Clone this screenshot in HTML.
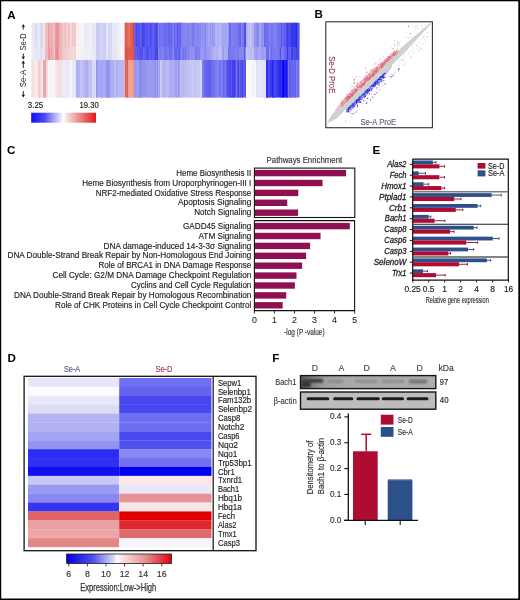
<!DOCTYPE html>
<html><head><meta charset="utf-8"><style>
html,body{margin:0;padding:0;background:#fff;}
svg{display:block;font-family:"Liberation Sans", sans-serif;will-change:transform;}
</style></head><body>
<svg width="520" height="600" viewBox="0 0 520 600">
<rect x="0.00" y="0.00" width="520.00" height="600.00" fill="#fff" />
<text x="7.30" y="18.50" font-size="11.6" fill="#000" text-anchor="start" font-weight="bold" font-style="normal" >A</text>
<text x="314.60" y="18.40" font-size="11.6" fill="#000" text-anchor="start" font-weight="bold" font-style="normal" >B</text>
<text x="7.00" y="153.80" font-size="11.6" fill="#000" text-anchor="start" font-weight="bold" font-style="normal" >C</text>
<text x="7.60" y="362.00" font-size="11.6" fill="#000" text-anchor="start" font-weight="bold" font-style="normal" >D</text>
<text x="372.60" y="153.80" font-size="11.6" fill="#000" text-anchor="start" font-weight="bold" font-style="normal" >E</text>
<text x="272.30" y="361.80" font-size="11.6" fill="#000" text-anchor="start" font-weight="bold" font-style="normal" >F</text>
<rect x="31.60" y="22.80" width="2.70" height="24.20" fill="#ECECF8" />
<rect x="31.60" y="22.80" width="2.00" height="24.20" fill="#EAEAF7"/>
<rect x="33.60" y="22.80" width="0.40" height="24.20" fill="#EFEFF9"/>
<rect x="34.00" y="22.80" width="3.30" height="24.20" fill="#DCDCF4" />
<rect x="34.00" y="22.80" width="2.00" height="24.20" fill="#E0E0F5"/>
<rect x="37.00" y="22.80" width="3.30" height="24.20" fill="#E4E4F6" />
<rect x="37.00" y="22.80" width="2.00" height="24.20" fill="#E7E7F7"/>
<rect x="39.00" y="22.80" width="1.00" height="24.20" fill="#E7E7F7"/>
<rect x="40.00" y="22.80" width="3.30" height="24.20" fill="#D8D8F4" />
<rect x="42.00" y="22.80" width="1.00" height="24.20" fill="#D7D7F4"/>
<rect x="43.00" y="22.80" width="2.30" height="24.20" fill="#F4E8EC" />
<rect x="43.00" y="22.80" width="2.00" height="24.20" fill="#F3E5EA"/>
<rect x="45.00" y="22.80" width="3.30" height="24.20" fill="#F0BCC0" />
<rect x="48.00" y="22.80" width="4.30" height="24.20" fill="#EBA4A8" />
<rect x="48.00" y="22.80" width="1.00" height="24.20" fill="#E99CA0"/>
<rect x="49.00" y="22.80" width="2.00" height="24.20" fill="#EDACAF"/>
<rect x="51.00" y="22.80" width="1.00" height="24.20" fill="#EEB3B6"/>
<rect x="52.00" y="22.80" width="3.30" height="24.20" fill="#EFB4B8" />
<rect x="52.00" y="22.80" width="1.00" height="24.20" fill="#EEAFB4"/>
<rect x="53.00" y="22.80" width="1.50" height="24.20" fill="#F1BEC1"/>
<rect x="55.00" y="22.80" width="4.30" height="24.20" fill="#E8949C" />
<rect x="55.00" y="22.80" width="1.50" height="24.20" fill="#EA9EA5"/>
<rect x="56.50" y="22.80" width="1.00" height="24.20" fill="#E78D96"/>
<rect x="59.00" y="22.80" width="3.30" height="24.20" fill="#F0B8BC" />
<rect x="59.00" y="22.80" width="1.50" height="24.20" fill="#EFB4B8"/>
<rect x="60.50" y="22.80" width="1.00" height="24.20" fill="#EEAEB3"/>
<rect x="61.50" y="22.80" width="0.50" height="24.20" fill="#EFB3B8"/>
<rect x="62.00" y="22.80" width="4.30" height="24.20" fill="#F0C8CC" />
<rect x="62.00" y="22.80" width="1.00" height="24.20" fill="#EFC5C9"/>
<rect x="63.00" y="22.80" width="1.00" height="24.20" fill="#F1CCD0"/>
<rect x="64.00" y="22.80" width="1.00" height="24.20" fill="#EFC5CA"/>
<rect x="65.00" y="22.80" width="1.00" height="24.20" fill="#EDBDC2"/>
<rect x="66.00" y="22.80" width="4.30" height="24.20" fill="#F0C8CC" />
<rect x="66.00" y="22.80" width="2.00" height="24.20" fill="#F2CED1"/>
<rect x="68.00" y="22.80" width="2.00" height="24.20" fill="#EFC3C7"/>
<rect x="70.00" y="22.80" width="2.30" height="24.20" fill="#F4D8DA" />
<rect x="70.00" y="22.80" width="1.00" height="24.20" fill="#F5DADC"/>
<rect x="72.00" y="22.80" width="4.30" height="24.20" fill="#F0CCD0" />
<rect x="72.00" y="22.80" width="1.50" height="24.20" fill="#EFC8CD"/>
<rect x="73.50" y="22.80" width="2.00" height="24.20" fill="#EFCACE"/>
<rect x="75.50" y="22.80" width="0.50" height="24.20" fill="#EFC7CC"/>
<rect x="76.00" y="22.80" width="4.30" height="24.20" fill="#F8F0F2" />
<rect x="76.00" y="22.80" width="1.00" height="24.20" fill="#F7EEF1"/>
<rect x="77.00" y="22.80" width="1.00" height="24.20" fill="#F9F2F3"/>
<rect x="79.00" y="22.80" width="1.00" height="24.20" fill="#FAF4F5"/>
<rect x="80.00" y="22.80" width="4.30" height="24.20" fill="#F4F4FA" />
<rect x="83.00" y="22.80" width="1.00" height="24.20" fill="#F4F4FA"/>
<rect x="84.00" y="22.80" width="4.30" height="24.20" fill="#ECECF8" />
<rect x="84.00" y="22.80" width="1.00" height="24.20" fill="#E9E9F7"/>
<rect x="87.50" y="22.80" width="0.50" height="24.20" fill="#EAEAF7"/>
<rect x="88.00" y="22.80" width="4.30" height="24.20" fill="#F0F0FA" />
<rect x="88.00" y="22.80" width="1.00" height="24.20" fill="#EFEFFA"/>
<rect x="91.50" y="22.80" width="0.50" height="24.20" fill="#F1F1FA"/>
<rect x="92.00" y="22.80" width="4.30" height="24.20" fill="#E8E8F8" />
<rect x="92.00" y="22.80" width="2.00" height="24.20" fill="#E7E7F8"/>
<rect x="95.00" y="22.80" width="1.00" height="24.20" fill="#EAEAF8"/>
<rect x="96.00" y="22.80" width="3.30" height="24.20" fill="#C8C8F4" />
<rect x="96.00" y="22.80" width="2.00" height="24.20" fill="#CBCBF5"/>
<rect x="98.00" y="22.80" width="1.00" height="24.20" fill="#C2C2F3"/>
<rect x="99.00" y="22.80" width="4.30" height="24.20" fill="#D4D4F6" />
<rect x="102.00" y="22.80" width="1.00" height="24.20" fill="#D2D2F6"/>
<rect x="103.00" y="22.80" width="3.30" height="24.20" fill="#CCCCF4" />
<rect x="104.00" y="22.80" width="1.00" height="24.20" fill="#CFCFF5"/>
<rect x="105.00" y="22.80" width="1.00" height="24.20" fill="#C7C7F3"/>
<rect x="106.00" y="22.80" width="2.30" height="24.20" fill="#E4E4F8" />
<rect x="106.00" y="22.80" width="2.00" height="24.20" fill="#E6E6F9"/>
<rect x="108.00" y="22.80" width="4.30" height="24.20" fill="#D8D8F6" />
<rect x="111.50" y="22.80" width="0.50" height="24.20" fill="#DBDBF7"/>
<rect x="112.00" y="22.80" width="5.30" height="24.20" fill="#E8E8F8" />
<rect x="114.00" y="22.80" width="1.00" height="24.20" fill="#E7E7F8"/>
<rect x="116.00" y="22.80" width="1.00" height="24.20" fill="#E5E5F7"/>
<rect x="117.00" y="22.80" width="3.30" height="24.20" fill="#F0F0FA" />
<rect x="117.00" y="22.80" width="1.50" height="24.20" fill="#EFEFFA"/>
<rect x="118.50" y="22.80" width="1.00" height="24.20" fill="#EDEDF9"/>
<rect x="120.00" y="22.80" width="4.30" height="24.20" fill="#F4F4FA" />
<rect x="120.00" y="22.80" width="1.00" height="24.20" fill="#F3F3FA"/>
<rect x="121.00" y="22.80" width="1.00" height="24.20" fill="#F4F4FA"/>
<rect x="122.00" y="22.80" width="1.00" height="24.20" fill="#F3F3FA"/>
<rect x="123.00" y="22.80" width="1.00" height="24.20" fill="#F5F5FB"/>
<rect x="124.00" y="22.80" width="1.10" height="24.20" fill="#F8F0F0" />
<rect x="124.00" y="22.80" width="0.80" height="24.20" fill="#F7EEEE"/>
<rect x="124.80" y="22.80" width="2.50" height="24.20" fill="#D44A3C" />
<rect x="124.80" y="22.80" width="1.00" height="24.20" fill="#DB695E"/>
<rect x="125.80" y="22.80" width="1.20" height="24.20" fill="#D95E51"/>
<rect x="127.00" y="22.80" width="3.30" height="24.20" fill="#E05A4C" />
<rect x="127.00" y="22.80" width="1.50" height="24.20" fill="#E26659"/>
<rect x="128.50" y="22.80" width="1.00" height="24.20" fill="#E77E73"/>
<rect x="129.50" y="22.80" width="0.50" height="24.20" fill="#E47266"/>
<rect x="130.00" y="22.80" width="3.30" height="24.20" fill="#E2604F" />
<rect x="131.50" y="22.80" width="1.00" height="24.20" fill="#E15A49"/>
<rect x="133.00" y="22.80" width="1.60" height="24.20" fill="#D85A4C" />
<rect x="133.00" y="22.80" width="1.00" height="24.20" fill="#D34637"/>
<rect x="134.00" y="22.80" width="0.30" height="24.20" fill="#DB685B"/>
<rect x="134.30" y="22.80" width="4.00" height="24.20" fill="#5656EE" />
<rect x="134.30" y="22.80" width="1.50" height="24.20" fill="#6464EF"/>
<rect x="135.80" y="22.80" width="1.00" height="24.20" fill="#4343EC"/>
<rect x="138.00" y="22.80" width="8.30" height="24.20" fill="#5252EE" />
<rect x="140.00" y="22.80" width="1.00" height="24.20" fill="#5D5DEF"/>
<rect x="141.00" y="22.80" width="1.00" height="24.20" fill="#5D5DEF"/>
<rect x="142.00" y="22.80" width="1.00" height="24.20" fill="#3F3FEC"/>
<rect x="143.00" y="22.80" width="1.50" height="24.20" fill="#4747ED"/>
<rect x="146.00" y="22.80" width="6.30" height="24.20" fill="#4646EE" />
<rect x="146.00" y="22.80" width="2.00" height="24.20" fill="#5656F0"/>
<rect x="148.00" y="22.80" width="2.00" height="24.20" fill="#5A5AF0"/>
<rect x="151.00" y="22.80" width="1.00" height="24.20" fill="#5555EF"/>
<rect x="152.00" y="22.80" width="6.30" height="24.20" fill="#5050EE" />
<rect x="152.00" y="22.80" width="1.00" height="24.20" fill="#5B5BEF"/>
<rect x="153.00" y="22.80" width="1.00" height="24.20" fill="#6666F0"/>
<rect x="156.00" y="22.80" width="1.50" height="24.20" fill="#4444ED"/>
<rect x="157.50" y="22.80" width="0.50" height="24.20" fill="#5959EF"/>
<rect x="158.00" y="22.80" width="4.30" height="24.20" fill="#6E6EF0" />
<rect x="158.00" y="22.80" width="1.00" height="24.20" fill="#8484F2"/>
<rect x="160.50" y="22.80" width="1.50" height="24.20" fill="#7878F1"/>
<rect x="162.00" y="22.80" width="8.30" height="24.20" fill="#7070F0" />
<rect x="164.00" y="22.80" width="1.50" height="24.20" fill="#6C6CF0"/>
<rect x="165.50" y="22.80" width="1.00" height="24.20" fill="#6363EF"/>
<rect x="166.50" y="22.80" width="1.00" height="24.20" fill="#7D7DF1"/>
<rect x="167.50" y="22.80" width="1.50" height="24.20" fill="#6565EF"/>
<rect x="169.00" y="22.80" width="1.00" height="24.20" fill="#6666EF"/>
<rect x="170.00" y="22.80" width="4.30" height="24.20" fill="#7474F0" />
<rect x="170.00" y="22.80" width="1.00" height="24.20" fill="#6969EF"/>
<rect x="171.00" y="22.80" width="1.00" height="24.20" fill="#6A6AEF"/>
<rect x="173.00" y="22.80" width="1.00" height="24.20" fill="#7E7EF1"/>
<rect x="174.00" y="22.80" width="7.30" height="24.20" fill="#6464F0" />
<rect x="175.00" y="22.80" width="2.00" height="24.20" fill="#7171F1"/>
<rect x="177.00" y="22.80" width="1.50" height="24.20" fill="#5959EF"/>
<rect x="178.50" y="22.80" width="2.00" height="24.20" fill="#6F6FF1"/>
<rect x="180.50" y="22.80" width="0.50" height="24.20" fill="#4C4CEE"/>
<rect x="181.00" y="22.80" width="5.30" height="24.20" fill="#7C7CF0" />
<rect x="181.00" y="22.80" width="1.00" height="24.20" fill="#8080F0"/>
<rect x="182.00" y="22.80" width="1.50" height="24.20" fill="#8585F1"/>
<rect x="183.50" y="22.80" width="1.50" height="24.20" fill="#8585F1"/>
<rect x="185.00" y="22.80" width="1.00" height="24.20" fill="#8888F1"/>
<rect x="186.00" y="22.80" width="8.30" height="24.20" fill="#8484F0" />
<rect x="190.50" y="22.80" width="1.00" height="24.20" fill="#9797F2"/>
<rect x="191.50" y="22.80" width="2.00" height="24.20" fill="#7979EF"/>
<rect x="193.50" y="22.80" width="0.50" height="24.20" fill="#7B7BEF"/>
<rect x="194.00" y="22.80" width="5.30" height="24.20" fill="#8282F0" />
<rect x="195.00" y="22.80" width="2.00" height="24.20" fill="#8989F1"/>
<rect x="199.00" y="22.80" width="7.30" height="24.20" fill="#9090F2" />
<rect x="199.00" y="22.80" width="1.00" height="24.20" fill="#8D8DF2"/>
<rect x="200.00" y="22.80" width="1.50" height="24.20" fill="#8989F1"/>
<rect x="201.50" y="22.80" width="1.00" height="24.20" fill="#9E9EF4"/>
<rect x="202.50" y="22.80" width="1.00" height="24.20" fill="#8585F1"/>
<rect x="203.50" y="22.80" width="1.00" height="24.20" fill="#A2A2F4"/>
<rect x="204.50" y="22.80" width="1.50" height="24.20" fill="#8585F1"/>
<rect x="206.00" y="22.80" width="6.30" height="24.20" fill="#9898F2" />
<rect x="206.00" y="22.80" width="1.00" height="24.20" fill="#9E9EF3"/>
<rect x="208.00" y="22.80" width="2.00" height="24.20" fill="#A5A5F4"/>
<rect x="210.00" y="22.80" width="1.50" height="24.20" fill="#9C9CF3"/>
<rect x="211.50" y="22.80" width="0.50" height="24.20" fill="#A4A4F4"/>
<rect x="212.00" y="22.80" width="4.30" height="24.20" fill="#A8A8F4" />
<rect x="212.00" y="22.80" width="1.00" height="24.20" fill="#9494F2"/>
<rect x="213.00" y="22.80" width="1.00" height="24.20" fill="#A4A4F4"/>
<rect x="214.00" y="22.80" width="1.00" height="24.20" fill="#9898F2"/>
<rect x="215.00" y="22.80" width="1.00" height="24.20" fill="#B5B5F6"/>
<rect x="216.00" y="22.80" width="6.30" height="24.20" fill="#B4B4F6" />
<rect x="216.00" y="22.80" width="1.50" height="24.20" fill="#B7B7F6"/>
<rect x="217.50" y="22.80" width="1.50" height="24.20" fill="#A9A9F5"/>
<rect x="219.00" y="22.80" width="1.50" height="24.20" fill="#BBBBF7"/>
<rect x="220.50" y="22.80" width="1.00" height="24.20" fill="#AEAEF5"/>
<rect x="222.00" y="22.80" width="6.30" height="24.20" fill="#A4A4F4" />
<rect x="226.50" y="22.80" width="1.50" height="24.20" fill="#A9A9F5"/>
<rect x="228.00" y="22.80" width="6.30" height="24.20" fill="#7070F0" />
<rect x="228.00" y="22.80" width="1.00" height="24.20" fill="#9494F4"/>
<rect x="229.00" y="22.80" width="2.00" height="24.20" fill="#6666EF"/>
<rect x="231.00" y="22.80" width="2.00" height="24.20" fill="#8181F2"/>
<rect x="233.00" y="22.80" width="1.00" height="24.20" fill="#7979F1"/>
<rect x="234.00" y="22.80" width="10.30" height="24.20" fill="#7474F0" />
<rect x="234.00" y="22.80" width="2.00" height="24.20" fill="#7E7EF1"/>
<rect x="237.00" y="22.80" width="1.50" height="24.20" fill="#7979F1"/>
<rect x="238.50" y="22.80" width="1.00" height="24.20" fill="#6969EF"/>
<rect x="239.50" y="22.80" width="1.50" height="24.20" fill="#6161EE"/>
<rect x="241.00" y="22.80" width="1.50" height="24.20" fill="#8F8FF3"/>
<rect x="242.50" y="22.80" width="1.50" height="24.20" fill="#6F6FEF"/>
<rect x="244.00" y="22.80" width="2.30" height="24.20" fill="#6868EE" />
<rect x="244.00" y="22.80" width="1.00" height="24.20" fill="#5858EC"/>
<rect x="245.00" y="22.80" width="1.00" height="24.20" fill="#4545EA"/>
<rect x="246.00" y="22.80" width="8.30" height="24.20" fill="#B8B8F4" />
<rect x="246.00" y="22.80" width="2.00" height="24.20" fill="#B5B5F4"/>
<rect x="248.00" y="22.80" width="1.00" height="24.20" fill="#C2C2F6"/>
<rect x="250.00" y="22.80" width="2.00" height="24.20" fill="#C6C6F6"/>
<rect x="252.00" y="22.80" width="2.00" height="24.20" fill="#B0B0F3"/>
<rect x="254.00" y="22.80" width="10.30" height="24.20" fill="#9898F2" />
<rect x="255.50" y="22.80" width="1.50" height="24.20" fill="#8D8DF1"/>
<rect x="257.00" y="22.80" width="2.00" height="24.20" fill="#8686F0"/>
<rect x="259.00" y="22.80" width="2.00" height="24.20" fill="#A5A5F4"/>
<rect x="261.00" y="22.80" width="1.50" height="24.20" fill="#9090F1"/>
<rect x="262.50" y="22.80" width="1.00" height="24.20" fill="#9292F1"/>
<rect x="263.50" y="22.80" width="0.50" height="24.20" fill="#8D8DF1"/>
<rect x="264.00" y="22.80" width="6.30" height="24.20" fill="#7474F0" />
<rect x="264.00" y="22.80" width="1.00" height="24.20" fill="#6464EE"/>
<rect x="266.00" y="22.80" width="1.50" height="24.20" fill="#6C6CEF"/>
<rect x="269.00" y="22.80" width="1.00" height="24.20" fill="#7D7DF1"/>
<rect x="270.00" y="22.80" width="10.30" height="24.20" fill="#7070F0" />
<rect x="270.00" y="22.80" width="1.00" height="24.20" fill="#8181F2"/>
<rect x="272.50" y="22.80" width="1.00" height="24.20" fill="#7878F1"/>
<rect x="273.50" y="22.80" width="1.00" height="24.20" fill="#8989F3"/>
<rect x="274.50" y="22.80" width="2.00" height="24.20" fill="#8080F2"/>
<rect x="276.50" y="22.80" width="1.00" height="24.20" fill="#8282F2"/>
<rect x="277.50" y="22.80" width="1.00" height="24.20" fill="#6666EF"/>
<rect x="278.50" y="22.80" width="1.00" height="24.20" fill="#7C7CF1"/>
<rect x="279.50" y="22.80" width="0.50" height="24.20" fill="#6565EF"/>
<rect x="280.00" y="22.80" width="6.30" height="24.20" fill="#6464EE" />
<rect x="280.00" y="22.80" width="1.00" height="24.20" fill="#7373F0"/>
<rect x="281.00" y="22.80" width="1.00" height="24.20" fill="#5353EC"/>
<rect x="282.00" y="22.80" width="1.50" height="24.20" fill="#6E6EEF"/>
<rect x="283.50" y="22.80" width="1.00" height="24.20" fill="#6969EF"/>
<rect x="284.50" y="22.80" width="1.00" height="24.20" fill="#5959ED"/>
<rect x="286.00" y="22.80" width="13.50" height="24.20" fill="#4242EE" />
<rect x="286.00" y="22.80" width="1.00" height="24.20" fill="#4D4DEF"/>
<rect x="287.00" y="22.80" width="1.00" height="24.20" fill="#3B3BED"/>
<rect x="288.00" y="22.80" width="1.00" height="24.20" fill="#4848EF"/>
<rect x="289.00" y="22.80" width="1.50" height="24.20" fill="#5050EF"/>
<rect x="290.50" y="22.80" width="2.00" height="24.20" fill="#3636ED"/>
<rect x="292.50" y="22.80" width="1.00" height="24.20" fill="#3B3BED"/>
<rect x="293.50" y="22.80" width="1.00" height="24.20" fill="#2B2BEC"/>
<rect x="294.50" y="22.80" width="1.00" height="24.20" fill="#3A3AED"/>
<rect x="295.50" y="22.80" width="1.50" height="24.20" fill="#2929EC"/>
<rect x="297.00" y="22.80" width="1.00" height="24.20" fill="#4949EF"/>
<rect x="298.00" y="22.80" width="1.20" height="24.20" fill="#5959F0"/>
<rect x="31.60" y="47.00" width="2.70" height="13.00" fill="#EDEDF9" />
<rect x="31.60" y="47.00" width="1.00" height="13.00" fill="#ECECF9"/>
<rect x="32.60" y="47.00" width="1.00" height="13.00" fill="#EFEFFA"/>
<rect x="34.00" y="47.00" width="3.30" height="13.00" fill="#E3E3F6" />
<rect x="34.00" y="47.00" width="2.00" height="13.00" fill="#E6E6F7"/>
<rect x="37.00" y="47.00" width="3.30" height="13.00" fill="#E8E8F8" />
<rect x="37.00" y="47.00" width="1.00" height="13.00" fill="#E7E7F8"/>
<rect x="38.00" y="47.00" width="1.00" height="13.00" fill="#E3E3F7"/>
<rect x="40.00" y="47.00" width="3.30" height="13.00" fill="#E1E1F6" />
<rect x="40.00" y="47.00" width="1.00" height="13.00" fill="#DEDEF5"/>
<rect x="41.00" y="47.00" width="1.00" height="13.00" fill="#DEDEF5"/>
<rect x="42.00" y="47.00" width="1.00" height="13.00" fill="#E2E2F6"/>
<rect x="43.00" y="47.00" width="2.30" height="13.00" fill="#F4E8EC" />
<rect x="43.00" y="47.00" width="1.50" height="13.00" fill="#F3E6EA"/>
<rect x="45.00" y="47.00" width="3.30" height="13.00" fill="#F0BCC0" />
<rect x="45.00" y="47.00" width="1.00" height="13.00" fill="#EFB6BB"/>
<rect x="46.00" y="47.00" width="1.00" height="13.00" fill="#EFB9BD"/>
<rect x="47.00" y="47.00" width="1.00" height="13.00" fill="#EFB6BA"/>
<rect x="48.00" y="47.00" width="4.30" height="13.00" fill="#EBA4A8" />
<rect x="48.00" y="47.00" width="2.00" height="13.00" fill="#E99A9F"/>
<rect x="50.00" y="47.00" width="1.00" height="13.00" fill="#ECA9AD"/>
<rect x="52.00" y="47.00" width="3.30" height="13.00" fill="#EFB4B8" />
<rect x="52.00" y="47.00" width="2.00" height="13.00" fill="#EEB1B6"/>
<rect x="54.00" y="47.00" width="1.00" height="13.00" fill="#F3C7CA"/>
<rect x="55.00" y="47.00" width="4.30" height="13.00" fill="#E8949C" />
<rect x="56.50" y="47.00" width="1.50" height="13.00" fill="#E58790"/>
<rect x="58.00" y="47.00" width="1.00" height="13.00" fill="#EA9CA4"/>
<rect x="59.00" y="47.00" width="3.30" height="13.00" fill="#F0B8BC" />
<rect x="59.00" y="47.00" width="2.00" height="13.00" fill="#EFB4B8"/>
<rect x="61.00" y="47.00" width="1.00" height="13.00" fill="#EFB4B8"/>
<rect x="62.00" y="47.00" width="4.30" height="13.00" fill="#F0C8CC" />
<rect x="64.00" y="47.00" width="1.00" height="13.00" fill="#F1CDD1"/>
<rect x="66.00" y="47.00" width="4.30" height="13.00" fill="#F2D2D5" />
<rect x="66.00" y="47.00" width="1.00" height="13.00" fill="#F3D5D8"/>
<rect x="67.00" y="47.00" width="1.00" height="13.00" fill="#EFC9CC"/>
<rect x="68.00" y="47.00" width="1.00" height="13.00" fill="#F4DADC"/>
<rect x="69.00" y="47.00" width="1.00" height="13.00" fill="#F2D3D6"/>
<rect x="70.00" y="47.00" width="2.30" height="13.00" fill="#F4DBDD" />
<rect x="70.00" y="47.00" width="1.50" height="13.00" fill="#F2D3D5"/>
<rect x="72.00" y="47.00" width="4.30" height="13.00" fill="#F3D9DC" />
<rect x="72.00" y="47.00" width="1.00" height="13.00" fill="#F2D6D9"/>
<rect x="73.00" y="47.00" width="1.00" height="13.00" fill="#F6E2E5"/>
<rect x="74.00" y="47.00" width="1.00" height="13.00" fill="#F0D0D3"/>
<rect x="76.00" y="47.00" width="4.30" height="13.00" fill="#F8F2F2" />
<rect x="76.00" y="47.00" width="1.00" height="13.00" fill="#FAF5F5"/>
<rect x="77.00" y="47.00" width="1.00" height="13.00" fill="#F9F3F3"/>
<rect x="78.00" y="47.00" width="1.50" height="13.00" fill="#F9F3F3"/>
<rect x="80.00" y="47.00" width="4.30" height="13.00" fill="#F2F2F9" />
<rect x="81.00" y="47.00" width="2.00" height="13.00" fill="#F1F1F9"/>
<rect x="84.00" y="47.00" width="4.30" height="13.00" fill="#EDEDF8" />
<rect x="84.00" y="47.00" width="1.50" height="13.00" fill="#EFEFF9"/>
<rect x="85.50" y="47.00" width="1.00" height="13.00" fill="#EEEEF8"/>
<rect x="88.00" y="47.00" width="4.30" height="13.00" fill="#EFEFF9" />
<rect x="88.00" y="47.00" width="1.00" height="13.00" fill="#F0F0F9"/>
<rect x="89.00" y="47.00" width="2.00" height="13.00" fill="#EEEEF9"/>
<rect x="92.00" y="47.00" width="4.30" height="13.00" fill="#EAEAF8" />
<rect x="92.00" y="47.00" width="1.00" height="13.00" fill="#E9E9F8"/>
<rect x="93.00" y="47.00" width="1.00" height="13.00" fill="#ECECF9"/>
<rect x="94.00" y="47.00" width="2.00" height="13.00" fill="#E8E8F7"/>
<rect x="96.00" y="47.00" width="3.30" height="13.00" fill="#C8C8F4" />
<rect x="96.00" y="47.00" width="2.00" height="13.00" fill="#CACAF4"/>
<rect x="98.00" y="47.00" width="1.00" height="13.00" fill="#CBCBF5"/>
<rect x="99.00" y="47.00" width="4.30" height="13.00" fill="#CFCFF5" />
<rect x="99.00" y="47.00" width="1.50" height="13.00" fill="#CCCCF4"/>
<rect x="100.50" y="47.00" width="1.50" height="13.00" fill="#D3D3F6"/>
<rect x="102.00" y="47.00" width="1.00" height="13.00" fill="#D5D5F6"/>
<rect x="103.00" y="47.00" width="3.30" height="13.00" fill="#CACAF4" />
<rect x="104.00" y="47.00" width="1.00" height="13.00" fill="#D0D0F5"/>
<rect x="106.00" y="47.00" width="2.30" height="13.00" fill="#E4E4F8" />
<rect x="106.00" y="47.00" width="1.50" height="13.00" fill="#E6E6F9"/>
<rect x="107.50" y="47.00" width="0.50" height="13.00" fill="#DDDDF6"/>
<rect x="108.00" y="47.00" width="4.30" height="13.00" fill="#D8D8F6" />
<rect x="108.00" y="47.00" width="1.50" height="13.00" fill="#D5D5F5"/>
<rect x="110.50" y="47.00" width="1.50" height="13.00" fill="#DADAF7"/>
<rect x="112.00" y="47.00" width="5.30" height="13.00" fill="#E8E8F8" />
<rect x="112.00" y="47.00" width="1.50" height="13.00" fill="#E6E6F8"/>
<rect x="114.50" y="47.00" width="2.00" height="13.00" fill="#E5E5F7"/>
<rect x="116.50" y="47.00" width="0.50" height="13.00" fill="#E4E4F7"/>
<rect x="117.00" y="47.00" width="3.30" height="13.00" fill="#F0F0FA" />
<rect x="117.00" y="47.00" width="1.00" height="13.00" fill="#EFEFFA"/>
<rect x="119.00" y="47.00" width="1.00" height="13.00" fill="#EFEFFA"/>
<rect x="120.00" y="47.00" width="4.30" height="13.00" fill="#F4F4FA" />
<rect x="120.00" y="47.00" width="1.00" height="13.00" fill="#F5F5FA"/>
<rect x="121.00" y="47.00" width="1.00" height="13.00" fill="#F4F4FA"/>
<rect x="122.00" y="47.00" width="2.00" height="13.00" fill="#F4F4FA"/>
<rect x="124.00" y="47.00" width="1.10" height="13.00" fill="#F8F0F0" />
<rect x="124.00" y="47.00" width="0.80" height="13.00" fill="#F9F2F2"/>
<rect x="124.80" y="47.00" width="2.50" height="13.00" fill="#D6493A" />
<rect x="124.80" y="47.00" width="2.00" height="13.00" fill="#D95749"/>
<rect x="127.00" y="47.00" width="3.30" height="13.00" fill="#DD5344" />
<rect x="128.50" y="47.00" width="1.00" height="13.00" fill="#E16658"/>
<rect x="130.00" y="47.00" width="3.30" height="13.00" fill="#DE5646" />
<rect x="130.00" y="47.00" width="1.00" height="13.00" fill="#E06152"/>
<rect x="132.50" y="47.00" width="0.50" height="13.00" fill="#E26B5D"/>
<rect x="133.00" y="47.00" width="1.30" height="13.00" fill="#D85344" />
<rect x="134.00" y="47.00" width="0.60" height="13.00" fill="#D85344" />
<rect x="134.00" y="47.00" width="0.30" height="13.00" fill="#D33C2B"/>
<rect x="134.30" y="47.00" width="4.00" height="13.00" fill="#5A5AEE" />
<rect x="135.80" y="47.00" width="1.00" height="13.00" fill="#6464EF"/>
<rect x="138.00" y="47.00" width="8.30" height="13.00" fill="#5858EE" />
<rect x="140.00" y="47.00" width="1.00" height="13.00" fill="#4848EC"/>
<rect x="142.00" y="47.00" width="1.00" height="13.00" fill="#4C4CED"/>
<rect x="143.00" y="47.00" width="1.00" height="13.00" fill="#6C6CF0"/>
<rect x="144.00" y="47.00" width="1.50" height="13.00" fill="#5F5FEF"/>
<rect x="145.50" y="47.00" width="0.50" height="13.00" fill="#6262EF"/>
<rect x="146.00" y="47.00" width="6.30" height="13.00" fill="#5050EE" />
<rect x="149.50" y="47.00" width="1.00" height="13.00" fill="#6E6EF1"/>
<rect x="150.50" y="47.00" width="1.00" height="13.00" fill="#6C6CF1"/>
<rect x="151.50" y="47.00" width="0.50" height="13.00" fill="#4646ED"/>
<rect x="152.00" y="47.00" width="6.30" height="13.00" fill="#5656EE" />
<rect x="152.00" y="47.00" width="2.00" height="13.00" fill="#6060EF"/>
<rect x="154.00" y="47.00" width="1.00" height="13.00" fill="#5151ED"/>
<rect x="155.00" y="47.00" width="1.50" height="13.00" fill="#4646EC"/>
<rect x="156.50" y="47.00" width="1.50" height="13.00" fill="#3E3EEC"/>
<rect x="158.00" y="47.00" width="4.30" height="13.00" fill="#7272F0" />
<rect x="158.00" y="47.00" width="1.50" height="13.00" fill="#8686F2"/>
<rect x="159.50" y="47.00" width="1.00" height="13.00" fill="#7878F1"/>
<rect x="160.50" y="47.00" width="1.50" height="13.00" fill="#7C7CF1"/>
<rect x="162.00" y="47.00" width="8.30" height="13.00" fill="#7373F0" />
<rect x="162.00" y="47.00" width="2.00" height="13.00" fill="#8181F1"/>
<rect x="164.00" y="47.00" width="1.50" height="13.00" fill="#6E6EF0"/>
<rect x="167.50" y="47.00" width="2.00" height="13.00" fill="#7A7AF1"/>
<rect x="169.50" y="47.00" width="0.50" height="13.00" fill="#5E5EEE"/>
<rect x="170.00" y="47.00" width="4.30" height="13.00" fill="#7676F0" />
<rect x="170.00" y="47.00" width="1.50" height="13.00" fill="#7272F0"/>
<rect x="171.50" y="47.00" width="1.00" height="13.00" fill="#6464EE"/>
<rect x="172.50" y="47.00" width="1.50" height="13.00" fill="#8B8BF2"/>
<rect x="174.00" y="47.00" width="7.30" height="13.00" fill="#6868F0" />
<rect x="175.50" y="47.00" width="1.50" height="13.00" fill="#6161EF"/>
<rect x="177.00" y="47.00" width="1.50" height="13.00" fill="#6E6EF1"/>
<rect x="178.50" y="47.00" width="1.50" height="13.00" fill="#5E5EEF"/>
<rect x="180.00" y="47.00" width="1.00" height="13.00" fill="#6F6FF1"/>
<rect x="181.00" y="47.00" width="5.30" height="13.00" fill="#7676F0" />
<rect x="181.00" y="47.00" width="1.50" height="13.00" fill="#8B8BF2"/>
<rect x="182.50" y="47.00" width="1.50" height="13.00" fill="#6E6EEF"/>
<rect x="184.00" y="47.00" width="2.00" height="13.00" fill="#7B7BF1"/>
<rect x="186.00" y="47.00" width="8.30" height="13.00" fill="#8686F0" />
<rect x="186.00" y="47.00" width="1.00" height="13.00" fill="#7C7CEF"/>
<rect x="187.00" y="47.00" width="1.00" height="13.00" fill="#8D8DF1"/>
<rect x="188.00" y="47.00" width="1.50" height="13.00" fill="#7E7EEF"/>
<rect x="189.50" y="47.00" width="2.00" height="13.00" fill="#9797F2"/>
<rect x="191.50" y="47.00" width="1.50" height="13.00" fill="#9090F1"/>
<rect x="193.00" y="47.00" width="1.00" height="13.00" fill="#9A9AF2"/>
<rect x="194.00" y="47.00" width="5.30" height="13.00" fill="#8484F0" />
<rect x="194.00" y="47.00" width="1.00" height="13.00" fill="#8989F1"/>
<rect x="195.00" y="47.00" width="1.00" height="13.00" fill="#7A7AEF"/>
<rect x="196.00" y="47.00" width="1.50" height="13.00" fill="#7D7DEF"/>
<rect x="198.50" y="47.00" width="0.50" height="13.00" fill="#8080F0"/>
<rect x="199.00" y="47.00" width="1.30" height="13.00" fill="#8D8DF1" />
<rect x="199.00" y="47.00" width="1.00" height="13.00" fill="#7E7EEF"/>
<rect x="200.00" y="47.00" width="6.30" height="13.00" fill="#9696F2" />
<rect x="202.00" y="47.00" width="1.00" height="13.00" fill="#9D9DF3"/>
<rect x="203.00" y="47.00" width="1.00" height="13.00" fill="#9A9AF2"/>
<rect x="204.00" y="47.00" width="1.50" height="13.00" fill="#8989F0"/>
<rect x="205.50" y="47.00" width="0.50" height="13.00" fill="#8E8EF1"/>
<rect x="206.00" y="47.00" width="4.30" height="13.00" fill="#9B9BF2" />
<rect x="206.00" y="47.00" width="1.00" height="13.00" fill="#8E8EF0"/>
<rect x="210.00" y="47.00" width="2.30" height="13.00" fill="#A5A5F3" />
<rect x="210.00" y="47.00" width="1.50" height="13.00" fill="#9F9FF2"/>
<rect x="211.50" y="47.00" width="0.50" height="13.00" fill="#ABABF4"/>
<rect x="212.00" y="47.00" width="4.30" height="13.00" fill="#AEAEF4" />
<rect x="212.00" y="47.00" width="1.50" height="13.00" fill="#AAAAF3"/>
<rect x="213.50" y="47.00" width="1.00" height="13.00" fill="#B7B7F5"/>
<rect x="215.50" y="47.00" width="0.50" height="13.00" fill="#BABAF6"/>
<rect x="216.00" y="47.00" width="6.30" height="13.00" fill="#B6B6F5" />
<rect x="216.00" y="47.00" width="1.50" height="13.00" fill="#AFAFF4"/>
<rect x="217.50" y="47.00" width="1.00" height="13.00" fill="#B2B2F4"/>
<rect x="218.50" y="47.00" width="2.00" height="13.00" fill="#C2C2F7"/>
<rect x="220.50" y="47.00" width="1.00" height="13.00" fill="#C0C0F6"/>
<rect x="222.00" y="47.00" width="6.30" height="13.00" fill="#ACACF4" />
<rect x="222.00" y="47.00" width="2.00" height="13.00" fill="#9D9DF2"/>
<rect x="224.00" y="47.00" width="1.00" height="13.00" fill="#B4B4F5"/>
<rect x="225.00" y="47.00" width="1.00" height="13.00" fill="#A5A5F3"/>
<rect x="228.00" y="47.00" width="6.30" height="13.00" fill="#7B7BF0" />
<rect x="228.00" y="47.00" width="1.50" height="13.00" fill="#6F6FEF"/>
<rect x="229.50" y="47.00" width="1.50" height="13.00" fill="#7777F0"/>
<rect x="233.50" y="47.00" width="0.50" height="13.00" fill="#7474EF"/>
<rect x="234.00" y="47.00" width="10.30" height="13.00" fill="#7E7EF0" />
<rect x="238.00" y="47.00" width="1.50" height="13.00" fill="#7777EF"/>
<rect x="239.50" y="47.00" width="1.00" height="13.00" fill="#8B8BF2"/>
<rect x="240.50" y="47.00" width="2.00" height="13.00" fill="#8686F1"/>
<rect x="242.50" y="47.00" width="1.00" height="13.00" fill="#9595F3"/>
<rect x="243.50" y="47.00" width="0.50" height="13.00" fill="#7575EF"/>
<rect x="244.00" y="47.00" width="2.30" height="13.00" fill="#7676EF" />
<rect x="244.00" y="47.00" width="1.00" height="13.00" fill="#5D5DEC"/>
<rect x="245.00" y="47.00" width="1.00" height="13.00" fill="#8585F1"/>
<rect x="246.00" y="47.00" width="8.30" height="13.00" fill="#BEBEF4" />
<rect x="246.00" y="47.00" width="1.50" height="13.00" fill="#C4C4F5"/>
<rect x="249.00" y="47.00" width="1.00" height="13.00" fill="#C2C2F5"/>
<rect x="251.00" y="47.00" width="1.00" height="13.00" fill="#B4B4F2"/>
<rect x="252.00" y="47.00" width="2.00" height="13.00" fill="#C1C1F5"/>
<rect x="254.00" y="47.00" width="10.30" height="13.00" fill="#A0A0F2" />
<rect x="255.50" y="47.00" width="1.00" height="13.00" fill="#A3A3F2"/>
<rect x="256.50" y="47.00" width="1.00" height="13.00" fill="#9393F0"/>
<rect x="257.50" y="47.00" width="2.00" height="13.00" fill="#ADADF4"/>
<rect x="260.50" y="47.00" width="1.00" height="13.00" fill="#ABABF4"/>
<rect x="261.50" y="47.00" width="2.00" height="13.00" fill="#9C9CF1"/>
<rect x="263.50" y="47.00" width="0.50" height="13.00" fill="#9A9AF1"/>
<rect x="264.00" y="47.00" width="2.30" height="13.00" fill="#8A8AF1" />
<rect x="264.00" y="47.00" width="1.00" height="13.00" fill="#A0A0F4"/>
<rect x="265.00" y="47.00" width="1.00" height="13.00" fill="#A3A3F4"/>
<rect x="266.00" y="47.00" width="4.30" height="13.00" fill="#7979F0" />
<rect x="266.00" y="47.00" width="1.00" height="13.00" fill="#6D6DEF"/>
<rect x="267.00" y="47.00" width="1.00" height="13.00" fill="#6868EE"/>
<rect x="268.00" y="47.00" width="1.00" height="13.00" fill="#6F6FEF"/>
<rect x="269.00" y="47.00" width="1.00" height="13.00" fill="#8E8EF2"/>
<rect x="270.00" y="47.00" width="10.30" height="13.00" fill="#7676F0" />
<rect x="270.00" y="47.00" width="1.00" height="13.00" fill="#8080F1"/>
<rect x="271.00" y="47.00" width="1.00" height="13.00" fill="#6868EF"/>
<rect x="274.00" y="47.00" width="1.50" height="13.00" fill="#7B7BF1"/>
<rect x="276.50" y="47.00" width="1.00" height="13.00" fill="#8282F1"/>
<rect x="279.50" y="47.00" width="0.50" height="13.00" fill="#6767EE"/>
<rect x="280.00" y="47.00" width="6.30" height="13.00" fill="#6F6FEF" />
<rect x="280.00" y="47.00" width="1.00" height="13.00" fill="#4F4FEB"/>
<rect x="281.00" y="47.00" width="1.50" height="13.00" fill="#7A7AF0"/>
<rect x="282.50" y="47.00" width="1.50" height="13.00" fill="#7D7DF1"/>
<rect x="284.00" y="47.00" width="2.00" height="13.00" fill="#6666EE"/>
<rect x="286.00" y="47.00" width="13.50" height="13.00" fill="#4E4EEE" />
<rect x="286.00" y="47.00" width="1.00" height="13.00" fill="#5D5DEF"/>
<rect x="287.00" y="47.00" width="1.00" height="13.00" fill="#3B3BEC"/>
<rect x="288.00" y="47.00" width="2.00" height="13.00" fill="#5A5AEF"/>
<rect x="290.00" y="47.00" width="1.00" height="13.00" fill="#6666F0"/>
<rect x="291.00" y="47.00" width="2.00" height="13.00" fill="#3F3FED"/>
<rect x="296.00" y="47.00" width="1.00" height="13.00" fill="#4646ED"/>
<rect x="297.00" y="47.00" width="1.00" height="13.00" fill="#4747ED"/>
<rect x="31.60" y="60.00" width="2.70" height="37.50" fill="#F4E0E4" />
<rect x="31.60" y="60.00" width="1.50" height="37.50" fill="#F2DCE0"/>
<rect x="33.10" y="60.00" width="0.90" height="37.50" fill="#F4E1E5"/>
<rect x="34.00" y="60.00" width="4.30" height="37.50" fill="#F8E8EA" />
<rect x="34.00" y="60.00" width="1.50" height="37.50" fill="#F8E7E9"/>
<rect x="35.50" y="60.00" width="1.00" height="37.50" fill="#F7E6E8"/>
<rect x="38.00" y="60.00" width="3.30" height="37.50" fill="#F0D0D4" />
<rect x="38.00" y="60.00" width="2.00" height="37.50" fill="#EFCDD1"/>
<rect x="40.00" y="60.00" width="1.00" height="37.50" fill="#F1D4D8"/>
<rect x="41.00" y="60.00" width="2.30" height="37.50" fill="#F8E4E6" />
<rect x="42.00" y="60.00" width="1.00" height="37.50" fill="#F8E5E7"/>
<rect x="43.00" y="60.00" width="3.30" height="37.50" fill="#E8A4AC" />
<rect x="43.00" y="60.00" width="1.00" height="37.50" fill="#E9A7AF"/>
<rect x="46.00" y="60.00" width="2.30" height="37.50" fill="#F4D8DC" />
<rect x="48.00" y="60.00" width="7.30" height="37.50" fill="#FAF4F6" />
<rect x="52.00" y="60.00" width="1.00" height="37.50" fill="#FAF5F7"/>
<rect x="53.00" y="60.00" width="2.00" height="37.50" fill="#FBF5F7"/>
<rect x="55.00" y="60.00" width="3.30" height="37.50" fill="#F6E4E8" />
<rect x="55.00" y="60.00" width="2.00" height="37.50" fill="#F6E5E9"/>
<rect x="57.00" y="60.00" width="1.00" height="37.50" fill="#F5E2E6"/>
<rect x="58.00" y="60.00" width="4.30" height="37.50" fill="#F4DCE0" />
<rect x="58.00" y="60.00" width="2.00" height="37.50" fill="#F5DEE2"/>
<rect x="60.00" y="60.00" width="1.00" height="37.50" fill="#F5DEE2"/>
<rect x="62.00" y="60.00" width="4.30" height="37.50" fill="#ECECF8" />
<rect x="62.00" y="60.00" width="1.50" height="37.50" fill="#EBEBF8"/>
<rect x="63.50" y="60.00" width="2.00" height="37.50" fill="#EBEBF8"/>
<rect x="65.50" y="60.00" width="0.50" height="37.50" fill="#EBEBF8"/>
<rect x="66.00" y="60.00" width="4.30" height="37.50" fill="#E8E8F8" />
<rect x="66.00" y="60.00" width="1.50" height="37.50" fill="#E7E7F8"/>
<rect x="67.50" y="60.00" width="1.00" height="37.50" fill="#EBEBF9"/>
<rect x="70.00" y="60.00" width="2.30" height="37.50" fill="#F4F4FA" />
<rect x="70.00" y="60.00" width="1.00" height="37.50" fill="#F6F6FB"/>
<rect x="71.00" y="60.00" width="1.00" height="37.50" fill="#F5F5FA"/>
<rect x="72.00" y="60.00" width="4.30" height="37.50" fill="#E8E8F8" />
<rect x="72.00" y="60.00" width="1.00" height="37.50" fill="#EAEAF8"/>
<rect x="75.00" y="60.00" width="1.00" height="37.50" fill="#E6E6F8"/>
<rect x="76.00" y="60.00" width="4.30" height="37.50" fill="#B4B4F2" />
<rect x="76.00" y="60.00" width="2.00" height="37.50" fill="#AEAEF1"/>
<rect x="78.00" y="60.00" width="1.50" height="37.50" fill="#BBBBF3"/>
<rect x="79.50" y="60.00" width="0.50" height="37.50" fill="#A6A6F0"/>
<rect x="80.00" y="60.00" width="4.30" height="37.50" fill="#C0C0F4" />
<rect x="80.00" y="60.00" width="1.50" height="37.50" fill="#C3C3F4"/>
<rect x="82.50" y="60.00" width="1.00" height="37.50" fill="#BABAF3"/>
<rect x="83.50" y="60.00" width="0.50" height="37.50" fill="#C4C4F5"/>
<rect x="84.00" y="60.00" width="4.30" height="37.50" fill="#B8B8F2" />
<rect x="84.00" y="60.00" width="1.50" height="37.50" fill="#B3B3F1"/>
<rect x="85.50" y="60.00" width="1.50" height="37.50" fill="#AFAFF0"/>
<rect x="87.00" y="60.00" width="1.00" height="37.50" fill="#AFAFF0"/>
<rect x="88.00" y="60.00" width="4.30" height="37.50" fill="#C4C4F4" />
<rect x="88.00" y="60.00" width="1.50" height="37.50" fill="#BDBDF3"/>
<rect x="91.00" y="60.00" width="1.00" height="37.50" fill="#BDBDF3"/>
<rect x="92.00" y="60.00" width="4.30" height="37.50" fill="#D4D4F6" />
<rect x="92.00" y="60.00" width="1.00" height="37.50" fill="#DADAF7"/>
<rect x="93.00" y="60.00" width="2.00" height="37.50" fill="#D8D8F7"/>
<rect x="95.00" y="60.00" width="1.00" height="37.50" fill="#DADAF7"/>
<rect x="96.00" y="60.00" width="4.30" height="37.50" fill="#9C9CF0" />
<rect x="96.00" y="60.00" width="1.00" height="37.50" fill="#9393EF"/>
<rect x="98.50" y="60.00" width="1.50" height="37.50" fill="#ADADF3"/>
<rect x="100.00" y="60.00" width="6.30" height="37.50" fill="#A8A8F2" />
<rect x="100.00" y="60.00" width="1.00" height="37.50" fill="#A4A4F1"/>
<rect x="101.00" y="60.00" width="1.00" height="37.50" fill="#A1A1F1"/>
<rect x="102.00" y="60.00" width="1.00" height="37.50" fill="#ACACF3"/>
<rect x="106.00" y="60.00" width="4.30" height="37.50" fill="#9C9CF0" />
<rect x="106.00" y="60.00" width="1.00" height="37.50" fill="#9898EF"/>
<rect x="107.00" y="60.00" width="1.50" height="37.50" fill="#8D8DEE"/>
<rect x="108.50" y="60.00" width="1.00" height="37.50" fill="#9797EF"/>
<rect x="109.50" y="60.00" width="0.50" height="37.50" fill="#9090EE"/>
<rect x="110.00" y="60.00" width="4.30" height="37.50" fill="#A8A8F2" />
<rect x="110.00" y="60.00" width="2.00" height="37.50" fill="#ABABF2"/>
<rect x="112.00" y="60.00" width="1.50" height="37.50" fill="#B1B1F3"/>
<rect x="113.50" y="60.00" width="0.50" height="37.50" fill="#A2A2F1"/>
<rect x="114.00" y="60.00" width="4.30" height="37.50" fill="#B0B0F2" />
<rect x="114.00" y="60.00" width="1.50" height="37.50" fill="#C4C4F5"/>
<rect x="117.50" y="60.00" width="0.50" height="37.50" fill="#ADADF2"/>
<rect x="118.00" y="60.00" width="6.30" height="37.50" fill="#B8B8F4" />
<rect x="124.00" y="60.00" width="1.10" height="37.50" fill="#C0C0F4" />
<rect x="124.00" y="60.00" width="0.80" height="37.50" fill="#CCCCF6"/>
<rect x="124.80" y="60.00" width="3.50" height="37.50" fill="#E26656" />
<rect x="126.30" y="60.00" width="1.00" height="37.50" fill="#E47263"/>
<rect x="127.30" y="60.00" width="0.70" height="37.50" fill="#E05B4A"/>
<rect x="128.00" y="60.00" width="4.30" height="37.50" fill="#F0A496" />
<rect x="128.00" y="60.00" width="2.00" height="37.50" fill="#EF9E8F"/>
<rect x="130.00" y="60.00" width="1.00" height="37.50" fill="#F1A89A"/>
<rect x="132.00" y="60.00" width="2.60" height="37.50" fill="#EC8C7E" />
<rect x="132.00" y="60.00" width="1.50" height="37.50" fill="#EE9A8D"/>
<rect x="133.50" y="60.00" width="0.80" height="37.50" fill="#EFA095"/>
<rect x="134.30" y="60.00" width="4.00" height="37.50" fill="#9898F0" />
<rect x="134.30" y="60.00" width="1.50" height="37.50" fill="#9292EF"/>
<rect x="135.80" y="60.00" width="1.00" height="37.50" fill="#9F9FF1"/>
<rect x="136.80" y="60.00" width="1.00" height="37.50" fill="#9E9EF1"/>
<rect x="138.00" y="60.00" width="8.30" height="37.50" fill="#9494F0" />
<rect x="138.00" y="60.00" width="1.00" height="37.50" fill="#9C9CF1"/>
<rect x="139.00" y="60.00" width="1.00" height="37.50" fill="#8686EE"/>
<rect x="140.00" y="60.00" width="1.00" height="37.50" fill="#8A8AEF"/>
<rect x="141.00" y="60.00" width="2.00" height="37.50" fill="#8D8DEF"/>
<rect x="146.00" y="60.00" width="6.30" height="37.50" fill="#A0A0F2" />
<rect x="146.00" y="60.00" width="2.00" height="37.50" fill="#9898F1"/>
<rect x="148.00" y="60.00" width="1.00" height="37.50" fill="#9696F1"/>
<rect x="149.00" y="60.00" width="1.00" height="37.50" fill="#A3A3F2"/>
<rect x="150.00" y="60.00" width="1.50" height="37.50" fill="#9797F1"/>
<rect x="152.00" y="60.00" width="6.30" height="37.50" fill="#9C9CF0" />
<rect x="152.00" y="60.00" width="2.00" height="37.50" fill="#9898EF"/>
<rect x="154.00" y="60.00" width="1.00" height="37.50" fill="#9797EF"/>
<rect x="155.00" y="60.00" width="1.00" height="37.50" fill="#8B8BED"/>
<rect x="156.00" y="60.00" width="1.00" height="37.50" fill="#A3A3F1"/>
<rect x="157.00" y="60.00" width="1.00" height="37.50" fill="#8C8CEE"/>
<rect x="158.00" y="60.00" width="2.30" height="37.50" fill="#B0B0F2" />
<rect x="158.00" y="60.00" width="1.00" height="37.50" fill="#A9A9F1"/>
<rect x="159.00" y="60.00" width="1.00" height="37.50" fill="#A3A3F0"/>
<rect x="160.00" y="60.00" width="2.30" height="37.50" fill="#D0D0F6" />
<rect x="160.00" y="60.00" width="1.00" height="37.50" fill="#CDCDF5"/>
<rect x="161.00" y="60.00" width="1.00" height="37.50" fill="#C8C8F4"/>
<rect x="162.00" y="60.00" width="8.30" height="37.50" fill="#B8B8F4" />
<rect x="162.00" y="60.00" width="1.00" height="37.50" fill="#BCBCF5"/>
<rect x="163.00" y="60.00" width="1.50" height="37.50" fill="#ADADF2"/>
<rect x="166.50" y="60.00" width="2.00" height="37.50" fill="#BBBBF5"/>
<rect x="168.50" y="60.00" width="1.50" height="37.50" fill="#B4B4F3"/>
<rect x="170.00" y="60.00" width="4.30" height="37.50" fill="#ACACF2" />
<rect x="170.00" y="60.00" width="1.50" height="37.50" fill="#A9A9F2"/>
<rect x="172.50" y="60.00" width="1.00" height="37.50" fill="#B1B1F3"/>
<rect x="173.50" y="60.00" width="0.50" height="37.50" fill="#B2B2F3"/>
<rect x="174.00" y="60.00" width="6.30" height="37.50" fill="#A4A4F2" />
<rect x="175.50" y="60.00" width="1.50" height="37.50" fill="#A1A1F2"/>
<rect x="177.00" y="60.00" width="1.00" height="37.50" fill="#ADADF3"/>
<rect x="178.00" y="60.00" width="1.00" height="37.50" fill="#9393F0"/>
<rect x="180.00" y="60.00" width="10.30" height="37.50" fill="#C0C0F4" />
<rect x="181.00" y="60.00" width="1.00" height="37.50" fill="#B8B8F3"/>
<rect x="182.00" y="60.00" width="2.00" height="37.50" fill="#BABAF3"/>
<rect x="185.00" y="60.00" width="1.00" height="37.50" fill="#B8B8F3"/>
<rect x="189.50" y="60.00" width="0.50" height="37.50" fill="#C2C2F4"/>
<rect x="190.00" y="60.00" width="10.30" height="37.50" fill="#C8C8F4" />
<rect x="191.00" y="60.00" width="1.00" height="37.50" fill="#C4C4F3"/>
<rect x="193.00" y="60.00" width="1.00" height="37.50" fill="#CBCBF5"/>
<rect x="194.00" y="60.00" width="2.00" height="37.50" fill="#C2C2F3"/>
<rect x="196.00" y="60.00" width="1.00" height="37.50" fill="#CBCBF5"/>
<rect x="197.00" y="60.00" width="2.00" height="37.50" fill="#C6C6F4"/>
<rect x="200.00" y="60.00" width="2.30" height="37.50" fill="#D0D0F6" />
<rect x="200.00" y="60.00" width="1.50" height="37.50" fill="#D4D4F7"/>
<rect x="201.50" y="60.00" width="0.50" height="37.50" fill="#D6D6F7"/>
<rect x="202.00" y="60.00" width="8.30" height="37.50" fill="#6A6AF0" />
<rect x="202.00" y="60.00" width="1.00" height="37.50" fill="#7D7DF2"/>
<rect x="203.00" y="60.00" width="1.00" height="37.50" fill="#7777F1"/>
<rect x="206.00" y="60.00" width="1.50" height="37.50" fill="#5C5CEF"/>
<rect x="208.50" y="60.00" width="1.50" height="37.50" fill="#5959EE"/>
<rect x="210.00" y="60.00" width="16.30" height="37.50" fill="#7474F0" />
<rect x="210.00" y="60.00" width="1.50" height="37.50" fill="#6464EE"/>
<rect x="212.50" y="60.00" width="2.00" height="37.50" fill="#6F6FEF"/>
<rect x="214.50" y="60.00" width="1.00" height="37.50" fill="#7A7AF1"/>
<rect x="215.50" y="60.00" width="1.00" height="37.50" fill="#8686F2"/>
<rect x="216.50" y="60.00" width="2.00" height="37.50" fill="#8282F2"/>
<rect x="221.00" y="60.00" width="1.00" height="37.50" fill="#8282F2"/>
<rect x="222.00" y="60.00" width="1.00" height="37.50" fill="#7B7BF1"/>
<rect x="223.00" y="60.00" width="1.00" height="37.50" fill="#6868EF"/>
<rect x="224.00" y="60.00" width="1.50" height="37.50" fill="#7070F0"/>
<rect x="226.00" y="60.00" width="10.30" height="37.50" fill="#5050EE" />
<rect x="226.00" y="60.00" width="1.00" height="37.50" fill="#6262F0"/>
<rect x="229.00" y="60.00" width="2.00" height="37.50" fill="#4747ED"/>
<rect x="231.00" y="60.00" width="1.00" height="37.50" fill="#5757EF"/>
<rect x="232.00" y="60.00" width="1.00" height="37.50" fill="#4040EC"/>
<rect x="233.00" y="60.00" width="1.00" height="37.50" fill="#3E3EEC"/>
<rect x="234.00" y="60.00" width="1.00" height="37.50" fill="#3D3DEC"/>
<rect x="236.00" y="60.00" width="10.30" height="37.50" fill="#5C5CEE" />
<rect x="236.00" y="60.00" width="1.00" height="37.50" fill="#6E6EF0"/>
<rect x="238.00" y="60.00" width="1.00" height="37.50" fill="#3D3DEB"/>
<rect x="239.00" y="60.00" width="1.00" height="37.50" fill="#6666EF"/>
<rect x="240.00" y="60.00" width="2.00" height="37.50" fill="#5454ED"/>
<rect x="242.00" y="60.00" width="1.00" height="37.50" fill="#4646EC"/>
<rect x="245.50" y="60.00" width="0.50" height="37.50" fill="#4949EC"/>
<rect x="246.00" y="60.00" width="6.30" height="37.50" fill="#FAFAFC" />
<rect x="246.00" y="60.00" width="2.00" height="37.50" fill="#FBFBFD"/>
<rect x="248.00" y="60.00" width="1.50" height="37.50" fill="#FAFAFC"/>
<rect x="249.50" y="60.00" width="1.50" height="37.50" fill="#FBFBFC"/>
<rect x="251.00" y="60.00" width="1.00" height="37.50" fill="#F9F9FB"/>
<rect x="252.00" y="60.00" width="4.30" height="37.50" fill="#F4F4FA" />
<rect x="252.00" y="60.00" width="1.00" height="37.50" fill="#F3F3FA"/>
<rect x="253.00" y="60.00" width="1.00" height="37.50" fill="#F3F3F9"/>
<rect x="254.00" y="60.00" width="1.50" height="37.50" fill="#F6F6FB"/>
<rect x="255.50" y="60.00" width="0.50" height="37.50" fill="#F5F5FA"/>
<rect x="256.00" y="60.00" width="10.30" height="37.50" fill="#E4E4F8" />
<rect x="256.00" y="60.00" width="2.00" height="37.50" fill="#E0E0F7"/>
<rect x="258.00" y="60.00" width="1.00" height="37.50" fill="#E8E8F9"/>
<rect x="264.50" y="60.00" width="1.00" height="37.50" fill="#E0E0F7"/>
<rect x="266.00" y="60.00" width="6.30" height="37.50" fill="#3C3CF0" />
<rect x="266.00" y="60.00" width="2.00" height="37.50" fill="#3030EF"/>
<rect x="268.00" y="60.00" width="1.50" height="37.50" fill="#5050F2"/>
<rect x="272.00" y="60.00" width="10.30" height="37.50" fill="#3434F0" />
<rect x="272.00" y="60.00" width="1.00" height="37.50" fill="#2323EF"/>
<rect x="273.00" y="60.00" width="1.00" height="37.50" fill="#3A3AF0"/>
<rect x="274.00" y="60.00" width="1.50" height="37.50" fill="#4444F1"/>
<rect x="275.50" y="60.00" width="1.00" height="37.50" fill="#5252F2"/>
<rect x="279.50" y="60.00" width="1.00" height="37.50" fill="#2323EF"/>
<rect x="280.50" y="60.00" width="1.50" height="37.50" fill="#2B2BEF"/>
<rect x="282.00" y="60.00" width="6.30" height="37.50" fill="#2020F0" />
<rect x="282.00" y="60.00" width="1.00" height="37.50" fill="#1515EF"/>
<rect x="283.00" y="60.00" width="1.00" height="37.50" fill="#0000ED"/>
<rect x="286.00" y="60.00" width="1.00" height="37.50" fill="#1414EF"/>
<rect x="287.00" y="60.00" width="1.00" height="37.50" fill="#3030F1"/>
<rect x="288.00" y="60.00" width="11.50" height="37.50" fill="#7070F0" />
<rect x="288.00" y="60.00" width="1.00" height="37.50" fill="#7676F1"/>
<rect x="289.00" y="60.00" width="2.00" height="37.50" fill="#5F5FEE"/>
<rect x="291.00" y="60.00" width="1.00" height="37.50" fill="#6A6AEF"/>
<rect x="292.00" y="60.00" width="1.00" height="37.50" fill="#6262EF"/>
<rect x="294.00" y="60.00" width="2.00" height="37.50" fill="#6363EF"/>
<rect x="296.00" y="60.00" width="1.00" height="37.50" fill="#8080F2"/>
<path d="M21.50,27.20 L23.30,24.00 L25.10,27.20 L23.30,26.60 Z" fill="#111"/>
<line x1="23.30" y1="26.00" x2="23.30" y2="29.50" stroke="#111" stroke-width="0.9" />
<path d="M21.50,56.40 L23.30,59.60 L25.10,56.40 L23.30,57.00 Z" fill="#111"/>
<line x1="23.30" y1="53.50" x2="23.30" y2="57.00" stroke="#111" stroke-width="0.9" />
<path d="M21.50,63.80 L23.30,60.60 L25.10,63.80 L23.30,63.20 Z" fill="#111"/>
<line x1="23.30" y1="63.00" x2="23.30" y2="68.00" stroke="#111" stroke-width="0.9" />
<path d="M21.50,94.40 L23.30,97.60 L25.10,94.40 L23.30,95.00 Z" fill="#111"/>
<line x1="23.30" y1="91.00" x2="23.30" y2="95.00" stroke="#111" stroke-width="0.9" />
<text transform="translate(26.2,50.4) rotate(-90)" font-size="8.4" fill="#222" textLength="17" lengthAdjust="spacingAndGlyphs">Se-D</text>
<text transform="translate(26.2,87.2) rotate(-90)" font-size="8.4" fill="#222" textLength="17.3" lengthAdjust="spacingAndGlyphs">Se-A</text>
<defs><linearGradient id="gA" x1="0" x2="1" y1="0" y2="0"><stop offset="0" stop-color="#1010F0"/><stop offset="0.2" stop-color="#4848F0"/><stop offset="0.46" stop-color="#E8E8F8"/><stop offset="0.5" stop-color="#FFFFFF"/><stop offset="0.54" stop-color="#F8E4E4"/><stop offset="0.8" stop-color="#E87070"/><stop offset="1" stop-color="#E01818"/></linearGradient></defs>
<rect x="31.20" y="112.70" width="64.80" height="10.00" fill="url(#gA)" />
<text x="27.80" y="108.10" font-size="8.6" fill="#222" text-anchor="start" font-weight="normal" font-style="normal" textLength="15.40" lengthAdjust="spacingAndGlyphs" stroke="#222" stroke-width="0.15" >3.25</text>
<text x="79.60" y="108.10" font-size="8.6" fill="#222" text-anchor="start" font-weight="normal" font-style="normal" textLength="19.20" lengthAdjust="spacingAndGlyphs" stroke="#222" stroke-width="0.15" >19.30</text>
<path d="M335.00,111.74 L335.33,110.07 L336.06,108.81 L336.86,107.61 L337.70,106.45 L338.56,105.31 L339.43,104.19 L340.32,103.08 L341.22,101.98 L342.13,100.89 L343.05,99.81 L343.97,98.73 L344.90,97.67 L345.84,96.61 L346.78,95.55 L347.73,94.50 L348.68,93.46 L349.64,92.42 L350.60,91.38 L351.57,90.35 L352.54,89.33 L353.52,88.31 L354.50,87.29 L355.48,86.28 L356.47,85.27 L357.47,84.26 L358.47,83.26 L359.47,82.27 L360.47,81.28 L361.49,80.29 L362.50,79.31 L363.52,78.33 L364.54,77.35 L365.57,76.38 L366.60,75.42 L367.63,74.45 L368.67,73.50 L369.72,72.54 L370.77,71.59 L371.82,70.65 L372.87,69.70 L373.94,68.77 L375.00,67.84 L376.07,66.91 L377.15,65.99 L378.23,65.07 L379.31,64.16 L380.40,63.25 L381.50,62.35 L382.60,61.45 L383.71,60.56 L384.83,59.68 L385.95,58.81 L387.09,57.95 L388.23,57.09 L389.39,56.25 L390.57,55.43 L391.76,54.63 L393.00,53.87 L394.30,53.17 L396.00,52.87 L396.25,53.12 L395.23,54.11 L394.22,55.09 L393.20,56.07 L392.18,57.05 L391.17,58.03 L390.15,59.01 L389.13,59.99 L388.12,60.97 L387.10,61.95 L386.08,62.94 L385.07,63.92 L384.05,64.90 L383.03,65.88 L382.02,66.86 L381.00,67.84 L379.98,68.82 L378.97,69.80 L377.95,70.78 L376.93,71.77 L375.92,72.75 L374.90,73.73 L373.88,74.71 L372.87,75.69 L371.85,76.67 L370.83,77.65 L369.82,78.63 L368.80,79.61 L367.78,80.60 L366.77,81.58 L365.75,82.56 L364.73,83.54 L363.72,84.52 L362.70,85.50 L361.68,86.48 L360.67,87.46 L359.65,88.44 L358.63,89.43 L357.62,90.41 L356.60,91.39 L355.58,92.37 L354.57,93.35 L353.55,94.33 L352.53,95.31 L351.52,96.29 L350.50,97.27 L349.48,98.25 L348.47,99.24 L347.45,100.22 L346.43,101.20 L345.42,102.18 L344.40,103.16 L343.38,104.14 L342.37,105.12 L341.35,106.10 L340.33,107.08 L339.32,108.07 L338.30,109.05 L337.28,110.03 L336.27,111.01 L335.25,111.99 Z" fill="#EFB8C0"/>
<path d="M346.75,107.77 L347.50,107.05 L348.25,106.32 L349.00,105.60 L349.75,104.88 L350.50,104.15 L351.25,103.43 L352.00,102.70 L352.75,101.98 L353.50,101.26 L354.25,100.53 L355.00,99.81 L355.75,99.09 L356.50,98.36 L357.25,97.64 L358.00,96.91 L358.75,96.19 L359.50,95.47 L360.25,94.74 L361.00,94.02 L361.75,93.30 L362.50,92.57 L363.25,91.85 L364.00,91.12 L364.75,90.40 L365.50,89.68 L366.25,88.95 L367.00,88.23 L367.75,87.50 L368.50,86.78 L369.25,86.06 L370.00,85.33 L370.75,84.61 L371.50,83.89 L372.25,83.16 L373.00,82.44 L373.75,81.72 L374.50,80.99 L375.25,80.27 L376.00,79.54 L376.75,78.82 L377.50,78.10 L378.25,77.37 L379.00,76.65 L379.75,75.93 L380.50,75.20 L381.25,74.48 L382.00,73.75 L382.75,73.03 L383.50,72.31 L384.25,71.58 L385.00,70.86 L385.75,70.14 L386.50,69.41 L387.25,68.69 L388.00,67.96 L388.75,67.24 L389.50,66.52 L390.25,65.79 L391.00,65.07 L391.75,64.35 L392.00,64.60 L391.94,66.01 L391.47,67.01 L390.94,67.95 L390.37,68.86 L389.78,69.74 L389.17,70.61 L388.55,71.46 L387.91,72.30 L387.27,73.13 L386.62,73.95 L385.96,74.77 L385.30,75.58 L384.63,76.38 L383.95,77.18 L383.27,77.97 L382.59,78.76 L381.89,79.54 L381.20,80.32 L380.50,81.09 L379.79,81.86 L379.08,82.63 L378.37,83.38 L377.65,84.14 L376.93,84.89 L376.20,85.64 L375.47,86.38 L374.73,87.12 L373.99,87.85 L373.25,88.58 L372.50,89.31 L371.75,90.03 L370.99,90.75 L370.23,91.46 L369.47,92.17 L368.70,92.87 L367.93,93.58 L367.15,94.27 L366.37,94.96 L365.58,95.65 L364.79,96.34 L364.00,97.02 L363.20,97.69 L362.39,98.36 L361.59,99.03 L360.77,99.69 L359.95,100.34 L359.13,100.99 L358.30,101.64 L357.46,102.27 L356.62,102.90 L355.77,103.53 L354.91,104.14 L354.05,104.75 L353.17,105.35 L352.28,105.93 L351.37,106.49 L350.44,107.04 L349.47,107.54 L348.44,107.98 L347.00,108.02 Z" fill="#C0C0F0"/>
<path d="M327.05,123.05 L328.35,120.96 L329.55,118.78 L330.76,116.60 L331.99,114.45 L333.71,112.79 L335.43,111.13 L337.15,109.47 L338.87,107.81 L340.59,106.14 L342.32,104.48 L344.04,102.82 L345.76,101.16 L347.48,99.50 L349.20,97.84 L350.92,96.18 L352.65,94.51 L354.37,92.85 L356.09,91.19 L357.81,89.53 L359.53,87.87 L361.25,86.21 L362.98,84.55 L364.70,82.88 L366.42,81.22 L368.14,79.56 L369.86,77.90 L371.58,76.24 L373.31,74.58 L375.03,72.92 L376.75,71.25 L378.47,69.59 L380.19,67.93 L381.91,66.27 L383.64,64.61 L385.36,62.95 L387.08,61.29 L388.80,59.62 L390.52,57.96 L392.25,56.30 L393.97,54.64 L395.69,52.98 L397.41,51.32 L399.13,49.66 L400.91,48.05 L402.73,46.49 L404.55,44.92 L406.37,43.36 L408.19,41.80 L410.01,40.23 L411.83,38.67 L413.65,37.11 L415.47,35.55 L417.29,33.98 L419.11,32.42 L420.93,30.86 L422.75,29.29 L424.57,27.73 L426.39,26.17 L428.21,24.60 L430.00,23.01 L431.00,24.01 L429.35,25.74 L427.72,27.50 L426.10,29.26 L424.48,31.02 L422.85,32.78 L421.23,34.54 L419.61,36.30 L417.99,38.06 L416.36,39.82 L414.74,41.58 L413.12,43.34 L411.49,45.10 L409.87,46.86 L408.25,48.62 L406.62,50.38 L405.00,52.14 L403.33,53.86 L401.61,55.52 L399.89,57.18 L398.17,58.84 L396.45,60.50 L394.72,62.16 L393.00,63.82 L391.28,65.49 L389.56,67.15 L387.84,68.81 L386.12,70.47 L384.39,72.13 L382.67,73.79 L380.95,75.45 L379.23,77.12 L377.51,78.78 L375.79,80.44 L374.06,82.10 L372.34,83.76 L370.62,85.42 L368.90,87.08 L367.18,88.75 L365.46,90.41 L363.73,92.07 L362.01,93.73 L360.29,95.39 L358.57,97.05 L356.85,98.71 L355.12,100.38 L353.40,102.04 L351.68,103.70 L349.96,105.36 L348.24,107.02 L346.52,108.68 L344.80,110.34 L343.07,112.01 L341.35,113.67 L339.63,115.33 L337.91,116.99 L336.19,118.65 L333.97,119.82 L331.74,120.97 L329.50,122.11 L327.35,123.35 Z" fill="#CFD1CF"/>
<rect x="371.88" y="71.34" width="0.90" height="0.90" fill="#D4D4D4" />
<rect x="351.01" y="91.83" width="0.90" height="0.90" fill="#D4D4D4" />
<rect x="420.51" y="28.71" width="0.90" height="0.90" fill="#DDDDDD" />
<rect x="379.71" y="67.44" width="0.90" height="0.90" fill="#DDDDDD" />
<rect x="349.91" y="85.92" width="0.90" height="0.90" fill="#C8C8C8" />
<rect x="397.08" y="44.84" width="0.90" height="0.90" fill="#DDDDDD" />
<rect x="349.12" y="97.49" width="0.90" height="0.90" fill="#D4D4D4" />
<rect x="369.04" y="72.34" width="0.90" height="0.90" fill="#C8C8C8" />
<rect x="370.60" y="76.08" width="0.90" height="0.90" fill="#C8C8C8" />
<rect x="398.03" y="60.02" width="0.90" height="0.90" fill="#C8C8C8" />
<rect x="350.21" y="89.56" width="0.90" height="0.90" fill="#DDDDDD" />
<rect x="401.47" y="64.85" width="0.90" height="0.90" fill="#DDDDDD" />
<rect x="393.60" y="67.46" width="0.90" height="0.90" fill="#D4D4D4" />
<rect x="410.93" y="37.41" width="0.90" height="0.90" fill="#DDDDDD" />
<rect x="388.59" y="76.71" width="0.90" height="0.90" fill="#DDDDDD" />
<rect x="395.54" y="51.83" width="0.90" height="0.90" fill="#DDDDDD" />
<rect x="358.69" y="98.63" width="0.90" height="0.90" fill="#DDDDDD" />
<rect x="380.00" y="59.07" width="0.90" height="0.90" fill="#C8C8C8" />
<rect x="410.49" y="50.90" width="0.90" height="0.90" fill="#DDDDDD" />
<rect x="394.33" y="63.24" width="0.90" height="0.90" fill="#D4D4D4" />
<rect x="423.41" y="42.72" width="0.90" height="0.90" fill="#D4D4D4" />
<rect x="350.04" y="112.93" width="0.90" height="0.90" fill="#C8C8C8" />
<rect x="413.22" y="52.79" width="0.90" height="0.90" fill="#C8C8C8" />
<rect x="373.80" y="86.49" width="0.90" height="0.90" fill="#C8C8C8" />
<rect x="354.72" y="90.02" width="0.90" height="0.90" fill="#DDDDDD" />
<rect x="355.74" y="86.89" width="0.90" height="0.90" fill="#DDDDDD" />
<rect x="351.69" y="108.39" width="0.90" height="0.90" fill="#DDDDDD" />
<rect x="418.32" y="49.63" width="0.90" height="0.90" fill="#DDDDDD" />
<rect x="403.63" y="61.63" width="0.90" height="0.90" fill="#DDDDDD" />
<rect x="424.49" y="24.31" width="0.90" height="0.90" fill="#D4D4D4" />
<rect x="364.25" y="83.30" width="0.90" height="0.90" fill="#C8C8C8" />
<rect x="360.13" y="95.46" width="0.90" height="0.90" fill="#DDDDDD" />
<rect x="389.37" y="78.64" width="0.90" height="0.90" fill="#C8C8C8" />
<rect x="416.31" y="27.72" width="0.90" height="0.90" fill="#C8C8C8" />
<rect x="411.22" y="50.89" width="0.90" height="0.90" fill="#DDDDDD" />
<rect x="353.59" y="102.47" width="0.90" height="0.90" fill="#D4D4D4" />
<rect x="426.73" y="33.10" width="0.90" height="0.90" fill="#DDDDDD" />
<rect x="394.86" y="53.90" width="0.90" height="0.90" fill="#D4D4D4" />
<rect x="389.54" y="74.40" width="0.90" height="0.90" fill="#D4D4D4" />
<rect x="417.57" y="41.77" width="0.90" height="0.90" fill="#DDDDDD" />
<rect x="424.30" y="39.18" width="0.90" height="0.90" fill="#D4D4D4" />
<rect x="415.46" y="47.79" width="0.90" height="0.90" fill="#DDDDDD" />
<rect x="352.13" y="86.14" width="0.90" height="0.90" fill="#C8C8C8" />
<rect x="366.97" y="74.62" width="0.90" height="0.90" fill="#D4D4D4" />
<rect x="423.93" y="35.61" width="0.90" height="0.90" fill="#C8C8C8" />
<rect x="420.87" y="48.54" width="0.90" height="0.90" fill="#D4D4D4" />
<rect x="402.78" y="60.48" width="0.90" height="0.90" fill="#D4D4D4" />
<rect x="374.52" y="67.14" width="0.90" height="0.90" fill="#C8C8C8" />
<rect x="372.36" y="68.26" width="0.90" height="0.90" fill="#D4D4D4" />
<rect x="411.90" y="54.34" width="0.90" height="0.90" fill="#D4D4D4" />
<rect x="361.59" y="98.27" width="0.90" height="0.90" fill="#D4D4D4" />
<rect x="427.14" y="36.42" width="0.90" height="0.90" fill="#D4D4D4" />
<rect x="402.48" y="59.92" width="0.90" height="0.90" fill="#C8C8C8" />
<rect x="427.01" y="31.85" width="0.90" height="0.90" fill="#D4D4D4" />
<rect x="363.83" y="79.80" width="0.90" height="0.90" fill="#DDDDDD" />
<rect x="396.80" y="46.28" width="0.90" height="0.90" fill="#C8C8C8" />
<rect x="373.55" y="64.45" width="0.90" height="0.90" fill="#D4D4D4" />
<rect x="359.82" y="96.76" width="0.90" height="0.90" fill="#C8C8C8" />
<rect x="377.85" y="87.24" width="0.90" height="0.90" fill="#D4D4D4" />
<rect x="405.16" y="32.05" width="0.90" height="0.90" fill="#D4D4D4" />
<rect x="357.55" y="107.59" width="0.90" height="0.90" fill="#D4D4D4" />
<rect x="395.76" y="68.92" width="0.90" height="0.90" fill="#DDDDDD" />
<rect x="357.94" y="89.28" width="0.90" height="0.90" fill="#C8C8C8" />
<rect x="398.92" y="44.78" width="0.90" height="0.90" fill="#D4D4D4" />
<rect x="413.57" y="35.51" width="0.90" height="0.90" fill="#D4D4D4" />
<rect x="369.32" y="69.39" width="0.90" height="0.90" fill="#DDDDDD" />
<rect x="366.53" y="99.26" width="0.90" height="0.90" fill="#D4D4D4" />
<rect x="420.53" y="47.90" width="0.90" height="0.90" fill="#C8C8C8" />
<rect x="393.42" y="73.22" width="0.90" height="0.90" fill="#C8C8C8" />
<rect x="355.85" y="85.26" width="0.90" height="0.90" fill="#D4D4D4" />
<rect x="417.44" y="24.81" width="0.90" height="0.90" fill="#D4D4D4" />
<rect x="359.30" y="103.65" width="0.90" height="0.90" fill="#D4D4D4" />
<rect x="391.19" y="73.64" width="0.90" height="0.90" fill="#C8C8C8" />
<rect x="391.10" y="46.93" width="0.90" height="0.90" fill="#D4D4D4" />
<rect x="365.63" y="90.62" width="0.90" height="0.90" fill="#D4D4D4" />
<rect x="387.14" y="52.23" width="0.90" height="0.90" fill="#D4D4D4" />
<rect x="381.79" y="58.21" width="0.90" height="0.90" fill="#DDDDDD" />
<rect x="387.18" y="75.41" width="0.90" height="0.90" fill="#D4D4D4" />
<rect x="403.04" y="65.09" width="0.90" height="0.90" fill="#D4D4D4" />
<rect x="414.72" y="29.74" width="0.90" height="0.90" fill="#DDDDDD" />
<rect x="381.70" y="58.55" width="0.90" height="0.90" fill="#DDDDDD" />
<rect x="351.07" y="113.57" width="0.90" height="0.90" fill="#D4D4D4" />
<rect x="422.98" y="36.49" width="0.90" height="0.90" fill="#D4D4D4" />
<rect x="352.81" y="104.43" width="0.90" height="0.90" fill="#C8C8C8" />
<rect x="414.09" y="26.87" width="0.90" height="0.90" fill="#C8C8C8" />
<rect x="378.52" y="80.03" width="0.90" height="0.90" fill="#DDDDDD" />
<rect x="352.65" y="102.87" width="0.90" height="0.90" fill="#C8C8C8" />
<rect x="383.07" y="60.67" width="0.90" height="0.90" fill="#C8C8C8" />
<rect x="396.79" y="50.69" width="0.90" height="0.90" fill="#D4D4D4" />
<rect x="367.57" y="77.00" width="0.90" height="0.90" fill="#D4D4D4" />
<rect x="413.04" y="49.23" width="0.90" height="0.90" fill="#C8C8C8" />
<rect x="421.29" y="44.80" width="0.90" height="0.90" fill="#D4D4D4" />
<rect x="368.16" y="74.56" width="0.90" height="0.90" fill="#D4D4D4" />
<rect x="367.32" y="72.87" width="0.90" height="0.90" fill="#DDDDDD" />
<rect x="351.95" y="94.51" width="0.90" height="0.90" fill="#D4D4D4" />
<rect x="382.66" y="85.61" width="0.90" height="0.90" fill="#DDDDDD" />
<rect x="421.91" y="43.26" width="0.90" height="0.90" fill="#D4D4D4" />
<rect x="388.73" y="48.56" width="0.90" height="0.90" fill="#D4D4D4" />
<rect x="366.74" y="78.62" width="0.90" height="0.90" fill="#DDDDDD" />
<rect x="397.18" y="48.19" width="0.90" height="0.90" fill="#C8C8C8" />
<rect x="400.79" y="60.35" width="0.90" height="0.90" fill="#D4D4D4" />
<rect x="405.85" y="37.13" width="0.90" height="0.90" fill="#D4D4D4" />
<rect x="398.96" y="64.50" width="0.90" height="0.90" fill="#DDDDDD" />
<rect x="425.54" y="40.56" width="0.90" height="0.90" fill="#D4D4D4" />
<rect x="373.44" y="69.71" width="0.90" height="0.90" fill="#DDDDDD" />
<rect x="396.91" y="65.09" width="0.90" height="0.90" fill="#D4D4D4" />
<rect x="352.01" y="113.70" width="0.90" height="0.90" fill="#C8C8C8" />
<rect x="348.75" y="96.51" width="0.90" height="0.90" fill="#DDDDDD" />
<rect x="345.30" y="121.27" width="0.90" height="0.90" fill="#C8C8C8" />
<rect x="371.85" y="64.52" width="0.90" height="0.90" fill="#DDDDDD" />
<rect x="363.08" y="84.56" width="0.90" height="0.90" fill="#DDDDDD" />
<rect x="351.96" y="109.33" width="0.90" height="0.90" fill="#D4D4D4" />
<rect x="365.60" y="81.05" width="0.90" height="0.90" fill="#D4D4D4" />
<rect x="356.94" y="85.77" width="0.90" height="0.90" fill="#DDDDDD" />
<rect x="370.25" y="76.64" width="0.90" height="0.90" fill="#C8C8C8" />
<rect x="415.82" y="25.79" width="0.90" height="0.90" fill="#C8C8C8" />
<rect x="410.08" y="56.39" width="0.90" height="0.90" fill="#C8C8C8" />
<rect x="396.35" y="51.94" width="0.90" height="0.90" fill="#C8C8C8" />
<rect x="419.03" y="47.39" width="0.90" height="0.90" fill="#C8C8C8" />
<rect x="356.56" y="80.95" width="0.90" height="0.90" fill="#C8C8C8" />
<rect x="411.23" y="37.09" width="0.90" height="0.90" fill="#D4D4D4" />
<rect x="356.05" y="110.87" width="0.90" height="0.90" fill="#DDDDDD" />
<rect x="414.37" y="27.54" width="0.90" height="0.90" fill="#C8C8C8" />
<rect x="389.11" y="53.58" width="0.90" height="0.90" fill="#D4D4D4" />
<rect x="382.93" y="56.44" width="0.90" height="0.90" fill="#C8C8C8" />
<rect x="350.48" y="107.76" width="0.90" height="0.90" fill="#D4D4D4" />
<rect x="415.23" y="25.50" width="0.90" height="0.90" fill="#D4D4D4" />
<rect x="364.15" y="97.47" width="0.90" height="0.90" fill="#DDDDDD" />
<rect x="351.37" y="113.08" width="0.90" height="0.90" fill="#C8C8C8" />
<rect x="397.52" y="50.41" width="0.90" height="0.90" fill="#D4D4D4" />
<rect x="372.54" y="90.90" width="0.90" height="0.90" fill="#D4D4D4" />
<rect x="346.03" y="95.19" width="0.90" height="0.90" fill="#C8C8C8" />
<rect x="353.26" y="85.94" width="0.90" height="0.90" fill="#DDDDDD" />
<rect x="403.84" y="58.82" width="0.90" height="0.90" fill="#DDDDDD" />
<rect x="408.68" y="36.83" width="0.90" height="0.90" fill="#D4D4D4" />
<rect x="351.35" y="115.82" width="0.90" height="0.90" fill="#DDDDDD" />
<rect x="362.42" y="84.32" width="0.90" height="0.90" fill="#D4D4D4" />
<rect x="356.76" y="110.10" width="0.90" height="0.90" fill="#D4D4D4" />
<rect x="395.08" y="72.34" width="0.90" height="0.90" fill="#C8C8C8" />
<rect x="375.31" y="91.54" width="0.90" height="0.90" fill="#DDDDDD" />
<rect x="377.71" y="70.41" width="0.90" height="0.90" fill="#DDDDDD" />
<rect x="401.57" y="59.05" width="0.90" height="0.90" fill="#D4D4D4" />
<rect x="379.54" y="80.48" width="0.90" height="0.90" fill="#DDDDDD" />
<rect x="345.14" y="119.95" width="0.90" height="0.90" fill="#D4D4D4" />
<rect x="419.83" y="40.85" width="0.90" height="0.90" fill="#D4D4D4" />
<rect x="377.61" y="66.22" width="0.90" height="0.90" fill="#DDDDDD" />
<rect x="407.72" y="38.13" width="0.90" height="0.90" fill="#D4D4D4" />
<rect x="414.28" y="50.79" width="0.90" height="0.90" fill="#D4D4D4" />
<rect x="365.69" y="95.29" width="0.90" height="0.90" fill="#DDDDDD" />
<rect x="360.76" y="104.24" width="0.90" height="0.90" fill="#DDDDDD" />
<rect x="418.39" y="50.16" width="0.90" height="0.90" fill="#C8C8C8" />
<rect x="390.59" y="57.44" width="0.90" height="0.90" fill="#C8C8C8" />
<rect x="379.10" y="61.38" width="0.90" height="0.90" fill="#DDDDDD" />
<rect x="385.30" y="61.08" width="0.90" height="0.90" fill="#DDDDDD" />
<rect x="373.52" y="85.56" width="0.90" height="0.90" fill="#C8C8C8" />
<rect x="426.03" y="36.70" width="0.90" height="0.90" fill="#D4D4D4" />
<rect x="369.97" y="87.36" width="0.90" height="0.90" fill="#C8C8C8" />
<rect x="358.42" y="83.06" width="0.90" height="0.90" fill="#DDDDDD" />
<rect x="390.68" y="76.81" width="0.90" height="0.90" fill="#DDDDDD" />
<rect x="380.48" y="64.86" width="0.90" height="0.90" fill="#D4D4D4" />
<rect x="373.38" y="70.80" width="0.90" height="0.90" fill="#DDDDDD" />
<rect x="366.44" y="70.68" width="0.90" height="0.90" fill="#C8C8C8" />
<rect x="417.26" y="45.25" width="0.90" height="0.90" fill="#C8C8C8" />
<rect x="362.43" y="97.26" width="0.90" height="0.90" fill="#D4D4D4" />
<rect x="386.35" y="71.63" width="0.90" height="0.90" fill="#C8C8C8" />
<rect x="388.93" y="58.52" width="0.90" height="0.90" fill="#D4D4D4" />
<rect x="376.92" y="84.40" width="0.90" height="0.90" fill="#DDDDDD" />
<rect x="415.44" y="32.52" width="0.90" height="0.90" fill="#DDDDDD" />
<rect x="403.89" y="64.81" width="0.90" height="0.90" fill="#DDDDDD" />
<rect x="345.01" y="121.17" width="0.90" height="0.90" fill="#C8C8C8" />
<rect x="416.00" y="44.48" width="0.90" height="0.90" fill="#D4D4D4" />
<rect x="363.58" y="77.83" width="0.90" height="0.90" fill="#C8C8C8" />
<rect x="354.04" y="102.32" width="0.90" height="0.90" fill="#D4D4D4" />
<rect x="345.11" y="99.12" width="0.90" height="0.90" fill="#D4D4D4" />
<rect x="398.58" y="69.87" width="0.90" height="0.90" fill="#C8C8C8" />
<rect x="365.90" y="98.24" width="0.90" height="0.90" fill="#D4D4D4" />
<rect x="353.25" y="108.35" width="0.90" height="0.90" fill="#C8C8C8" />
<rect x="360.91" y="97.35" width="0.90" height="0.90" fill="#C8C8C8" />
<rect x="345.10" y="121.88" width="0.90" height="0.90" fill="#DDDDDD" />
<rect x="364.49" y="82.86" width="0.90" height="0.90" fill="#DDDDDD" />
<rect x="403.49" y="54.24" width="0.90" height="0.90" fill="#D4D4D4" />
<rect x="386.36" y="71.08" width="0.90" height="0.90" fill="#D4D4D4" />
<rect x="400.39" y="59.29" width="0.90" height="0.90" fill="#D4D4D4" />
<rect x="402.75" y="58.64" width="0.90" height="0.90" fill="#DDDDDD" />
<rect x="361.44" y="103.02" width="0.90" height="0.90" fill="#C8C8C8" />
<rect x="350.60" y="116.26" width="0.90" height="0.90" fill="#DDDDDD" />
<rect x="408.57" y="37.91" width="0.90" height="0.90" fill="#D4D4D4" />
<rect x="367.00" y="90.10" width="0.90" height="0.90" fill="#C8C8C8" />
<rect x="386.15" y="51.55" width="0.90" height="0.90" fill="#DDDDDD" />
<rect x="379.61" y="57.23" width="0.90" height="0.90" fill="#D4D4D4" />
<rect x="421.52" y="25.62" width="0.90" height="0.90" fill="#C8C8C8" />
<rect x="356.78" y="82.14" width="0.90" height="0.90" fill="#D4D4D4" />
<rect x="377.65" y="87.31" width="0.90" height="0.90" fill="#D4D4D4" />
<rect x="422.32" y="37.69" width="0.90" height="0.90" fill="#C8C8C8" />
<rect x="422.68" y="35.44" width="0.90" height="0.90" fill="#C8C8C8" />
<rect x="405.21" y="63.74" width="0.90" height="0.90" fill="#DDDDDD" />
<rect x="359.05" y="87.52" width="0.90" height="0.90" fill="#D4D4D4" />
<rect x="374.17" y="67.14" width="0.90" height="0.90" fill="#D4D4D4" />
<rect x="376.55" y="89.44" width="0.90" height="0.90" fill="#DDDDDD" />
<rect x="352.28" y="105.34" width="0.90" height="0.90" fill="#C8C8C8" />
<rect x="421.32" y="24.49" width="0.90" height="0.90" fill="#C8C8C8" />
<rect x="365.59" y="90.64" width="0.90" height="0.90" fill="#D4D4D4" />
<rect x="383.52" y="61.77" width="0.90" height="0.90" fill="#C8C8C8" />
<rect x="350.22" y="109.34" width="0.90" height="0.90" fill="#DDDDDD" />
<rect x="404.48" y="63.71" width="0.90" height="0.90" fill="#DDDDDD" />
<rect x="345.31" y="101.43" width="0.90" height="0.90" fill="#D4D4D4" />
<rect x="353.90" y="112.88" width="0.90" height="0.90" fill="#DDDDDD" />
<rect x="410.55" y="56.54" width="0.90" height="0.90" fill="#D4D4D4" />
<rect x="422.03" y="27.58" width="0.90" height="0.90" fill="#C8C8C8" />
<rect x="370.18" y="70.44" width="0.90" height="0.90" fill="#DDDDDD" />
<rect x="416.48" y="45.38" width="0.90" height="0.90" fill="#C8C8C8" />
<rect x="351.56" y="90.99" width="0.90" height="0.90" fill="#D4D4D4" />
<rect x="365.53" y="74.42" width="0.90" height="0.90" fill="#DDDDDD" />
<rect x="390.87" y="67.69" width="0.90" height="0.90" fill="#DDDDDD" />
<rect x="418.33" y="28.08" width="0.90" height="0.90" fill="#D4D4D4" />
<rect x="362.29" y="99.31" width="0.90" height="0.90" fill="#C8C8C8" />
<rect x="379.60" y="59.66" width="0.90" height="0.90" fill="#C8C8C8" />
<rect x="408.04" y="52.71" width="0.90" height="0.90" fill="#C8C8C8" />
<rect x="367.22" y="97.44" width="0.90" height="0.90" fill="#D4D4D4" />
<rect x="381.47" y="63.88" width="0.90" height="0.90" fill="#D4D4D4" />
<rect x="368.35" y="75.57" width="0.90" height="0.90" fill="#DDDDDD" />
<rect x="365.89" y="75.78" width="0.90" height="0.90" fill="#D4D4D4" />
<rect x="398.92" y="42.15" width="0.90" height="0.90" fill="#D4D4D4" />
<rect x="353.49" y="112.42" width="0.90" height="0.90" fill="#D4D4D4" />
<rect x="414.77" y="43.18" width="0.90" height="0.90" fill="#DDDDDD" />
<rect x="364.33" y="81.09" width="0.90" height="0.90" fill="#C8C8C8" />
<rect x="361.12" y="82.00" width="0.90" height="0.90" fill="#D4D4D4" />
<rect x="382.28" y="83.35" width="0.90" height="0.90" fill="#C8C8C8" />
<rect x="403.91" y="55.79" width="0.90" height="0.90" fill="#DDDDDD" />
<rect x="373.22" y="72.34" width="0.90" height="0.90" fill="#DDDDDD" />
<rect x="348.17" y="89.18" width="0.90" height="0.90" fill="#DDDDDD" />
<rect x="378.95" y="79.48" width="0.90" height="0.90" fill="#DDDDDD" />
<rect x="351.47" y="86.23" width="0.90" height="0.90" fill="#C8C8C8" />
<rect x="385.13" y="72.51" width="0.90" height="0.90" fill="#DDDDDD" />
<rect x="400.11" y="41.16" width="0.90" height="0.90" fill="#D4D4D4" />
<rect x="399.20" y="66.06" width="0.90" height="0.90" fill="#DDDDDD" />
<rect x="427.02" y="35.88" width="0.90" height="0.90" fill="#D4D4D4" />
<rect x="370.93" y="89.97" width="0.90" height="0.90" fill="#D4D4D4" />
<rect x="416.73" y="48.53" width="0.90" height="0.90" fill="#DDDDDD" />
<rect x="405.43" y="32.40" width="0.90" height="0.90" fill="#DDDDDD" />
<rect x="419.84" y="39.17" width="0.90" height="0.90" fill="#D4D4D4" />
<rect x="378.72" y="83.01" width="0.90" height="0.90" fill="#D4D4D4" />
<rect x="355.79" y="84.99" width="0.90" height="0.90" fill="#C8C8C8" />
<rect x="411.94" y="46.49" width="0.90" height="0.90" fill="#C8C8C8" />
<rect x="382.29" y="64.99" width="1.00" height="1.00" fill="#E87080" />
<rect x="392.83" y="53.91" width="1.00" height="1.00" fill="#E05060" />
<rect x="383.20" y="64.02" width="1.00" height="1.00" fill="#D84050" />
<rect x="393.81" y="50.73" width="1.00" height="1.00" fill="#F0A0A8" />
<rect x="375.03" y="72.38" width="1.00" height="1.00" fill="#DC6070" />
<rect x="387.18" y="60.55" width="1.00" height="1.00" fill="#E87080" />
<rect x="388.97" y="57.19" width="1.00" height="1.00" fill="#E87080" />
<rect x="351.25" y="93.71" width="1.00" height="1.00" fill="#E87080" />
<rect x="393.56" y="53.91" width="1.00" height="1.00" fill="#E87080" />
<rect x="381.59" y="64.82" width="1.00" height="1.00" fill="#E87080" />
<rect x="372.49" y="75.46" width="1.00" height="1.00" fill="#D84050" />
<rect x="374.57" y="72.81" width="1.00" height="1.00" fill="#E48890" />
<rect x="384.57" y="62.61" width="1.00" height="1.00" fill="#E87080" />
<rect x="377.90" y="68.62" width="1.00" height="1.00" fill="#F0A0A8" />
<rect x="351.01" y="89.72" width="1.00" height="1.00" fill="#F0A0A8" />
<rect x="383.76" y="64.46" width="1.00" height="1.00" fill="#F0A0A8" />
<rect x="386.39" y="61.35" width="1.00" height="1.00" fill="#D84050" />
<rect x="346.14" y="100.40" width="1.00" height="1.00" fill="#F0A0A8" />
<rect x="377.80" y="69.14" width="1.00" height="1.00" fill="#DC6070" />
<rect x="381.34" y="66.63" width="1.00" height="1.00" fill="#E05060" />
<rect x="369.22" y="74.41" width="1.00" height="1.00" fill="#E87080" />
<rect x="344.72" y="98.20" width="1.00" height="1.00" fill="#E48890" />
<rect x="386.64" y="59.49" width="1.00" height="1.00" fill="#F0A0A8" />
<rect x="386.42" y="55.68" width="1.00" height="1.00" fill="#E87080" />
<rect x="381.38" y="66.09" width="1.00" height="1.00" fill="#E48890" />
<rect x="349.89" y="92.83" width="1.00" height="1.00" fill="#E48890" />
<rect x="386.68" y="60.05" width="1.00" height="1.00" fill="#F0A0A8" />
<rect x="355.72" y="89.45" width="1.00" height="1.00" fill="#E48890" />
<rect x="361.85" y="84.99" width="1.00" height="1.00" fill="#DC6070" />
<rect x="394.18" y="39.71" width="1.00" height="1.00" fill="#E87080" />
<rect x="355.80" y="89.28" width="1.00" height="1.00" fill="#E48890" />
<rect x="389.06" y="56.92" width="1.00" height="1.00" fill="#E48890" />
<rect x="390.42" y="57.63" width="1.00" height="1.00" fill="#E05060" />
<rect x="371.00" y="74.49" width="1.00" height="1.00" fill="#D84050" />
<rect x="396.47" y="49.27" width="1.00" height="1.00" fill="#E48890" />
<rect x="359.53" y="86.49" width="1.00" height="1.00" fill="#E48890" />
<rect x="343.70" y="102.42" width="1.00" height="1.00" fill="#E48890" />
<rect x="376.80" y="68.16" width="1.00" height="1.00" fill="#DC6070" />
<rect x="382.05" y="65.95" width="1.00" height="1.00" fill="#DC6070" />
<rect x="349.36" y="95.90" width="1.00" height="1.00" fill="#E48890" />
<rect x="343.68" y="101.60" width="1.00" height="1.00" fill="#F0A0A8" />
<rect x="377.57" y="70.41" width="1.00" height="1.00" fill="#D84050" />
<rect x="370.29" y="77.59" width="1.00" height="1.00" fill="#E48890" />
<rect x="373.68" y="72.97" width="1.00" height="1.00" fill="#E48890" />
<rect x="349.88" y="96.45" width="1.00" height="1.00" fill="#E05060" />
<rect x="365.83" y="75.27" width="1.00" height="1.00" fill="#E05060" />
<rect x="349.10" y="97.10" width="1.00" height="1.00" fill="#D84050" />
<rect x="353.65" y="79.64" width="1.00" height="1.00" fill="#D84050" />
<rect x="373.39" y="72.98" width="1.00" height="1.00" fill="#E48890" />
<rect x="397.68" y="43.45" width="1.00" height="1.00" fill="#E05060" />
<rect x="370.77" y="75.69" width="1.00" height="1.00" fill="#E05060" />
<rect x="346.88" y="99.23" width="1.00" height="1.00" fill="#E48890" />
<rect x="393.69" y="54.03" width="1.00" height="1.00" fill="#E48890" />
<rect x="377.27" y="69.64" width="1.00" height="1.00" fill="#F0A0A8" />
<rect x="350.78" y="95.70" width="1.00" height="1.00" fill="#E05060" />
<rect x="397.08" y="41.51" width="1.00" height="1.00" fill="#E48890" />
<rect x="388.29" y="58.36" width="1.00" height="1.00" fill="#DC6070" />
<rect x="345.51" y="100.70" width="1.00" height="1.00" fill="#E05060" />
<rect x="377.07" y="69.84" width="1.00" height="1.00" fill="#E05060" />
<rect x="382.98" y="63.80" width="1.00" height="1.00" fill="#DC6070" />
<rect x="376.61" y="67.15" width="1.00" height="1.00" fill="#DC6070" />
<rect x="385.15" y="61.41" width="1.00" height="1.00" fill="#DC6070" />
<rect x="391.07" y="57.28" width="1.00" height="1.00" fill="#E05060" />
<rect x="341.85" y="104.94" width="1.00" height="1.00" fill="#DC6070" />
<rect x="349.91" y="95.52" width="1.00" height="1.00" fill="#D84050" />
<rect x="362.77" y="82.99" width="1.00" height="1.00" fill="#DC6070" />
<rect x="395.97" y="51.44" width="1.00" height="1.00" fill="#E48890" />
<rect x="388.02" y="58.97" width="1.00" height="1.00" fill="#F0A0A8" />
<rect x="365.20" y="67.80" width="1.00" height="1.00" fill="#E87080" />
<rect x="373.78" y="69.77" width="1.00" height="1.00" fill="#E48890" />
<rect x="349.10" y="96.94" width="1.00" height="1.00" fill="#E87080" />
<rect x="348.94" y="98.02" width="1.00" height="1.00" fill="#E05060" />
<rect x="348.75" y="97.96" width="1.00" height="1.00" fill="#E05060" />
<rect x="344.68" y="101.77" width="1.00" height="1.00" fill="#E48890" />
<rect x="352.16" y="92.26" width="1.00" height="1.00" fill="#DC6070" />
<rect x="389.60" y="58.15" width="1.00" height="1.00" fill="#DC6070" />
<rect x="356.96" y="83.21" width="1.00" height="1.00" fill="#E05060" />
<rect x="394.16" y="51.17" width="1.00" height="1.00" fill="#E05060" />
<rect x="376.37" y="69.62" width="1.00" height="1.00" fill="#D84050" />
<rect x="348.43" y="97.81" width="1.00" height="1.00" fill="#D84050" />
<rect x="364.73" y="79.64" width="1.00" height="1.00" fill="#E05060" />
<rect x="393.09" y="51.75" width="1.00" height="1.00" fill="#D84050" />
<rect x="374.71" y="72.13" width="1.00" height="1.00" fill="#F0A0A8" />
<rect x="375.62" y="70.04" width="1.00" height="1.00" fill="#F0A0A8" />
<rect x="346.50" y="100.09" width="1.00" height="1.00" fill="#F0A0A8" />
<rect x="371.12" y="75.82" width="1.00" height="1.00" fill="#E05060" />
<rect x="357.08" y="85.69" width="1.00" height="1.00" fill="#F0A0A8" />
<rect x="352.31" y="94.46" width="1.00" height="1.00" fill="#E05060" />
<rect x="346.36" y="94.21" width="1.00" height="1.00" fill="#DC6070" />
<rect x="351.33" y="93.69" width="1.00" height="1.00" fill="#E48890" />
<rect x="393.86" y="54.80" width="1.00" height="1.00" fill="#D84050" />
<rect x="393.54" y="55.01" width="1.00" height="1.00" fill="#DC6070" />
<rect x="368.46" y="77.95" width="1.00" height="1.00" fill="#DC6070" />
<rect x="346.86" y="99.73" width="1.00" height="1.00" fill="#F0A0A8" />
<rect x="382.73" y="64.66" width="1.00" height="1.00" fill="#F0A0A8" />
<rect x="342.41" y="104.01" width="1.00" height="1.00" fill="#E48890" />
<rect x="362.24" y="83.58" width="1.00" height="1.00" fill="#DC6070" />
<rect x="366.81" y="77.03" width="1.00" height="1.00" fill="#E48890" />
<rect x="360.52" y="86.26" width="1.00" height="1.00" fill="#D84050" />
<rect x="389.61" y="56.07" width="1.00" height="1.00" fill="#D84050" />
<rect x="365.57" y="81.23" width="1.00" height="1.00" fill="#D84050" />
<rect x="348.06" y="94.22" width="1.00" height="1.00" fill="#E87080" />
<rect x="355.98" y="90.24" width="1.00" height="1.00" fill="#DC6070" />
<rect x="375.57" y="71.43" width="1.00" height="1.00" fill="#DC6070" />
<rect x="370.24" y="71.24" width="1.00" height="1.00" fill="#E87080" />
<rect x="394.52" y="53.90" width="1.00" height="1.00" fill="#E05060" />
<rect x="377.84" y="64.36" width="1.00" height="1.00" fill="#E87080" />
<rect x="396.09" y="51.63" width="1.00" height="1.00" fill="#F0A0A8" />
<rect x="347.12" y="96.23" width="1.00" height="1.00" fill="#E05060" />
<rect x="390.57" y="57.67" width="1.00" height="1.00" fill="#F0A0A8" />
<rect x="369.03" y="78.75" width="1.00" height="1.00" fill="#DC6070" />
<rect x="342.24" y="104.51" width="1.00" height="1.00" fill="#E05060" />
<rect x="391.85" y="52.89" width="1.00" height="1.00" fill="#F0A0A8" />
<rect x="373.90" y="71.34" width="1.00" height="1.00" fill="#DC6070" />
<rect x="390.28" y="54.61" width="1.00" height="1.00" fill="#DC6070" />
<rect x="388.74" y="58.34" width="1.00" height="1.00" fill="#F0A0A8" />
<rect x="355.55" y="88.73" width="1.00" height="1.00" fill="#DC6070" />
<rect x="364.50" y="82.44" width="1.00" height="1.00" fill="#DC6070" />
<rect x="388.57" y="56.26" width="1.00" height="1.00" fill="#F0A0A8" />
<rect x="375.81" y="69.26" width="1.00" height="1.00" fill="#E87080" />
<rect x="359.37" y="86.21" width="1.00" height="1.00" fill="#E05060" />
<rect x="368.43" y="78.75" width="1.00" height="1.00" fill="#E48890" />
<rect x="381.11" y="67.07" width="1.00" height="1.00" fill="#E87080" />
<rect x="346.66" y="97.74" width="1.00" height="1.00" fill="#DC6070" />
<rect x="341.90" y="103.66" width="1.00" height="1.00" fill="#D84050" />
<rect x="363.98" y="82.14" width="1.00" height="1.00" fill="#DC6070" />
<rect x="369.77" y="77.59" width="1.00" height="1.00" fill="#E05060" />
<rect x="375.38" y="71.51" width="1.00" height="1.00" fill="#F0A0A8" />
<rect x="341.75" y="103.77" width="1.00" height="1.00" fill="#F0A0A8" />
<rect x="376.20" y="70.47" width="1.00" height="1.00" fill="#E05060" />
<rect x="382.52" y="62.99" width="1.00" height="1.00" fill="#E48890" />
<rect x="348.24" y="98.17" width="1.00" height="1.00" fill="#DC6070" />
<rect x="376.96" y="66.87" width="1.00" height="1.00" fill="#DC6070" />
<rect x="394.98" y="51.73" width="1.00" height="1.00" fill="#F0A0A8" />
<rect x="357.48" y="87.24" width="1.00" height="1.00" fill="#E48890" />
<rect x="384.67" y="59.62" width="1.00" height="1.00" fill="#E87080" />
<rect x="362.06" y="84.75" width="1.00" height="1.00" fill="#D84050" />
<rect x="394.12" y="44.32" width="1.00" height="1.00" fill="#DC6070" />
<rect x="361.05" y="85.34" width="1.00" height="1.00" fill="#F0A0A8" />
<rect x="376.69" y="69.70" width="1.00" height="1.00" fill="#DC6070" />
<rect x="349.55" y="96.85" width="1.00" height="1.00" fill="#E05060" />
<rect x="391.73" y="54.69" width="1.00" height="1.00" fill="#E87080" />
<rect x="360.33" y="84.18" width="1.00" height="1.00" fill="#E87080" />
<rect x="392.64" y="48.30" width="1.00" height="1.00" fill="#E05060" />
<rect x="388.83" y="57.98" width="1.00" height="1.00" fill="#E87080" />
<rect x="360.40" y="84.17" width="1.00" height="1.00" fill="#E48890" />
<rect x="390.90" y="53.47" width="1.00" height="1.00" fill="#E48890" />
<rect x="355.88" y="76.61" width="1.00" height="1.00" fill="#E48890" />
<rect x="387.97" y="59.35" width="1.00" height="1.00" fill="#E48890" />
<rect x="388.00" y="57.04" width="1.00" height="1.00" fill="#DC6070" />
<rect x="372.08" y="75.72" width="1.00" height="1.00" fill="#E87080" />
<rect x="372.20" y="74.02" width="1.00" height="1.00" fill="#F0A0A8" />
<rect x="349.09" y="95.26" width="1.00" height="1.00" fill="#E48890" />
<rect x="382.14" y="66.03" width="1.00" height="1.00" fill="#E87080" />
<rect x="367.21" y="77.31" width="1.00" height="1.00" fill="#F0A0A8" />
<rect x="364.45" y="81.89" width="1.00" height="1.00" fill="#DC6070" />
<rect x="376.67" y="71.08" width="1.00" height="1.00" fill="#E48890" />
<rect x="382.25" y="65.64" width="1.00" height="1.00" fill="#D84050" />
<rect x="346.26" y="96.78" width="1.00" height="1.00" fill="#E87080" />
<rect x="381.22" y="66.67" width="1.00" height="1.00" fill="#DC6070" />
<rect x="346.29" y="99.59" width="1.00" height="1.00" fill="#E48890" />
<rect x="392.09" y="54.73" width="1.00" height="1.00" fill="#D84050" />
<rect x="364.65" y="78.82" width="1.00" height="1.00" fill="#D84050" />
<rect x="368.65" y="77.70" width="1.00" height="1.00" fill="#D84050" />
<rect x="356.22" y="84.70" width="1.00" height="1.00" fill="#DC6070" />
<rect x="347.60" y="99.24" width="1.00" height="1.00" fill="#E87080" />
<rect x="357.76" y="86.79" width="1.00" height="1.00" fill="#E05060" />
<rect x="372.04" y="74.17" width="1.00" height="1.00" fill="#F0A0A8" />
<rect x="343.78" y="103.11" width="1.00" height="1.00" fill="#E87080" />
<rect x="367.60" y="79.95" width="1.00" height="1.00" fill="#DC6070" />
<rect x="369.05" y="76.57" width="1.00" height="1.00" fill="#E87080" />
<rect x="380.00" y="67.62" width="1.00" height="1.00" fill="#E48890" />
<rect x="345.65" y="98.10" width="1.00" height="1.00" fill="#DC6070" />
<rect x="346.68" y="99.57" width="1.00" height="1.00" fill="#E87080" />
<rect x="364.61" y="78.63" width="1.00" height="1.00" fill="#E05060" />
<rect x="387.07" y="58.15" width="1.00" height="1.00" fill="#D84050" />
<rect x="355.45" y="91.13" width="1.00" height="1.00" fill="#D84050" />
<rect x="372.71" y="72.90" width="1.00" height="1.00" fill="#E48890" />
<rect x="353.55" y="82.53" width="1.00" height="1.00" fill="#E05060" />
<rect x="384.33" y="60.81" width="1.00" height="1.00" fill="#F0A0A8" />
<rect x="341.79" y="103.35" width="1.00" height="1.00" fill="#F0A0A8" />
<rect x="396.62" y="51.46" width="1.00" height="1.00" fill="#F0A0A8" />
<rect x="345.64" y="100.22" width="1.00" height="1.00" fill="#F0A0A8" />
<rect x="349.50" y="97.44" width="1.00" height="1.00" fill="#DC6070" />
<rect x="396.25" y="52.54" width="1.00" height="1.00" fill="#E05060" />
<rect x="347.80" y="97.42" width="1.00" height="1.00" fill="#E48890" />
<rect x="382.08" y="65.91" width="1.00" height="1.00" fill="#E87080" />
<rect x="361.49" y="86.04" width="1.00" height="1.00" fill="#E87080" />
<rect x="345.72" y="97.63" width="1.00" height="1.00" fill="#DC6070" />
<rect x="368.89" y="76.52" width="1.00" height="1.00" fill="#E05060" />
<rect x="341.64" y="100.85" width="1.00" height="1.00" fill="#E05060" />
<rect x="379.45" y="67.02" width="1.00" height="1.00" fill="#D84050" />
<rect x="350.30" y="95.30" width="1.00" height="1.00" fill="#F0A0A8" />
<rect x="358.71" y="85.12" width="1.00" height="1.00" fill="#F0A0A8" />
<rect x="349.11" y="96.82" width="1.00" height="1.00" fill="#E05060" />
<rect x="377.11" y="69.32" width="1.00" height="1.00" fill="#F0A0A8" />
<rect x="366.35" y="79.60" width="1.00" height="1.00" fill="#D84050" />
<rect x="372.74" y="75.03" width="1.00" height="1.00" fill="#DC6070" />
<rect x="387.33" y="60.35" width="1.00" height="1.00" fill="#D84050" />
<rect x="381.64" y="65.30" width="1.00" height="1.00" fill="#D84050" />
<rect x="395.68" y="52.98" width="1.00" height="1.00" fill="#E87080" />
<rect x="379.35" y="64.77" width="1.00" height="1.00" fill="#F0A0A8" />
<rect x="341.09" y="102.74" width="1.00" height="1.00" fill="#D84050" />
<rect x="349.81" y="93.80" width="1.00" height="1.00" fill="#E05060" />
<rect x="348.88" y="96.33" width="1.00" height="1.00" fill="#E48890" />
<rect x="395.62" y="52.29" width="1.00" height="1.00" fill="#F0A0A8" />
<rect x="345.76" y="98.39" width="1.00" height="1.00" fill="#E48890" />
<rect x="362.38" y="84.35" width="1.00" height="1.00" fill="#E87080" />
<rect x="344.22" y="99.04" width="1.00" height="1.00" fill="#F0A0A8" />
<rect x="352.57" y="94.60" width="1.00" height="1.00" fill="#F0A0A8" />
<rect x="345.91" y="97.14" width="1.00" height="1.00" fill="#D84050" />
<rect x="354.04" y="88.81" width="1.00" height="1.00" fill="#E48890" />
<rect x="369.35" y="76.07" width="1.00" height="1.00" fill="#E87080" />
<rect x="351.77" y="93.91" width="1.00" height="1.00" fill="#D84050" />
<rect x="361.10" y="83.10" width="1.00" height="1.00" fill="#E48890" />
<rect x="354.79" y="90.10" width="1.00" height="1.00" fill="#E05060" />
<rect x="366.95" y="79.53" width="1.00" height="1.00" fill="#E05060" />
<rect x="374.44" y="71.97" width="1.00" height="1.00" fill="#E05060" />
<rect x="352.46" y="92.42" width="1.00" height="1.00" fill="#E48890" />
<rect x="372.76" y="74.93" width="1.00" height="1.00" fill="#F0A0A8" />
<rect x="366.02" y="77.57" width="1.00" height="1.00" fill="#E48890" />
<rect x="394.95" y="53.80" width="1.00" height="1.00" fill="#E87080" />
<rect x="374.58" y="68.17" width="1.00" height="1.00" fill="#E05060" />
<rect x="389.76" y="58.16" width="1.00" height="1.00" fill="#F0A0A8" />
<rect x="388.35" y="56.41" width="1.00" height="1.00" fill="#DC6070" />
<rect x="347.72" y="96.46" width="1.00" height="1.00" fill="#E05060" />
<rect x="372.61" y="71.56" width="1.00" height="1.00" fill="#DC6070" />
<rect x="351.23" y="91.36" width="1.00" height="1.00" fill="#E87080" />
<rect x="354.17" y="92.90" width="1.00" height="1.00" fill="#D84050" />
<rect x="353.85" y="82.40" width="1.00" height="1.00" fill="#E05060" />
<rect x="343.63" y="101.89" width="1.00" height="1.00" fill="#E48890" />
<rect x="377.21" y="70.12" width="1.00" height="1.00" fill="#E87080" />
<rect x="341.32" y="105.49" width="1.00" height="1.00" fill="#E87080" />
<rect x="357.73" y="86.34" width="1.00" height="1.00" fill="#E05060" />
<rect x="361.81" y="83.60" width="1.00" height="1.00" fill="#F0A0A8" />
<rect x="367.95" y="79.00" width="1.00" height="1.00" fill="#E87080" />
<rect x="390.96" y="56.12" width="1.00" height="1.00" fill="#F0A0A8" />
<rect x="351.93" y="89.98" width="1.00" height="1.00" fill="#E87080" />
<rect x="375.64" y="71.21" width="1.00" height="1.00" fill="#D84050" />
<rect x="348.83" y="97.30" width="1.00" height="1.00" fill="#F0A0A8" />
<rect x="376.19" y="71.57" width="1.00" height="1.00" fill="#F0A0A8" />
<rect x="370.97" y="69.39" width="1.00" height="1.00" fill="#E05060" />
<rect x="349.00" y="98.02" width="1.00" height="1.00" fill="#DC6070" />
<rect x="390.80" y="57.01" width="1.00" height="1.00" fill="#F0A0A8" />
<rect x="355.92" y="90.30" width="1.00" height="1.00" fill="#D84050" />
<rect x="357.61" y="89.12" width="1.00" height="1.00" fill="#E87080" />
<rect x="347.12" y="97.33" width="1.00" height="1.00" fill="#E87080" />
<rect x="353.70" y="78.78" width="1.00" height="1.00" fill="#DC6070" />
<rect x="372.36" y="74.87" width="1.00" height="1.00" fill="#D84050" />
<rect x="383.27" y="62.58" width="1.00" height="1.00" fill="#D84050" />
<rect x="410.13" y="33.10" width="1.00" height="1.00" fill="#D84050" />
<rect x="350.08" y="96.65" width="1.00" height="1.00" fill="#DC6070" />
<rect x="359.38" y="76.10" width="1.00" height="1.00" fill="#F0A0A8" />
<rect x="360.09" y="87.36" width="1.00" height="1.00" fill="#E48890" />
<rect x="361.17" y="86.31" width="1.00" height="1.00" fill="#E05060" />
<rect x="353.22" y="92.91" width="1.00" height="1.00" fill="#E87080" />
<rect x="353.90" y="92.86" width="1.00" height="1.00" fill="#E87080" />
<rect x="345.44" y="98.79" width="1.00" height="1.00" fill="#F0A0A8" />
<rect x="350.82" y="94.69" width="1.00" height="1.00" fill="#E87080" />
<rect x="380.63" y="66.44" width="1.00" height="1.00" fill="#E87080" />
<rect x="379.77" y="65.53" width="1.00" height="1.00" fill="#E48890" />
<rect x="381.41" y="62.77" width="1.00" height="1.00" fill="#D84050" />
<rect x="376.79" y="69.85" width="1.00" height="1.00" fill="#F0A0A8" />
<rect x="363.93" y="83.65" width="1.00" height="1.00" fill="#DC6070" />
<rect x="351.42" y="94.55" width="1.00" height="1.00" fill="#D84050" />
<rect x="380.33" y="63.70" width="1.00" height="1.00" fill="#D84050" />
<rect x="365.96" y="79.64" width="1.00" height="1.00" fill="#E48890" />
<rect x="360.98" y="86.45" width="1.00" height="1.00" fill="#D84050" />
<rect x="389.61" y="54.45" width="1.00" height="1.00" fill="#E48890" />
<rect x="344.43" y="98.42" width="1.00" height="1.00" fill="#F0A0A8" />
<rect x="342.44" y="100.22" width="1.00" height="1.00" fill="#E48890" />
<rect x="354.64" y="89.89" width="1.00" height="1.00" fill="#E87080" />
<rect x="355.03" y="90.58" width="1.00" height="1.00" fill="#E05060" />
<rect x="392.87" y="55.69" width="1.00" height="1.00" fill="#E48890" />
<rect x="366.98" y="78.94" width="1.00" height="1.00" fill="#E87080" />
<rect x="346.76" y="97.72" width="1.00" height="1.00" fill="#E05060" />
<rect x="367.03" y="77.97" width="1.00" height="1.00" fill="#E48890" />
<rect x="356.66" y="89.01" width="1.00" height="1.00" fill="#E87080" />
<rect x="353.74" y="91.89" width="1.00" height="1.00" fill="#E87080" />
<rect x="373.08" y="74.89" width="1.00" height="1.00" fill="#E05060" />
<rect x="375.27" y="63.19" width="1.00" height="1.00" fill="#E48890" />
<rect x="363.16" y="83.06" width="1.00" height="1.00" fill="#E05060" />
<rect x="359.96" y="87.45" width="1.00" height="1.00" fill="#F0A0A8" />
<rect x="372.61" y="73.21" width="1.00" height="1.00" fill="#D84050" />
<rect x="388.47" y="57.34" width="1.00" height="1.00" fill="#DC6070" />
<rect x="366.20" y="71.92" width="1.00" height="1.00" fill="#DC6070" />
<rect x="347.11" y="99.03" width="1.00" height="1.00" fill="#E87080" />
<rect x="365.25" y="81.99" width="1.00" height="1.00" fill="#E87080" />
<rect x="363.23" y="84.41" width="1.00" height="1.00" fill="#F0A0A8" />
<rect x="386.32" y="58.42" width="1.00" height="1.00" fill="#E05060" />
<rect x="375.77" y="69.01" width="1.00" height="1.00" fill="#DC6070" />
<rect x="376.18" y="71.70" width="1.00" height="1.00" fill="#E05060" />
<rect x="370.14" y="77.16" width="1.00" height="1.00" fill="#F0A0A8" />
<rect x="343.21" y="102.07" width="1.00" height="1.00" fill="#E87080" />
<rect x="374.28" y="72.32" width="1.00" height="1.00" fill="#E48890" />
<rect x="345.73" y="96.62" width="1.00" height="1.00" fill="#F0A0A8" />
<rect x="348.36" y="95.79" width="1.00" height="1.00" fill="#D84050" />
<rect x="373.33" y="74.09" width="1.00" height="1.00" fill="#DC6070" />
<rect x="388.03" y="56.63" width="1.00" height="1.00" fill="#E48890" />
<rect x="353.41" y="91.61" width="1.00" height="1.00" fill="#D84050" />
<rect x="371.69" y="74.29" width="1.00" height="1.00" fill="#E48890" />
<rect x="386.85" y="59.51" width="1.00" height="1.00" fill="#E87080" />
<rect x="362.46" y="84.76" width="1.00" height="1.00" fill="#E48890" />
<rect x="392.75" y="52.84" width="1.00" height="1.00" fill="#D84050" />
<rect x="368.52" y="74.28" width="1.00" height="1.00" fill="#D84050" />
<rect x="353.10" y="93.73" width="1.00" height="1.00" fill="#E48890" />
<rect x="389.79" y="58.62" width="1.00" height="1.00" fill="#F0A0A8" />
<rect x="369.95" y="76.81" width="1.00" height="1.00" fill="#E05060" />
<rect x="396.40" y="50.48" width="1.00" height="1.00" fill="#DC6070" />
<rect x="349.65" y="96.37" width="1.00" height="1.00" fill="#DC6070" />
<rect x="375.20" y="70.96" width="1.00" height="1.00" fill="#D84050" />
<rect x="370.00" y="77.62" width="1.00" height="1.00" fill="#F0A0A8" />
<rect x="376.32" y="67.85" width="1.00" height="1.00" fill="#DC6070" />
<rect x="348.13" y="98.85" width="1.00" height="1.00" fill="#E48890" />
<rect x="368.88" y="78.81" width="1.00" height="1.00" fill="#E48890" />
<rect x="388.60" y="59.34" width="1.00" height="1.00" fill="#E05060" />
<rect x="366.33" y="78.15" width="1.00" height="1.00" fill="#F0A0A8" />
<rect x="360.75" y="85.06" width="1.00" height="1.00" fill="#E48890" />
<rect x="359.03" y="86.14" width="1.00" height="1.00" fill="#DC6070" />
<rect x="368.97" y="77.45" width="1.00" height="1.00" fill="#D84050" />
<rect x="365.40" y="81.81" width="1.00" height="1.00" fill="#F0A0A8" />
<rect x="345.92" y="99.27" width="1.00" height="1.00" fill="#E48890" />
<rect x="394.69" y="53.05" width="1.00" height="1.00" fill="#E87080" />
<rect x="407.93" y="25.78" width="1.00" height="1.00" fill="#E05060" />
<rect x="372.64" y="69.95" width="1.00" height="1.00" fill="#D84050" />
<rect x="396.91" y="51.84" width="1.00" height="1.00" fill="#E48890" />
<rect x="381.72" y="64.16" width="1.00" height="1.00" fill="#E05060" />
<rect x="360.66" y="85.77" width="1.00" height="1.00" fill="#E05060" />
<rect x="370.41" y="75.61" width="1.00" height="1.00" fill="#F0A0A8" />
<rect x="392.99" y="54.35" width="1.00" height="1.00" fill="#E87080" />
<rect x="395.01" y="51.18" width="1.00" height="1.00" fill="#E48890" />
<rect x="373.89" y="73.92" width="1.00" height="1.00" fill="#DC6070" />
<rect x="386.69" y="60.79" width="1.00" height="1.00" fill="#E05060" />
<rect x="369.71" y="76.33" width="1.00" height="1.00" fill="#E05060" />
<rect x="357.52" y="86.83" width="1.00" height="1.00" fill="#E48890" />
<rect x="364.57" y="78.46" width="1.00" height="1.00" fill="#E87080" />
<rect x="386.71" y="60.44" width="1.00" height="1.00" fill="#F0A0A8" />
<rect x="376.29" y="66.93" width="1.00" height="1.00" fill="#E48890" />
<rect x="372.91" y="72.48" width="1.00" height="1.00" fill="#DC6070" />
<rect x="385.11" y="60.49" width="1.00" height="1.00" fill="#D84050" />
<rect x="371.96" y="73.90" width="1.00" height="1.00" fill="#E05060" />
<rect x="378.41" y="68.57" width="1.00" height="1.00" fill="#E87080" />
<rect x="384.06" y="59.89" width="1.00" height="1.00" fill="#E48890" />
<rect x="349.05" y="96.13" width="1.00" height="1.00" fill="#E87080" />
<rect x="347.80" y="97.07" width="1.00" height="1.00" fill="#E05060" />
<rect x="345.26" y="98.39" width="1.00" height="1.00" fill="#E48890" />
<rect x="367.18" y="76.71" width="1.00" height="1.00" fill="#DC6070" />
<rect x="384.15" y="62.42" width="1.00" height="1.00" fill="#D84050" />
<rect x="354.34" y="92.91" width="1.00" height="1.00" fill="#DC6070" />
<rect x="391.62" y="56.42" width="1.00" height="1.00" fill="#E48890" />
<rect x="351.73" y="95.18" width="1.00" height="1.00" fill="#E87080" />
<rect x="373.63" y="74.06" width="1.00" height="1.00" fill="#E05060" />
<rect x="375.73" y="72.36" width="1.00" height="1.00" fill="#E48890" />
<rect x="358.63" y="88.15" width="1.00" height="1.00" fill="#F0A0A8" />
<rect x="374.74" y="70.60" width="1.00" height="1.00" fill="#E05060" />
<rect x="362.83" y="84.12" width="1.00" height="1.00" fill="#DC6070" />
<rect x="364.16" y="80.49" width="1.00" height="1.00" fill="#E05060" />
<rect x="354.63" y="90.48" width="1.00" height="1.00" fill="#E87080" />
<rect x="362.22" y="80.44" width="1.00" height="1.00" fill="#F0A0A8" />
<rect x="347.43" y="99.43" width="1.00" height="1.00" fill="#E48890" />
<rect x="359.81" y="84.17" width="1.00" height="1.00" fill="#F0A0A8" />
<rect x="360.67" y="81.92" width="1.00" height="1.00" fill="#E87080" />
<rect x="367.15" y="79.21" width="1.00" height="1.00" fill="#D84050" />
<rect x="360.12" y="85.30" width="1.00" height="1.00" fill="#E87080" />
<rect x="348.27" y="97.87" width="1.00" height="1.00" fill="#E87080" />
<rect x="367.15" y="77.80" width="1.00" height="1.00" fill="#E87080" />
<rect x="360.76" y="86.41" width="1.00" height="1.00" fill="#E48890" />
<rect x="394.25" y="52.19" width="1.00" height="1.00" fill="#E48890" />
<rect x="389.07" y="56.90" width="1.00" height="1.00" fill="#D84050" />
<rect x="365.66" y="76.97" width="1.00" height="1.00" fill="#D84050" />
<rect x="363.63" y="82.80" width="1.00" height="1.00" fill="#E05060" />
<rect x="346.12" y="100.86" width="1.00" height="1.00" fill="#D84050" />
<rect x="383.83" y="60.79" width="1.00" height="1.00" fill="#E87080" />
<rect x="362.84" y="84.12" width="1.00" height="1.00" fill="#E05060" />
<rect x="384.46" y="63.76" width="1.00" height="1.00" fill="#E05060" />
<rect x="392.18" y="54.96" width="1.00" height="1.00" fill="#E48890" />
<rect x="351.80" y="95.26" width="1.00" height="1.00" fill="#D84050" />
<rect x="381.13" y="66.14" width="1.00" height="1.00" fill="#D84050" />
<rect x="388.28" y="56.96" width="1.00" height="1.00" fill="#DC6070" />
<rect x="351.15" y="104.80" width="1.00" height="1.00" fill="#4848E8" />
<rect x="360.30" y="96.34" width="1.00" height="1.00" fill="#7070F0" />
<rect x="373.45" y="85.92" width="1.00" height="1.00" fill="#7070F0" />
<rect x="379.02" y="79.13" width="1.00" height="1.00" fill="#3030E8" />
<rect x="356.56" y="101.45" width="1.00" height="1.00" fill="#1818D0" />
<rect x="373.79" y="82.87" width="1.00" height="1.00" fill="#3030E8" />
<rect x="375.52" y="80.73" width="1.00" height="1.00" fill="#3030E8" />
<rect x="347.53" y="108.80" width="1.00" height="1.00" fill="#3030E8" />
<rect x="354.88" y="103.53" width="1.00" height="1.00" fill="#7070F0" />
<rect x="355.93" y="102.67" width="1.00" height="1.00" fill="#4848E8" />
<rect x="355.59" y="111.67" width="1.00" height="1.00" fill="#5050E0" />
<rect x="347.68" y="108.83" width="1.00" height="1.00" fill="#1818D0" />
<rect x="347.85" y="107.31" width="1.00" height="1.00" fill="#4848E8" />
<rect x="381.66" y="75.75" width="1.00" height="1.00" fill="#5050E0" />
<rect x="362.27" y="93.66" width="1.00" height="1.00" fill="#1818D0" />
<rect x="356.97" y="104.97" width="1.00" height="1.00" fill="#2020E0" />
<rect x="383.03" y="75.28" width="1.00" height="1.00" fill="#1818D0" />
<rect x="378.37" y="78.56" width="1.00" height="1.00" fill="#5050E0" />
<rect x="365.84" y="90.61" width="1.00" height="1.00" fill="#5050E0" />
<rect x="382.20" y="75.52" width="1.00" height="1.00" fill="#3030E8" />
<rect x="353.38" y="106.03" width="1.00" height="1.00" fill="#1818D0" />
<rect x="367.31" y="89.76" width="1.00" height="1.00" fill="#5050E0" />
<rect x="356.15" y="100.62" width="1.00" height="1.00" fill="#4848E8" />
<rect x="353.86" y="101.79" width="1.00" height="1.00" fill="#4848E8" />
<rect x="372.76" y="85.86" width="1.00" height="1.00" fill="#5050E0" />
<rect x="366.10" y="89.88" width="1.00" height="1.00" fill="#7070F0" />
<rect x="371.00" y="85.33" width="1.00" height="1.00" fill="#5050E0" />
<rect x="367.97" y="89.02" width="1.00" height="1.00" fill="#4848E8" />
<rect x="350.60" y="109.49" width="1.00" height="1.00" fill="#5050E0" />
<rect x="369.35" y="89.02" width="1.00" height="1.00" fill="#7070F0" />
<rect x="361.84" y="94.73" width="1.00" height="1.00" fill="#2020E0" />
<rect x="354.05" y="104.67" width="1.00" height="1.00" fill="#2020E0" />
<rect x="357.85" y="99.14" width="1.00" height="1.00" fill="#2020E0" />
<rect x="363.36" y="93.57" width="1.00" height="1.00" fill="#1818D0" />
<rect x="352.56" y="103.03" width="1.00" height="1.00" fill="#7070F0" />
<rect x="373.97" y="82.21" width="1.00" height="1.00" fill="#5050E0" />
<rect x="350.24" y="107.41" width="1.00" height="1.00" fill="#3030E8" />
<rect x="358.55" y="97.12" width="1.00" height="1.00" fill="#4848E8" />
<rect x="371.14" y="88.54" width="1.00" height="1.00" fill="#5050E0" />
<rect x="371.47" y="88.35" width="1.00" height="1.00" fill="#2020E0" />
<rect x="347.08" y="108.69" width="1.00" height="1.00" fill="#4848E8" />
<rect x="383.52" y="77.20" width="1.00" height="1.00" fill="#1818D0" />
<rect x="382.14" y="76.15" width="1.00" height="1.00" fill="#4848E8" />
<rect x="358.74" y="100.27" width="1.00" height="1.00" fill="#3030E8" />
<rect x="359.89" y="95.80" width="1.00" height="1.00" fill="#4848E8" />
<rect x="355.89" y="100.75" width="1.00" height="1.00" fill="#2020E0" />
<rect x="368.11" y="90.67" width="1.00" height="1.00" fill="#5050E0" />
<rect x="347.97" y="110.22" width="1.00" height="1.00" fill="#3030E8" />
<rect x="365.48" y="91.32" width="1.00" height="1.00" fill="#1818D0" />
<rect x="351.53" y="105.34" width="1.00" height="1.00" fill="#3030E8" />
<rect x="363.28" y="93.35" width="1.00" height="1.00" fill="#2020E0" />
<rect x="364.70" y="91.20" width="1.00" height="1.00" fill="#3030E8" />
<rect x="346.11" y="111.39" width="1.00" height="1.00" fill="#1818D0" />
<rect x="357.05" y="102.20" width="1.00" height="1.00" fill="#5050E0" />
<rect x="373.72" y="82.94" width="1.00" height="1.00" fill="#2020E0" />
<rect x="378.22" y="78.49" width="1.00" height="1.00" fill="#5050E0" />
<rect x="357.53" y="100.70" width="1.00" height="1.00" fill="#4848E8" />
<rect x="364.28" y="92.45" width="1.00" height="1.00" fill="#1818D0" />
<rect x="363.96" y="96.68" width="1.00" height="1.00" fill="#3030E8" />
<rect x="398.09" y="69.37" width="1.00" height="1.00" fill="#2020E0" />
<rect x="358.93" y="97.48" width="1.00" height="1.00" fill="#5050E0" />
<rect x="368.27" y="90.08" width="1.00" height="1.00" fill="#5050E0" />
<rect x="379.75" y="77.26" width="1.00" height="1.00" fill="#1818D0" />
<rect x="347.09" y="109.31" width="1.00" height="1.00" fill="#7070F0" />
<rect x="351.73" y="106.74" width="1.00" height="1.00" fill="#1818D0" />
<rect x="368.65" y="89.64" width="1.00" height="1.00" fill="#1818D0" />
<rect x="356.18" y="100.65" width="1.00" height="1.00" fill="#3030E8" />
<rect x="380.71" y="76.63" width="1.00" height="1.00" fill="#4848E8" />
<rect x="353.31" y="102.33" width="1.00" height="1.00" fill="#5050E0" />
<rect x="365.08" y="92.20" width="1.00" height="1.00" fill="#1818D0" />
<rect x="374.69" y="81.92" width="1.00" height="1.00" fill="#1818D0" />
<rect x="379.21" y="78.78" width="1.00" height="1.00" fill="#3030E8" />
<rect x="367.47" y="92.06" width="1.00" height="1.00" fill="#5050E0" />
<rect x="382.98" y="77.46" width="1.00" height="1.00" fill="#1818D0" />
<rect x="378.38" y="81.98" width="1.00" height="1.00" fill="#7070F0" />
<rect x="383.75" y="73.56" width="1.00" height="1.00" fill="#2020E0" />
<rect x="376.27" y="82.28" width="1.00" height="1.00" fill="#2020E0" />
<rect x="347.84" y="110.73" width="1.00" height="1.00" fill="#3030E8" />
<rect x="350.70" y="105.45" width="1.00" height="1.00" fill="#3030E8" />
<rect x="380.66" y="78.99" width="1.00" height="1.00" fill="#1818D0" />
<rect x="374.40" y="84.87" width="1.00" height="1.00" fill="#4848E8" />
<rect x="375.07" y="83.12" width="1.00" height="1.00" fill="#5050E0" />
<rect x="355.97" y="102.71" width="1.00" height="1.00" fill="#3030E8" />
<rect x="374.75" y="84.79" width="1.00" height="1.00" fill="#2020E0" />
<rect x="359.78" y="96.93" width="1.00" height="1.00" fill="#4848E8" />
<rect x="377.32" y="82.81" width="1.00" height="1.00" fill="#5050E0" />
<rect x="359.82" y="99.13" width="1.00" height="1.00" fill="#5050E0" />
<rect x="378.69" y="78.50" width="1.00" height="1.00" fill="#2020E0" />
<rect x="348.88" y="106.83" width="1.00" height="1.00" fill="#4848E8" />
<rect x="367.62" y="89.07" width="1.00" height="1.00" fill="#7070F0" />
<rect x="368.94" y="90.31" width="1.00" height="1.00" fill="#4848E8" />
<rect x="372.89" y="85.11" width="1.00" height="1.00" fill="#2020E0" />
<rect x="384.78" y="76.86" width="1.00" height="1.00" fill="#7070F0" />
<rect x="380.05" y="76.39" width="1.00" height="1.00" fill="#3030E8" />
<rect x="371.14" y="85.38" width="1.00" height="1.00" fill="#1818D0" />
<rect x="364.55" y="93.57" width="1.00" height="1.00" fill="#7070F0" />
<rect x="383.36" y="76.73" width="1.00" height="1.00" fill="#1818D0" />
<rect x="358.84" y="97.69" width="1.00" height="1.00" fill="#1818D0" />
<rect x="354.24" y="105.86" width="1.00" height="1.00" fill="#4848E8" />
<rect x="358.92" y="101.89" width="1.00" height="1.00" fill="#4848E8" />
<rect x="368.59" y="88.33" width="1.00" height="1.00" fill="#4848E8" />
<rect x="355.70" y="101.94" width="1.00" height="1.00" fill="#5050E0" />
<rect x="372.17" y="86.01" width="1.00" height="1.00" fill="#4848E8" />
<rect x="348.48" y="108.82" width="1.00" height="1.00" fill="#1818D0" />
<rect x="383.32" y="73.16" width="1.00" height="1.00" fill="#5050E0" />
<rect x="367.86" y="88.57" width="1.00" height="1.00" fill="#7070F0" />
<rect x="370.75" y="89.80" width="1.00" height="1.00" fill="#4848E8" />
<rect x="376.93" y="79.52" width="1.00" height="1.00" fill="#3030E8" />
<rect x="357.86" y="101.71" width="1.00" height="1.00" fill="#4848E8" />
<rect x="365.85" y="91.31" width="1.00" height="1.00" fill="#1818D0" />
<rect x="359.04" y="98.07" width="1.00" height="1.00" fill="#5050E0" />
<rect x="358.60" y="99.52" width="1.00" height="1.00" fill="#4848E8" />
<rect x="377.56" y="78.79" width="1.00" height="1.00" fill="#4848E8" />
<rect x="354.01" y="103.95" width="1.00" height="1.00" fill="#7070F0" />
<rect x="368.18" y="89.86" width="1.00" height="1.00" fill="#4848E8" />
<rect x="368.88" y="89.24" width="1.00" height="1.00" fill="#4848E8" />
<rect x="367.50" y="91.19" width="1.00" height="1.00" fill="#4848E8" />
<rect x="353.42" y="104.61" width="1.00" height="1.00" fill="#4848E8" />
<rect x="384.51" y="73.28" width="1.00" height="1.00" fill="#4848E8" />
<rect x="384.51" y="83.38" width="1.00" height="1.00" fill="#2020E0" />
<rect x="358.45" y="99.26" width="1.00" height="1.00" fill="#1818D0" />
<rect x="352.42" y="107.24" width="1.00" height="1.00" fill="#4848E8" />
<rect x="346.78" y="110.70" width="1.00" height="1.00" fill="#1818D0" />
<rect x="365.57" y="90.91" width="1.00" height="1.00" fill="#2020E0" />
<rect x="374.62" y="84.47" width="1.00" height="1.00" fill="#2020E0" />
<rect x="377.84" y="79.05" width="1.00" height="1.00" fill="#1818D0" />
<rect x="351.33" y="104.99" width="1.00" height="1.00" fill="#2020E0" />
<rect x="381.99" y="76.96" width="1.00" height="1.00" fill="#3030E8" />
<rect x="379.84" y="79.01" width="1.00" height="1.00" fill="#1818D0" />
<rect x="359.17" y="96.79" width="1.00" height="1.00" fill="#2020E0" />
<rect x="377.05" y="81.79" width="1.00" height="1.00" fill="#7070F0" />
<rect x="369.98" y="99.38" width="1.00" height="1.00" fill="#2020E0" />
<rect x="358.36" y="98.78" width="1.00" height="1.00" fill="#5050E0" />
<rect x="352.80" y="113.02" width="1.00" height="1.00" fill="#5050E0" />
<rect x="352.11" y="104.73" width="1.00" height="1.00" fill="#1818D0" />
<rect x="349.50" y="105.86" width="1.00" height="1.00" fill="#4848E8" />
<rect x="367.01" y="91.27" width="1.00" height="1.00" fill="#5050E0" />
<rect x="378.75" y="84.52" width="1.00" height="1.00" fill="#1818D0" />
<rect x="373.75" y="83.83" width="1.00" height="1.00" fill="#2020E0" />
<rect x="358.06" y="98.31" width="1.00" height="1.00" fill="#7070F0" />
<rect x="360.09" y="101.72" width="1.00" height="1.00" fill="#1818D0" />
<rect x="356.59" y="103.91" width="1.00" height="1.00" fill="#7070F0" />
<rect x="377.56" y="79.90" width="1.00" height="1.00" fill="#5050E0" />
<rect x="375.51" y="80.77" width="1.00" height="1.00" fill="#2020E0" />
<rect x="381.23" y="81.16" width="1.00" height="1.00" fill="#1818D0" />
<rect x="367.65" y="90.42" width="1.00" height="1.00" fill="#4848E8" />
<rect x="381.21" y="80.04" width="1.00" height="1.00" fill="#5050E0" />
<rect x="376.38" y="81.84" width="1.00" height="1.00" fill="#5050E0" />
<rect x="384.31" y="72.47" width="1.00" height="1.00" fill="#7070F0" />
<rect x="381.58" y="76.57" width="1.00" height="1.00" fill="#3030E8" />
<rect x="381.24" y="76.38" width="1.00" height="1.00" fill="#2020E0" />
<rect x="346.60" y="110.25" width="1.00" height="1.00" fill="#5050E0" />
<rect x="348.34" y="111.57" width="1.00" height="1.00" fill="#1818D0" />
<rect x="381.37" y="77.31" width="1.00" height="1.00" fill="#3030E8" />
<rect x="346.81" y="110.64" width="1.00" height="1.00" fill="#5050E0" />
<rect x="355.02" y="101.47" width="1.00" height="1.00" fill="#5050E0" />
<rect x="380.30" y="79.67" width="1.00" height="1.00" fill="#7070F0" />
<rect x="368.21" y="90.16" width="1.00" height="1.00" fill="#4848E8" />
<rect x="356.83" y="106.31" width="1.00" height="1.00" fill="#2020E0" />
<rect x="364.94" y="94.60" width="1.00" height="1.00" fill="#3030E8" />
<rect x="372.63" y="85.43" width="1.00" height="1.00" fill="#1818D0" />
<rect x="376.50" y="81.07" width="1.00" height="1.00" fill="#5050E0" />
<rect x="376.41" y="80.66" width="1.00" height="1.00" fill="#3030E8" />
<rect x="364.88" y="96.06" width="1.00" height="1.00" fill="#2020E0" />
<rect x="381.60" y="75.81" width="1.00" height="1.00" fill="#3030E8" />
<rect x="351.88" y="103.47" width="1.00" height="1.00" fill="#3030E8" />
<rect x="361.49" y="95.15" width="1.00" height="1.00" fill="#7070F0" />
<rect x="381.82" y="75.48" width="1.00" height="1.00" fill="#2020E0" />
<rect x="353.85" y="106.12" width="1.00" height="1.00" fill="#5050E0" />
<rect x="347.48" y="109.30" width="1.00" height="1.00" fill="#7070F0" />
<rect x="374.41" y="81.69" width="1.00" height="1.00" fill="#2020E0" />
<rect x="365.82" y="102.83" width="1.00" height="1.00" fill="#2020E0" />
<rect x="398.53" y="68.09" width="1.00" height="1.00" fill="#2020E0" />
<rect x="372.73" y="85.51" width="1.00" height="1.00" fill="#1818D0" />
<rect x="376.50" y="92.18" width="1.00" height="1.00" fill="#2020E0" />
<rect x="354.39" y="103.98" width="1.00" height="1.00" fill="#3030E8" />
<rect x="356.65" y="99.58" width="1.00" height="1.00" fill="#2020E0" />
<rect x="359.82" y="101.15" width="1.00" height="1.00" fill="#1818D0" />
<rect x="363.36" y="100.23" width="1.00" height="1.00" fill="#2020E0" />
<rect x="367.21" y="90.20" width="1.00" height="1.00" fill="#1818D0" />
<rect x="362.00" y="97.41" width="1.00" height="1.00" fill="#4848E8" />
<rect x="358.41" y="97.24" width="1.00" height="1.00" fill="#7070F0" />
<rect x="351.90" y="103.69" width="1.00" height="1.00" fill="#3030E8" />
<rect x="370.76" y="89.90" width="1.00" height="1.00" fill="#3030E8" />
<rect x="382.13" y="74.29" width="1.00" height="1.00" fill="#7070F0" />
<rect x="391.28" y="76.33" width="1.00" height="1.00" fill="#2020E0" />
<rect x="376.57" y="82.71" width="1.00" height="1.00" fill="#5050E0" />
<rect x="373.07" y="84.42" width="1.00" height="1.00" fill="#1818D0" />
<rect x="363.76" y="94.87" width="1.00" height="1.00" fill="#1818D0" />
<rect x="375.10" y="82.63" width="1.00" height="1.00" fill="#1818D0" />
<rect x="360.82" y="96.94" width="1.00" height="1.00" fill="#5050E0" />
<rect x="379.91" y="76.85" width="1.00" height="1.00" fill="#1818D0" />
<rect x="371.72" y="84.89" width="1.00" height="1.00" fill="#4848E8" />
<rect x="377.10" y="81.73" width="1.00" height="1.00" fill="#4848E8" />
<rect x="378.80" y="81.88" width="1.00" height="1.00" fill="#5050E0" />
<rect x="368.99" y="93.37" width="1.00" height="1.00" fill="#2020E0" />
<rect x="366.62" y="92.97" width="1.00" height="1.00" fill="#1818D0" />
<rect x="352.60" y="104.98" width="1.00" height="1.00" fill="#3030E8" />
<rect x="363.95" y="94.30" width="1.00" height="1.00" fill="#5050E0" />
<rect x="392.79" y="74.77" width="1.00" height="1.00" fill="#2020E0" />
<rect x="360.11" y="97.03" width="1.00" height="1.00" fill="#7070F0" />
<rect x="355.81" y="101.43" width="1.00" height="1.00" fill="#2020E0" />
<rect x="371.86" y="86.04" width="1.00" height="1.00" fill="#5050E0" />
<rect x="361.43" y="94.44" width="1.00" height="1.00" fill="#7070F0" />
<rect x="363.52" y="96.22" width="1.00" height="1.00" fill="#1818D0" />
<rect x="372.53" y="84.01" width="1.00" height="1.00" fill="#4848E8" />
<rect x="371.75" y="86.21" width="1.00" height="1.00" fill="#7070F0" />
<rect x="367.69" y="90.07" width="1.00" height="1.00" fill="#2020E0" />
<rect x="348.25" y="108.47" width="1.00" height="1.00" fill="#4848E8" />
<rect x="355.97" y="102.73" width="1.00" height="1.00" fill="#4848E8" />
<rect x="349.56" y="108.60" width="1.00" height="1.00" fill="#3030E8" />
<rect x="383.38" y="76.42" width="1.00" height="1.00" fill="#4848E8" />
<rect x="360.49" y="97.46" width="1.00" height="1.00" fill="#4848E8" />
<rect x="375.37" y="81.39" width="1.00" height="1.00" fill="#7070F0" />
<rect x="369.69" y="86.27" width="1.00" height="1.00" fill="#1818D0" />
<rect x="370.12" y="87.47" width="1.00" height="1.00" fill="#5050E0" />
<rect x="348.47" y="107.99" width="1.00" height="1.00" fill="#2020E0" />
<rect x="360.80" y="99.14" width="1.00" height="1.00" fill="#1818D0" />
<rect x="382.49" y="76.38" width="1.00" height="1.00" fill="#2020E0" />
<rect x="364.04" y="94.83" width="1.00" height="1.00" fill="#7070F0" />
<rect x="363.01" y="94.07" width="1.00" height="1.00" fill="#2020E0" />
<rect x="365.16" y="90.61" width="1.00" height="1.00" fill="#1818D0" />
<rect x="346.37" y="108.87" width="1.00" height="1.00" fill="#1818D0" />
<rect x="372.51" y="85.00" width="1.00" height="1.00" fill="#1818D0" />
<rect x="361.11" y="95.44" width="1.00" height="1.00" fill="#2020E0" />
<rect x="346.60" y="108.72" width="1.00" height="1.00" fill="#7070F0" />
<rect x="375.38" y="81.42" width="1.00" height="1.00" fill="#5050E0" />
<rect x="359.09" y="96.73" width="1.00" height="1.00" fill="#2020E0" />
<rect x="375.17" y="81.61" width="1.00" height="1.00" fill="#7070F0" />
<rect x="380.01" y="77.29" width="1.00" height="1.00" fill="#3030E8" />
<rect x="353.42" y="103.36" width="1.00" height="1.00" fill="#1818D0" />
<rect x="356.23" y="99.35" width="1.00" height="1.00" fill="#4848E8" />
<rect x="371.89" y="84.76" width="1.00" height="1.00" fill="#7070F0" />
<rect x="357.97" y="99.70" width="1.00" height="1.00" fill="#3030E8" />
<rect x="377.28" y="79.97" width="1.00" height="1.00" fill="#3030E8" />
<rect x="354.09" y="102.64" width="1.00" height="1.00" fill="#5050E0" />
<rect x="364.10" y="94.62" width="1.00" height="1.00" fill="#4848E8" />
<rect x="367.09" y="97.81" width="1.00" height="1.00" fill="#5050E0" />
<rect x="348.00" y="107.34" width="1.00" height="1.00" fill="#4848E8" />
<rect x="348.64" y="110.59" width="1.00" height="1.00" fill="#2020E0" />
<rect x="377.05" y="80.38" width="1.00" height="1.00" fill="#4848E8" />
<rect x="354.17" y="104.29" width="1.00" height="1.00" fill="#7070F0" />
<rect x="372.24" y="96.63" width="1.00" height="1.00" fill="#2020E0" />
<rect x="379.47" y="77.29" width="1.00" height="1.00" fill="#2020E0" />
<rect x="379.64" y="79.38" width="1.00" height="1.00" fill="#3030E8" />
<rect x="374.13" y="83.26" width="1.00" height="1.00" fill="#5050E0" />
<rect x="365.43" y="91.89" width="1.00" height="1.00" fill="#4848E8" />
<rect x="366.84" y="92.00" width="1.00" height="1.00" fill="#3030E8" />
<rect x="381.80" y="74.80" width="1.00" height="1.00" fill="#2020E0" />
<rect x="349.57" y="106.63" width="1.00" height="1.00" fill="#2020E0" />
<rect x="371.70" y="84.50" width="1.00" height="1.00" fill="#5050E0" />
<rect x="379.86" y="81.38" width="1.00" height="1.00" fill="#5050E0" />
<rect x="352.25" y="106.68" width="1.00" height="1.00" fill="#1818D0" />
<rect x="373.57" y="83.73" width="1.00" height="1.00" fill="#5050E0" />
<rect x="381.56" y="76.72" width="1.00" height="1.00" fill="#3030E8" />
<rect x="383.27" y="80.17" width="1.00" height="1.00" fill="#2020E0" />
<rect x="352.08" y="107.12" width="1.00" height="1.00" fill="#4848E8" />
<rect x="367.28" y="90.66" width="1.00" height="1.00" fill="#5050E0" />
<rect x="358.99" y="97.94" width="1.00" height="1.00" fill="#7070F0" />
<rect x="378.31" y="81.63" width="1.00" height="1.00" fill="#5050E0" />
<rect x="376.32" y="87.42" width="1.00" height="1.00" fill="#4848E8" />
<rect x="376.48" y="83.26" width="1.00" height="1.00" fill="#2020E0" />
<rect x="356.92" y="99.51" width="1.00" height="1.00" fill="#2020E0" />
<rect x="364.35" y="94.23" width="1.00" height="1.00" fill="#3030E8" />
<rect x="357.69" y="98.70" width="1.00" height="1.00" fill="#2020E0" />
<rect x="382.83" y="74.02" width="1.00" height="1.00" fill="#5050E0" />
<rect x="352.71" y="104.13" width="1.00" height="1.00" fill="#4848E8" />
<rect x="352.98" y="104.45" width="1.00" height="1.00" fill="#4848E8" />
<rect x="374.22" y="85.48" width="1.00" height="1.00" fill="#2020E0" />
<rect x="369.23" y="87.70" width="1.00" height="1.00" fill="#7070F0" />
<rect x="347.54" y="109.65" width="1.00" height="1.00" fill="#5050E0" />
<rect x="368.54" y="88.44" width="1.00" height="1.00" fill="#4848E8" />
<rect x="374.38" y="81.89" width="1.00" height="1.00" fill="#5050E0" />
<rect x="366.58" y="101.77" width="1.00" height="1.00" fill="#7070F0" />
<rect x="356.19" y="101.38" width="1.00" height="1.00" fill="#2020E0" />
<rect x="350.57" y="107.50" width="1.00" height="1.00" fill="#2020E0" />
<rect x="355.59" y="99.87" width="1.00" height="1.00" fill="#1818D0" />
<rect x="365.76" y="91.01" width="1.00" height="1.00" fill="#7070F0" />
<rect x="384.53" y="73.00" width="1.00" height="1.00" fill="#3030E8" />
<rect x="366.86" y="88.99" width="1.00" height="1.00" fill="#2020E0" />
<rect x="374.42" y="93.75" width="1.00" height="1.00" fill="#1818D0" />
<rect x="375.00" y="82.09" width="1.00" height="1.00" fill="#2020E0" />
<rect x="351.99" y="103.32" width="1.00" height="1.00" fill="#7070F0" />
<rect x="350.27" y="105.50" width="1.00" height="1.00" fill="#1818D0" />
<rect x="349.29" y="107.36" width="1.00" height="1.00" fill="#1818D0" />
<rect x="366.00" y="90.55" width="1.00" height="1.00" fill="#2020E0" />
<rect x="348.85" y="106.85" width="1.00" height="1.00" fill="#3030E8" />
<rect x="372.98" y="83.91" width="1.00" height="1.00" fill="#4848E8" />
<rect x="377.61" y="83.58" width="1.00" height="1.00" fill="#2020E0" />
<rect x="382.32" y="75.23" width="1.00" height="1.00" fill="#7070F0" />
<rect x="376.76" y="81.02" width="1.00" height="1.00" fill="#3030E8" />
<rect x="359.43" y="98.30" width="1.00" height="1.00" fill="#3030E8" />
<rect x="382.07" y="75.66" width="1.00" height="1.00" fill="#2020E0" />
<rect x="389.58" y="76.32" width="1.00" height="1.00" fill="#7070F0" />
<rect x="358.87" y="99.96" width="1.00" height="1.00" fill="#2020E0" />
<rect x="370.82" y="86.12" width="1.00" height="1.00" fill="#4848E8" />
<rect x="349.60" y="108.64" width="1.00" height="1.00" fill="#5050E0" />
<rect x="379.14" y="89.31" width="1.00" height="1.00" fill="#7070F0" />
<rect x="375.08" y="83.85" width="1.00" height="1.00" fill="#4848E8" />
<rect x="375.05" y="84.26" width="1.00" height="1.00" fill="#5050E0" />
<rect x="325.80" y="21.80" width="106.60" height="105.90" fill="none" stroke="#333" stroke-width="1.1"/>
<text transform="translate(329.2,56.3) rotate(90)" font-size="9.4" fill="#9C4464" stroke="#9C4464" stroke-width="0.2" textLength="37" lengthAdjust="spacingAndGlyphs">Se-D ProE</text>
<text x="360.40" y="125.00" font-size="9.4" fill="#5A6A7E" text-anchor="start" font-weight="normal" font-style="normal" textLength="35.80" lengthAdjust="spacingAndGlyphs" stroke="#5A6A7E" stroke-width="0.15" >Se-A ProE</text>
<rect x="255.00" y="169.90" width="91.08" height="6.40" fill="#8E1050" />
<text x="251.30" y="175.70" font-size="8.7" fill="#222" text-anchor="end" font-weight="normal" font-style="normal" textLength="75.10" lengthAdjust="spacingAndGlyphs" stroke="#222" stroke-width="0.15" >Heme Biosynthesis II</text>
<rect x="255.00" y="179.80" width="67.54" height="6.40" fill="#8E1050" />
<text x="251.30" y="185.60" font-size="8.7" fill="#222" text-anchor="end" font-weight="normal" font-style="normal" textLength="169.10" lengthAdjust="spacingAndGlyphs" stroke="#222" stroke-width="0.15" >Heme Biosynthesis from Uroporphyrinogen-III I</text>
<rect x="255.00" y="189.70" width="43.29" height="6.40" fill="#8E1050" />
<text x="251.30" y="195.50" font-size="8.7" fill="#222" text-anchor="end" font-weight="normal" font-style="normal" textLength="155.60" lengthAdjust="spacingAndGlyphs" stroke="#222" stroke-width="0.15" >NRF2-mediated Oxidative Stress Response</text>
<rect x="255.00" y="199.60" width="32.27" height="6.40" fill="#8E1050" />
<text x="251.30" y="205.40" font-size="8.7" fill="#222" text-anchor="end" font-weight="normal" font-style="normal" textLength="73.30" lengthAdjust="spacingAndGlyphs" stroke="#222" stroke-width="0.15" >Apoptosis Signaling</text>
<rect x="255.00" y="209.50" width="43.09" height="6.40" fill="#8E1050" />
<text x="251.30" y="215.30" font-size="8.7" fill="#222" text-anchor="end" font-weight="normal" font-style="normal" textLength="57.10" lengthAdjust="spacingAndGlyphs" stroke="#222" stroke-width="0.15" >Notch Signaling</text>
<rect x="255.00" y="222.90" width="94.79" height="6.40" fill="#8E1050" />
<text x="251.30" y="228.70" font-size="8.7" fill="#222" text-anchor="end" font-weight="normal" font-style="normal" textLength="68.30" lengthAdjust="spacingAndGlyphs" stroke="#222" stroke-width="0.15" >GADD45 Signaling</text>
<rect x="255.00" y="232.80" width="65.53" height="6.40" fill="#8E1050" />
<text x="251.30" y="238.60" font-size="8.7" fill="#222" text-anchor="end" font-weight="normal" font-style="normal" textLength="52.80" lengthAdjust="spacingAndGlyphs" stroke="#222" stroke-width="0.15" >ATM Signaling</text>
<rect x="255.00" y="242.70" width="55.11" height="6.40" fill="#8E1050" />
<text x="251.30" y="248.50" font-size="8.7" fill="#222" text-anchor="end" font-weight="normal" font-style="normal" textLength="147.80" lengthAdjust="spacingAndGlyphs" stroke="#222" stroke-width="0.15" >DNA damage-induced 14-3-3&#963; Signaling</text>
<rect x="255.00" y="252.60" width="51.10" height="6.40" fill="#8E1050" />
<text x="251.30" y="258.40" font-size="8.7" fill="#222" text-anchor="end" font-weight="normal" font-style="normal" textLength="243.80" lengthAdjust="spacingAndGlyphs" stroke="#222" stroke-width="0.15" >DNA Double-Strand Break Repair by Non-Homologous End Joining</text>
<rect x="255.00" y="262.50" width="47.10" height="6.40" fill="#8E1050" />
<text x="251.30" y="268.30" font-size="8.7" fill="#222" text-anchor="end" font-weight="normal" font-style="normal" textLength="152.80" lengthAdjust="spacingAndGlyphs" stroke="#222" stroke-width="0.15" >Role of BRCA1 in DNA Damage Response</text>
<rect x="255.00" y="272.40" width="41.48" height="6.40" fill="#8E1050" />
<text x="251.30" y="278.20" font-size="8.7" fill="#222" text-anchor="end" font-weight="normal" font-style="normal" textLength="198.80" lengthAdjust="spacingAndGlyphs" stroke="#222" stroke-width="0.15" >Cell Cycle: G2/M DNA Damage Checkpoint Regulation</text>
<rect x="255.00" y="282.30" width="39.88" height="6.40" fill="#8E1050" />
<text x="251.30" y="288.10" font-size="8.7" fill="#222" text-anchor="end" font-weight="normal" font-style="normal" textLength="120.30" lengthAdjust="spacingAndGlyphs" stroke="#222" stroke-width="0.15" >Cyclins and Cell Cycle Regulation</text>
<rect x="255.00" y="292.20" width="31.26" height="6.40" fill="#8E1050" />
<text x="251.30" y="298.00" font-size="8.7" fill="#222" text-anchor="end" font-weight="normal" font-style="normal" textLength="237.30" lengthAdjust="spacingAndGlyphs" stroke="#222" stroke-width="0.15" >DNA Double-Strand Break Repair by Homologous Recombination</text>
<rect x="255.00" y="302.10" width="27.66" height="6.40" fill="#8E1050" />
<text x="251.30" y="307.90" font-size="8.7" fill="#222" text-anchor="end" font-weight="normal" font-style="normal" textLength="196.30" lengthAdjust="spacingAndGlyphs" stroke="#222" stroke-width="0.15" >Role of CHK Proteins in Cell Cycle Checkpoint Control</text>
<rect x="254.40" y="168.1" width="100.4" height="49.4" fill="none" stroke="#111" stroke-width="1.1"/>
<path d="M254.40,220.6 L354.6,220.6 L354.6,310.6 M254.40,220.6 L254.40,310.6" fill="none" stroke="#111" stroke-width="1.1"/>
<line x1="253.90" y1="310.60" x2="355.10" y2="310.60" stroke="#111" stroke-width="1.1" />
<line x1="254.40" y1="310.60" x2="254.40" y2="313.50" stroke="#111" stroke-width="0.9" />
<text x="254.40" y="322.70" font-size="8.8" fill="#333" text-anchor="middle" font-weight="normal" font-style="normal" stroke="#333" stroke-width="0.15" >0</text>
<line x1="274.44" y1="310.60" x2="274.44" y2="313.50" stroke="#111" stroke-width="0.9" />
<text x="274.44" y="322.70" font-size="8.8" fill="#333" text-anchor="middle" font-weight="normal" font-style="normal" stroke="#333" stroke-width="0.15" >1</text>
<line x1="294.48" y1="310.60" x2="294.48" y2="313.50" stroke="#111" stroke-width="0.9" />
<text x="294.48" y="322.70" font-size="8.8" fill="#333" text-anchor="middle" font-weight="normal" font-style="normal" stroke="#333" stroke-width="0.15" >2</text>
<line x1="314.52" y1="310.60" x2="314.52" y2="313.50" stroke="#111" stroke-width="0.9" />
<text x="314.52" y="322.70" font-size="8.8" fill="#333" text-anchor="middle" font-weight="normal" font-style="normal" stroke="#333" stroke-width="0.15" >3</text>
<line x1="334.56" y1="310.60" x2="334.56" y2="313.50" stroke="#111" stroke-width="0.9" />
<text x="334.56" y="322.70" font-size="8.8" fill="#333" text-anchor="middle" font-weight="normal" font-style="normal" stroke="#333" stroke-width="0.15" >4</text>
<line x1="354.60" y1="310.60" x2="354.60" y2="313.50" stroke="#111" stroke-width="0.9" />
<text x="354.60" y="322.70" font-size="8.8" fill="#333" text-anchor="middle" font-weight="normal" font-style="normal" stroke="#333" stroke-width="0.15" >5</text>
<text x="266.60" y="163.00" font-size="8.5" fill="#333" text-anchor="start" font-weight="normal" font-style="normal" textLength="75.60" lengthAdjust="spacingAndGlyphs" stroke="#333" stroke-width="0.15" >Pathways Enrichment</text>
<text x="284.20" y="334.80" font-size="8.8" fill="#333" text-anchor="start" font-weight="normal" font-style="normal" textLength="40.40" lengthAdjust="spacingAndGlyphs" stroke="#333" stroke-width="0.15" >-log (P -value)</text>
<rect x="412.70" y="160.50" width="20.20" height="3.80" fill="#2D4F8A" />
<rect x="412.70" y="164.30" width="26.80" height="4.10" fill="#AE0C30" />
<line x1="432.90" y1="162.40" x2="436.00" y2="162.40" stroke="#2A4070" stroke-width="0.9" />
<line x1="436.00" y1="161.10" x2="436.00" y2="163.70" stroke="#2A4070" stroke-width="0.9" />
<line x1="439.50" y1="166.35" x2="444.50" y2="166.35" stroke="#8A0A24" stroke-width="0.9" />
<line x1="444.50" y1="165.10" x2="444.50" y2="167.60" stroke="#8A0A24" stroke-width="0.9" />
<line x1="409.80" y1="164.30" x2="412.70" y2="164.30" stroke="#111" stroke-width="1" />
<text x="406.40" y="167.00" font-size="8.2" fill="#222" text-anchor="end" font-weight="normal" font-style="italic" textLength="19.20" lengthAdjust="spacingAndGlyphs" stroke="#222" stroke-width="0.28" >Alas2</text>
<rect x="412.70" y="171.38" width="6.05" height="3.80" fill="#2D4F8A" />
<rect x="412.70" y="175.18" width="26.60" height="4.10" fill="#AE0C30" />
<line x1="418.75" y1="173.28" x2="425.50" y2="173.28" stroke="#2A4070" stroke-width="0.9" />
<line x1="425.50" y1="171.98" x2="425.50" y2="174.58" stroke="#2A4070" stroke-width="0.9" />
<line x1="439.30" y1="177.23" x2="444.50" y2="177.23" stroke="#8A0A24" stroke-width="0.9" />
<line x1="444.50" y1="175.98" x2="444.50" y2="178.48" stroke="#8A0A24" stroke-width="0.9" />
<line x1="409.80" y1="175.18" x2="412.70" y2="175.18" stroke="#111" stroke-width="1" />
<text x="406.40" y="177.88" font-size="8.2" fill="#222" text-anchor="end" font-weight="normal" font-style="italic" textLength="16.70" lengthAdjust="spacingAndGlyphs" stroke="#222" stroke-width="0.28" >Fech</text>
<rect x="412.70" y="182.26" width="10.90" height="3.80" fill="#2D4F8A" />
<rect x="412.70" y="186.06" width="28.70" height="4.10" fill="#AE0C30" />
<line x1="423.60" y1="184.16" x2="428.70" y2="184.16" stroke="#2A4070" stroke-width="0.9" />
<line x1="428.70" y1="182.86" x2="428.70" y2="185.46" stroke="#2A4070" stroke-width="0.9" />
<line x1="441.40" y1="188.11" x2="444.60" y2="188.11" stroke="#8A0A24" stroke-width="0.9" />
<line x1="444.60" y1="186.86" x2="444.60" y2="189.36" stroke="#8A0A24" stroke-width="0.9" />
<line x1="409.80" y1="186.06" x2="412.70" y2="186.06" stroke="#111" stroke-width="1" />
<text x="406.40" y="188.76" font-size="8.2" fill="#222" text-anchor="end" font-weight="normal" font-style="italic" textLength="25.10" lengthAdjust="spacingAndGlyphs" stroke="#222" stroke-width="0.28" >Hmox1</text>
<rect x="412.70" y="193.14" width="79.00" height="3.80" fill="#2D4F8A" />
<rect x="412.70" y="196.94" width="41.60" height="4.10" fill="#AE0C30" />
<line x1="491.70" y1="195.04" x2="501.30" y2="195.04" stroke="#2A4070" stroke-width="0.9" />
<line x1="501.30" y1="193.74" x2="501.30" y2="196.34" stroke="#2A4070" stroke-width="0.9" />
<line x1="454.30" y1="198.99" x2="461.00" y2="198.99" stroke="#8A0A24" stroke-width="0.9" />
<line x1="461.00" y1="197.74" x2="461.00" y2="200.24" stroke="#8A0A24" stroke-width="0.9" />
<line x1="409.80" y1="196.94" x2="412.70" y2="196.94" stroke="#111" stroke-width="1" />
<text x="406.40" y="199.64" font-size="8.2" fill="#222" text-anchor="end" font-weight="normal" font-style="italic" textLength="27.40" lengthAdjust="spacingAndGlyphs" stroke="#222" stroke-width="0.28" >Ptplad1</text>
<rect x="412.70" y="204.02" width="64.90" height="3.80" fill="#2D4F8A" />
<rect x="412.70" y="207.82" width="43.10" height="4.10" fill="#AE0C30" />
<line x1="477.60" y1="205.92" x2="480.70" y2="205.92" stroke="#2A4070" stroke-width="0.9" />
<line x1="480.70" y1="204.62" x2="480.70" y2="207.22" stroke="#2A4070" stroke-width="0.9" />
<line x1="455.80" y1="209.87" x2="462.75" y2="209.87" stroke="#8A0A24" stroke-width="0.9" />
<line x1="462.75" y1="208.62" x2="462.75" y2="211.12" stroke="#8A0A24" stroke-width="0.9" />
<line x1="409.80" y1="207.82" x2="412.70" y2="207.82" stroke="#111" stroke-width="1" />
<text x="406.40" y="210.52" font-size="8.2" fill="#222" text-anchor="end" font-weight="normal" font-style="italic" textLength="17.50" lengthAdjust="spacingAndGlyphs" stroke="#222" stroke-width="0.28" >Crb1</text>
<rect x="412.70" y="214.90" width="16.00" height="3.80" fill="#2D4F8A" />
<rect x="412.70" y="218.70" width="21.90" height="4.10" fill="#AE0C30" />
<line x1="428.70" y1="216.80" x2="430.80" y2="216.80" stroke="#2A4070" stroke-width="0.9" />
<line x1="430.80" y1="215.50" x2="430.80" y2="218.10" stroke="#2A4070" stroke-width="0.9" />
<line x1="434.60" y1="220.75" x2="444.80" y2="220.75" stroke="#8A0A24" stroke-width="0.9" />
<line x1="444.80" y1="219.50" x2="444.80" y2="222.00" stroke="#8A0A24" stroke-width="0.9" />
<line x1="409.80" y1="218.70" x2="412.70" y2="218.70" stroke="#111" stroke-width="1" />
<text x="406.40" y="221.40" font-size="8.2" fill="#222" text-anchor="end" font-weight="normal" font-style="italic" textLength="21.60" lengthAdjust="spacingAndGlyphs" stroke="#222" stroke-width="0.28" >Bach1</text>
<rect x="412.70" y="225.78" width="61.05" height="3.80" fill="#2D4F8A" />
<rect x="412.70" y="229.58" width="37.30" height="4.10" fill="#AE0C30" />
<line x1="473.75" y1="227.68" x2="477.00" y2="227.68" stroke="#2A4070" stroke-width="0.9" />
<line x1="477.00" y1="226.38" x2="477.00" y2="228.98" stroke="#2A4070" stroke-width="0.9" />
<line x1="450.00" y1="231.63" x2="454.00" y2="231.63" stroke="#8A0A24" stroke-width="0.9" />
<line x1="454.00" y1="230.38" x2="454.00" y2="232.88" stroke="#8A0A24" stroke-width="0.9" />
<line x1="409.80" y1="229.58" x2="412.70" y2="229.58" stroke="#111" stroke-width="1" />
<text x="406.40" y="232.28" font-size="8.2" fill="#222" text-anchor="end" font-weight="normal" font-style="italic" textLength="22.10" lengthAdjust="spacingAndGlyphs" stroke="#222" stroke-width="0.28" >Casp8</text>
<rect x="412.70" y="236.66" width="80.10" height="3.80" fill="#2D4F8A" />
<rect x="412.70" y="240.46" width="53.60" height="4.10" fill="#AE0C30" />
<line x1="492.80" y1="238.56" x2="499.00" y2="238.56" stroke="#2A4070" stroke-width="0.9" />
<line x1="499.00" y1="237.26" x2="499.00" y2="239.86" stroke="#2A4070" stroke-width="0.9" />
<line x1="466.30" y1="242.51" x2="477.60" y2="242.51" stroke="#8A0A24" stroke-width="0.9" />
<line x1="477.60" y1="241.26" x2="477.60" y2="243.76" stroke="#8A0A24" stroke-width="0.9" />
<line x1="409.80" y1="240.46" x2="412.70" y2="240.46" stroke="#111" stroke-width="1" />
<text x="406.40" y="243.16" font-size="8.2" fill="#222" text-anchor="end" font-weight="normal" font-style="italic" textLength="22.10" lengthAdjust="spacingAndGlyphs" stroke="#222" stroke-width="0.28" >Casp6</text>
<rect x="412.70" y="247.54" width="55.30" height="3.80" fill="#2D4F8A" />
<rect x="412.70" y="251.34" width="35.70" height="4.10" fill="#AE0C30" />
<line x1="468.00" y1="249.44" x2="473.75" y2="249.44" stroke="#2A4070" stroke-width="0.9" />
<line x1="473.75" y1="248.14" x2="473.75" y2="250.74" stroke="#2A4070" stroke-width="0.9" />
<line x1="448.40" y1="253.39" x2="450.50" y2="253.39" stroke="#8A0A24" stroke-width="0.9" />
<line x1="450.50" y1="252.14" x2="450.50" y2="254.64" stroke="#8A0A24" stroke-width="0.9" />
<line x1="409.80" y1="251.34" x2="412.70" y2="251.34" stroke="#111" stroke-width="1" />
<text x="406.40" y="254.04" font-size="8.2" fill="#222" text-anchor="end" font-weight="normal" font-style="italic" textLength="22.10" lengthAdjust="spacingAndGlyphs" stroke="#222" stroke-width="0.28" >Casp3</text>
<rect x="412.70" y="258.42" width="74.20" height="3.80" fill="#2D4F8A" />
<rect x="412.70" y="262.22" width="46.30" height="4.10" fill="#AE0C30" />
<line x1="486.90" y1="260.32" x2="490.70" y2="260.32" stroke="#2A4070" stroke-width="0.9" />
<line x1="490.70" y1="259.02" x2="490.70" y2="261.62" stroke="#2A4070" stroke-width="0.9" />
<line x1="459.00" y1="264.27" x2="467.40" y2="264.27" stroke="#8A0A24" stroke-width="0.9" />
<line x1="467.40" y1="263.02" x2="467.40" y2="265.52" stroke="#8A0A24" stroke-width="0.9" />
<line x1="409.80" y1="262.22" x2="412.70" y2="262.22" stroke="#111" stroke-width="1" />
<text x="406.40" y="264.92" font-size="8.2" fill="#222" text-anchor="end" font-weight="normal" font-style="italic" textLength="32.65" lengthAdjust="spacingAndGlyphs" stroke="#222" stroke-width="0.28" >SelenoW</text>
<rect x="412.70" y="269.30" width="10.30" height="3.80" fill="#2D4F8A" />
<rect x="412.70" y="273.10" width="23.40" height="4.10" fill="#AE0C30" />
<line x1="423.00" y1="271.20" x2="427.60" y2="271.20" stroke="#2A4070" stroke-width="0.9" />
<line x1="427.60" y1="269.90" x2="427.60" y2="272.50" stroke="#2A4070" stroke-width="0.9" />
<line x1="436.10" y1="275.15" x2="445.20" y2="275.15" stroke="#8A0A24" stroke-width="0.9" />
<line x1="445.20" y1="273.90" x2="445.20" y2="276.40" stroke="#8A0A24" stroke-width="0.9" />
<line x1="409.80" y1="273.10" x2="412.70" y2="273.10" stroke="#111" stroke-width="1" />
<text x="406.40" y="275.80" font-size="8.2" fill="#222" text-anchor="end" font-weight="normal" font-style="italic" textLength="14.40" lengthAdjust="spacingAndGlyphs" stroke="#222" stroke-width="0.28" >Trx1</text>
<path d="M412.70,159.1 L508.3,159.1 L508.3,280.2 M412.70,159.1 L412.70,281" fill="none" stroke="#111" stroke-width="1.2"/>
<line x1="412.70" y1="191.80" x2="508.30" y2="191.80" stroke="#7A7A7A" stroke-width="1.5" />
<line x1="412.70" y1="224.20" x2="508.30" y2="224.20" stroke="#222" stroke-width="1.1" />
<line x1="412.70" y1="257.00" x2="508.30" y2="257.00" stroke="#5A5A5A" stroke-width="1.4" />
<line x1="412.10" y1="280.20" x2="508.90" y2="280.20" stroke="#111" stroke-width="1.2" />
<line x1="412.70" y1="280.20" x2="412.70" y2="282.50" stroke="#111" stroke-width="0.9" />
<text x="412.60" y="291.60" font-size="8.4" fill="#222" text-anchor="middle" font-weight="normal" font-style="normal" stroke="#222" stroke-width="0.15" >0.25</text>
<line x1="428.67" y1="280.20" x2="428.67" y2="282.50" stroke="#111" stroke-width="0.9" />
<text x="428.60" y="291.60" font-size="8.4" fill="#222" text-anchor="middle" font-weight="normal" font-style="normal" stroke="#222" stroke-width="0.15" >0.5</text>
<line x1="444.64" y1="280.20" x2="444.64" y2="282.50" stroke="#111" stroke-width="0.9" />
<text x="444.60" y="291.60" font-size="8.4" fill="#222" text-anchor="middle" font-weight="normal" font-style="normal" stroke="#222" stroke-width="0.15" >1</text>
<line x1="460.61" y1="280.20" x2="460.61" y2="282.50" stroke="#111" stroke-width="0.9" />
<text x="460.60" y="291.60" font-size="8.4" fill="#222" text-anchor="middle" font-weight="normal" font-style="normal" stroke="#222" stroke-width="0.15" >2</text>
<line x1="476.58" y1="280.20" x2="476.58" y2="282.50" stroke="#111" stroke-width="0.9" />
<text x="476.60" y="291.60" font-size="8.4" fill="#222" text-anchor="middle" font-weight="normal" font-style="normal" stroke="#222" stroke-width="0.15" >4</text>
<line x1="492.55" y1="280.20" x2="492.55" y2="282.50" stroke="#111" stroke-width="0.9" />
<text x="492.60" y="291.60" font-size="8.4" fill="#222" text-anchor="middle" font-weight="normal" font-style="normal" stroke="#222" stroke-width="0.15" >8</text>
<line x1="508.52" y1="280.20" x2="508.52" y2="282.50" stroke="#111" stroke-width="0.9" />
<text x="508.60" y="291.60" font-size="8.4" fill="#222" text-anchor="middle" font-weight="normal" font-style="normal" stroke="#222" stroke-width="0.15" >16</text>
<text x="425.80" y="303.40" font-size="9.0" fill="#333" text-anchor="start" font-weight="normal" font-style="normal" textLength="63.00" lengthAdjust="spacingAndGlyphs" stroke="#333" stroke-width="0.15" >Relative gene expression</text>
<rect x="477.60" y="163.00" width="7.80" height="5.60" fill="#AE0C30" />
<text x="488.00" y="168.80" font-size="8.4" fill="#222" text-anchor="start" font-weight="normal" font-style="normal" textLength="16.40" lengthAdjust="spacingAndGlyphs" stroke="#222" stroke-width="0.15" >Se-D</text>
<rect x="477.60" y="170.40" width="7.80" height="6.00" fill="#2D4F8A" />
<text x="488.00" y="176.40" font-size="8.4" fill="#222" text-anchor="start" font-weight="normal" font-style="normal" textLength="16.40" lengthAdjust="spacingAndGlyphs" stroke="#222" stroke-width="0.15" >Se-A</text>
<rect x="28.00" y="378.00" width="91.20" height="9.09" fill="#E6E6F8" />
<rect x="119.20" y="378.00" width="92.30" height="9.09" fill="#7070F2" />
<text x="217.90" y="385.60" font-size="8.2" fill="#222" text-anchor="start" font-weight="normal" font-style="normal" textLength="23.40" lengthAdjust="spacingAndGlyphs" stroke="#222" stroke-width="0.15" >Sepw1</text>
<rect x="28.00" y="386.89" width="91.20" height="9.09" fill="#FBFAFC" />
<rect x="119.20" y="386.89" width="92.30" height="9.09" fill="#6464F0" />
<text x="217.90" y="394.50" font-size="8.2" fill="#222" text-anchor="start" font-weight="normal" font-style="normal" textLength="32.85" lengthAdjust="spacingAndGlyphs" stroke="#222" stroke-width="0.15" >Selenbp1</text>
<rect x="28.00" y="395.79" width="91.20" height="9.09" fill="#E8E8F8" />
<rect x="119.20" y="395.79" width="92.30" height="9.09" fill="#4848F0" />
<text x="217.90" y="403.39" font-size="8.2" fill="#222" text-anchor="start" font-weight="normal" font-style="normal" textLength="33.30" lengthAdjust="spacingAndGlyphs" stroke="#222" stroke-width="0.15" >Fam132b</text>
<rect x="28.00" y="404.69" width="91.20" height="9.09" fill="#DCDCF6" />
<rect x="119.20" y="404.69" width="92.30" height="9.09" fill="#4848F0" />
<text x="217.90" y="412.29" font-size="8.2" fill="#222" text-anchor="start" font-weight="normal" font-style="normal" textLength="34.10" lengthAdjust="spacingAndGlyphs" stroke="#222" stroke-width="0.15" >Selenbp2</text>
<rect x="28.00" y="413.58" width="91.20" height="9.09" fill="#B4B4F4" />
<rect x="119.20" y="413.58" width="92.30" height="9.09" fill="#6E6EF2" />
<text x="217.90" y="421.18" font-size="8.2" fill="#222" text-anchor="start" font-weight="normal" font-style="normal" textLength="22.35" lengthAdjust="spacingAndGlyphs" stroke="#222" stroke-width="0.15" >Casp8</text>
<rect x="28.00" y="422.48" width="91.20" height="9.09" fill="#B0B0F2" />
<rect x="119.20" y="422.48" width="92.30" height="9.09" fill="#6C6CF2" />
<text x="217.90" y="430.08" font-size="8.2" fill="#222" text-anchor="start" font-weight="normal" font-style="normal" textLength="26.40" lengthAdjust="spacingAndGlyphs" stroke="#222" stroke-width="0.15" >Notch2</text>
<rect x="28.00" y="431.37" width="91.20" height="9.09" fill="#A4A4F2" />
<rect x="119.20" y="431.37" width="92.30" height="9.09" fill="#4848F0" />
<text x="217.90" y="438.97" font-size="8.2" fill="#222" text-anchor="start" font-weight="normal" font-style="normal" textLength="21.60" lengthAdjust="spacingAndGlyphs" stroke="#222" stroke-width="0.15" >Casp6</text>
<rect x="28.00" y="440.26" width="91.20" height="9.09" fill="#9494F0" />
<rect x="119.20" y="440.26" width="92.30" height="9.09" fill="#5050F0" />
<text x="217.90" y="447.87" font-size="8.2" fill="#222" text-anchor="start" font-weight="normal" font-style="normal" textLength="20.10" lengthAdjust="spacingAndGlyphs" stroke="#222" stroke-width="0.15" >Nqo2</text>
<rect x="28.00" y="449.16" width="91.20" height="9.09" fill="#2C2CF2" />
<rect x="119.20" y="449.16" width="92.30" height="9.09" fill="#8888F0" />
<text x="217.90" y="456.76" font-size="8.2" fill="#222" text-anchor="start" font-weight="normal" font-style="normal" textLength="19.35" lengthAdjust="spacingAndGlyphs" stroke="#222" stroke-width="0.15" >Nqo1</text>
<rect x="28.00" y="458.06" width="91.20" height="9.09" fill="#3030F2" />
<rect x="119.20" y="458.06" width="92.30" height="9.09" fill="#7070F0" />
<text x="217.90" y="465.66" font-size="8.2" fill="#222" text-anchor="start" font-weight="normal" font-style="normal" textLength="33.80" lengthAdjust="spacingAndGlyphs" stroke="#222" stroke-width="0.15" >Trp53bp1</text>
<rect x="28.00" y="466.95" width="91.20" height="9.09" fill="#1010F0" />
<rect x="119.20" y="466.95" width="92.30" height="9.09" fill="#0000F0" />
<text x="217.90" y="474.55" font-size="8.2" fill="#222" text-anchor="start" font-weight="normal" font-style="normal" textLength="16.80" lengthAdjust="spacingAndGlyphs" stroke="#222" stroke-width="0.15" >Cbr1</text>
<rect x="28.00" y="475.85" width="91.20" height="9.09" fill="#C8C8F4" />
<rect x="119.20" y="475.85" width="92.30" height="9.09" fill="#FAE8EA" />
<text x="217.90" y="483.45" font-size="8.2" fill="#222" text-anchor="start" font-weight="normal" font-style="normal" textLength="24.10" lengthAdjust="spacingAndGlyphs" stroke="#222" stroke-width="0.15" >Txnrd1</text>
<rect x="28.00" y="484.74" width="91.20" height="9.09" fill="#9A9AF2" />
<rect x="119.20" y="484.74" width="92.30" height="9.09" fill="#E8E8F8" />
<text x="217.90" y="492.34" font-size="8.2" fill="#222" text-anchor="start" font-weight="normal" font-style="normal" textLength="21.30" lengthAdjust="spacingAndGlyphs" stroke="#222" stroke-width="0.15" >Bach1</text>
<rect x="28.00" y="493.63" width="91.20" height="9.09" fill="#8888F0" />
<rect x="119.20" y="493.63" width="92.30" height="9.09" fill="#E49494" />
<text x="217.90" y="501.24" font-size="8.2" fill="#222" text-anchor="start" font-weight="normal" font-style="normal" textLength="24.10" lengthAdjust="spacingAndGlyphs" stroke="#222" stroke-width="0.15" >Hbq1b</text>
<rect x="28.00" y="502.53" width="91.20" height="9.09" fill="#3434F2" />
<rect x="119.20" y="502.53" width="92.30" height="9.09" fill="#F6E6EA" />
<text x="217.90" y="510.13" font-size="8.2" fill="#222" text-anchor="start" font-weight="normal" font-style="normal" textLength="23.80" lengthAdjust="spacingAndGlyphs" stroke="#222" stroke-width="0.15" >Hbq1a</text>
<rect x="28.00" y="511.42" width="91.20" height="9.09" fill="#E06464" />
<rect x="119.20" y="511.42" width="92.30" height="9.09" fill="#E00000" />
<text x="217.90" y="519.02" font-size="8.2" fill="#222" text-anchor="start" font-weight="normal" font-style="normal" textLength="17.10" lengthAdjust="spacingAndGlyphs" stroke="#222" stroke-width="0.15" >Fech</text>
<rect x="28.00" y="520.32" width="91.20" height="9.09" fill="#E8A0A0" />
<rect x="119.20" y="520.32" width="92.30" height="9.09" fill="#E02830" />
<text x="217.90" y="527.92" font-size="8.2" fill="#222" text-anchor="start" font-weight="normal" font-style="normal" textLength="18.40" lengthAdjust="spacingAndGlyphs" stroke="#222" stroke-width="0.15" >Alas2</text>
<rect x="28.00" y="529.22" width="91.20" height="9.09" fill="#ECA8A8" />
<rect x="119.20" y="529.22" width="92.30" height="9.09" fill="#E06A6A" />
<text x="217.90" y="536.82" font-size="8.2" fill="#222" text-anchor="start" font-weight="normal" font-style="normal" textLength="18.80" lengthAdjust="spacingAndGlyphs" stroke="#222" stroke-width="0.15" >Tmx1</text>
<rect x="28.00" y="538.11" width="91.20" height="9.09" fill="#E08888" />
<rect x="119.20" y="538.11" width="92.30" height="9.09" fill="#F4F4FA" />
<text x="217.90" y="545.71" font-size="8.2" fill="#222" text-anchor="start" font-weight="normal" font-style="normal" textLength="22.10" lengthAdjust="spacingAndGlyphs" stroke="#222" stroke-width="0.15" >Casp3</text>
<rect x="24.1" y="376.3" width="231.9" height="174.4" fill="none" stroke="#111" stroke-width="1.3"/>
<line x1="213.20" y1="376.30" x2="213.20" y2="550.70" stroke="#111" stroke-width="1.2" />
<text x="64.00" y="371.50" font-size="8.4" fill="#4C5C8C" text-anchor="start" font-weight="normal" font-style="normal" textLength="16.20" lengthAdjust="spacingAndGlyphs" stroke="#4C5C8C" stroke-width="0.15" >Se-A</text>
<text x="155.50" y="371.50" font-size="8.4" fill="#9A3A64" text-anchor="start" font-weight="normal" font-style="normal" textLength="17.00" lengthAdjust="spacingAndGlyphs" stroke="#9A3A64" stroke-width="0.15" >Se-D</text>
<defs><linearGradient id="gD" x1="0" x2="1" y1="0" y2="0"><stop offset="0" stop-color="#0000E0"/><stop offset="0.25" stop-color="#5050EE"/><stop offset="0.45" stop-color="#DCDCF6"/><stop offset="0.48" stop-color="#FFFFFF"/><stop offset="0.52" stop-color="#F8E8E8"/><stop offset="0.75" stop-color="#E89090"/><stop offset="1" stop-color="#E00010"/></linearGradient></defs>
<rect x="66.6" y="554.0" width="105" height="9.6" fill="url(#gD)" stroke="#222" stroke-width="0.8"/>
<line x1="68.75" y1="563.60" x2="68.75" y2="566.50" stroke="#333" stroke-width="0.9" />
<text x="68.75" y="577.30" font-size="8.8" fill="#333" text-anchor="middle" font-weight="normal" font-style="normal" stroke="#333" stroke-width="0.15" >6</text>
<line x1="87.35" y1="563.60" x2="87.35" y2="566.50" stroke="#333" stroke-width="0.9" />
<text x="87.35" y="577.30" font-size="8.8" fill="#333" text-anchor="middle" font-weight="normal" font-style="normal" stroke="#333" stroke-width="0.15" >8</text>
<line x1="105.95" y1="563.60" x2="105.95" y2="566.50" stroke="#333" stroke-width="0.9" />
<text x="105.95" y="577.30" font-size="8.8" fill="#333" text-anchor="middle" font-weight="normal" font-style="normal" stroke="#333" stroke-width="0.15" >10</text>
<line x1="124.55" y1="563.60" x2="124.55" y2="566.50" stroke="#333" stroke-width="0.9" />
<text x="124.55" y="577.30" font-size="8.8" fill="#333" text-anchor="middle" font-weight="normal" font-style="normal" stroke="#333" stroke-width="0.15" >12</text>
<line x1="143.15" y1="563.60" x2="143.15" y2="566.50" stroke="#333" stroke-width="0.9" />
<text x="143.15" y="577.30" font-size="8.8" fill="#333" text-anchor="middle" font-weight="normal" font-style="normal" stroke="#333" stroke-width="0.15" >14</text>
<line x1="161.75" y1="563.60" x2="161.75" y2="566.50" stroke="#333" stroke-width="0.9" />
<text x="161.75" y="577.30" font-size="8.8" fill="#333" text-anchor="middle" font-weight="normal" font-style="normal" stroke="#333" stroke-width="0.15" >16</text>
<text x="80.20" y="590.60" font-size="10.4" fill="#333" text-anchor="start" font-weight="normal" font-style="normal" textLength="76.10" lengthAdjust="spacingAndGlyphs" stroke="#333" stroke-width="0.25" >Expression:Low-&gt;High</text>
<text x="315.00" y="370.80" font-size="8.8" fill="#444" text-anchor="middle" font-weight="normal" font-style="normal" stroke="#444" stroke-width="0.1" >D</text>
<text x="341.50" y="370.80" font-size="8.8" fill="#444" text-anchor="middle" font-weight="normal" font-style="normal" stroke="#444" stroke-width="0.1" >A</text>
<text x="366.80" y="370.80" font-size="8.8" fill="#444" text-anchor="middle" font-weight="normal" font-style="normal" stroke="#444" stroke-width="0.1" >D</text>
<text x="393.00" y="370.80" font-size="8.8" fill="#444" text-anchor="middle" font-weight="normal" font-style="normal" stroke="#444" stroke-width="0.1" >A</text>
<text x="419.80" y="370.80" font-size="8.8" fill="#444" text-anchor="middle" font-weight="normal" font-style="normal" stroke="#444" stroke-width="0.1" >D</text>
<text x="438.50" y="370.60" font-size="8.6" fill="#333" text-anchor="start" font-weight="normal" font-style="normal" textLength="15.30" lengthAdjust="spacingAndGlyphs" stroke="#333" stroke-width="0.1" >kDa</text>
<defs><filter id="bl" x="-20%" y="-50%" width="140%" height="200%"><feGaussianBlur stdDeviation="0.9"/></filter><filter id="bl2" x="-20%" y="-50%" width="140%" height="200%"><feGaussianBlur stdDeviation="0.6"/></filter></defs>
<defs><linearGradient id="gB1" x1="0" x2="1" y1="0" y2="0"><stop offset="0" stop-color="#5E5E5E"/><stop offset="0.16" stop-color="#9C9C9C"/><stop offset="0.3" stop-color="#A8A8A8"/><stop offset="1" stop-color="#AEAEAE"/></linearGradient></defs>
<rect x="300.50" y="375.60" width="135.30" height="13.00" fill="url(#gB1)" stroke="#151515" stroke-width="1.4"/>
<g filter="url(#bl)">
<rect x="302.00" y="379.00" width="21.00" height="3.60" fill="#3A3A3A" />
<rect x="301.50" y="382.50" width="9.00" height="4.50" fill="#333333" />
<rect x="328.00" y="379.80" width="15.00" height="3.00" fill="#8A8A8A" />
<rect x="355.00" y="379.80" width="22.00" height="3.00" fill="#8E8E8E" />
<rect x="382.00" y="379.80" width="22.00" height="3.00" fill="#8E8E8E" />
<rect x="409.00" y="379.60" width="18.00" height="3.80" fill="#727272" />
</g>
<rect x="300.50" y="392.00" width="135.30" height="17.20" fill="#BDBDBD" stroke="#151515" stroke-width="1.4"/>
<g filter="url(#bl2)">
<rect x="306.70" y="397.2" width="22.50" height="3.1" rx="1.5" fill="#1A1A1A"/>
<rect x="333.20" y="397.2" width="20.10" height="3.1" rx="1.5" fill="#1A1A1A"/>
<rect x="356.40" y="397.2" width="23.30" height="3.1" rx="1.5" fill="#1A1A1A"/>
<rect x="381.80" y="397.2" width="22.20" height="3.1" rx="1.5" fill="#1A1A1A"/>
<rect x="406.60" y="397.2" width="21.80" height="3.1" rx="1.5" fill="#1A1A1A"/>
</g>
<text x="275.20" y="384.80" font-size="8.6" fill="#333" text-anchor="start" font-weight="normal" font-style="normal" textLength="21.10" lengthAdjust="spacingAndGlyphs" stroke="#333" stroke-width="0.1" >Bach1</text>
<text x="273.50" y="403.50" font-size="8.6" fill="#333" text-anchor="start" font-weight="normal" font-style="normal" textLength="23.30" lengthAdjust="spacingAndGlyphs" stroke="#333" stroke-width="0.1" >&#946;-actin</text>
<text x="439.80" y="384.50" font-size="8.2" fill="#222" text-anchor="start" font-weight="normal" font-style="normal" textLength="8.20" lengthAdjust="spacingAndGlyphs" stroke="#222" stroke-width="0.15" >97</text>
<text x="439.80" y="402.80" font-size="8.2" fill="#222" text-anchor="start" font-weight="normal" font-style="normal" textLength="8.70" lengthAdjust="spacingAndGlyphs" stroke="#222" stroke-width="0.15" >40</text>
<rect x="353.00" y="451.28" width="24.70" height="69.02" fill="#AE0C30" />
<rect x="387.70" y="480.23" width="24.70" height="40.07" fill="#2D4F8A" />
<line x1="366.20" y1="451.28" x2="366.20" y2="434.30" stroke="#AE0C30" stroke-width="1.5" />
<line x1="361.20" y1="434.30" x2="371.20" y2="434.30" stroke="#AE0C30" stroke-width="1.5" />
<line x1="387.90" y1="479.93" x2="412.20" y2="479.93" stroke="#2D4F8A" stroke-width="1" />
<line x1="348.30" y1="413.60" x2="348.30" y2="520.30" stroke="#111" stroke-width="1.3" />
<line x1="344.00" y1="520.30" x2="418.00" y2="520.30" stroke="#111" stroke-width="1.3" />
<line x1="344.30" y1="520.30" x2="348.30" y2="520.30" stroke="#111" stroke-width="1.1" />
<text x="341.40" y="522.70" font-size="8.2" fill="#333" text-anchor="end" font-weight="normal" font-style="normal" stroke="#333" stroke-width="0.15" >0.0</text>
<line x1="344.30" y1="494.45" x2="348.30" y2="494.45" stroke="#111" stroke-width="1.1" />
<text x="341.40" y="496.85" font-size="8.2" fill="#333" text-anchor="end" font-weight="normal" font-style="normal" stroke="#333" stroke-width="0.15" >0.1</text>
<line x1="344.30" y1="468.60" x2="348.30" y2="468.60" stroke="#111" stroke-width="1.1" />
<text x="341.40" y="471.00" font-size="8.2" fill="#333" text-anchor="end" font-weight="normal" font-style="normal" stroke="#333" stroke-width="0.15" >0.2</text>
<line x1="344.30" y1="442.75" x2="348.30" y2="442.75" stroke="#111" stroke-width="1.1" />
<text x="341.40" y="445.15" font-size="8.2" fill="#333" text-anchor="end" font-weight="normal" font-style="normal" stroke="#333" stroke-width="0.15" >0.3</text>
<line x1="344.30" y1="416.90" x2="348.30" y2="416.90" stroke="#111" stroke-width="1.1" />
<text x="341.40" y="419.30" font-size="8.2" fill="#333" text-anchor="end" font-weight="normal" font-style="normal" stroke="#333" stroke-width="0.15" >0.4</text>
<line x1="365.20" y1="520.30" x2="365.20" y2="525.00" stroke="#111" stroke-width="1.1" />
<line x1="400.20" y1="520.30" x2="400.20" y2="525.00" stroke="#111" stroke-width="1.1" />
<rect x="380.80" y="414.70" width="12.70" height="9.90" fill="#AE0C30" />
<text x="397.80" y="423.00" font-size="8.6" fill="#333" text-anchor="start" font-weight="normal" font-style="normal" textLength="15.00" lengthAdjust="spacingAndGlyphs" stroke="#333" stroke-width="0.15" >Se-D</text>
<rect x="380.80" y="427.00" width="12.70" height="9.80" fill="#2D4F8A" />
<text x="397.80" y="435.20" font-size="8.6" fill="#333" text-anchor="start" font-weight="normal" font-style="normal" textLength="15.00" lengthAdjust="spacingAndGlyphs" stroke="#333" stroke-width="0.15" >Se-A</text>
<text transform="translate(313.0,494.3) rotate(-90)" font-size="9.2" fill="#333" stroke="#333" stroke-width="0.2" textLength="53.6" lengthAdjust="spacingAndGlyphs">Densitometry of</text>
<text transform="translate(323.6,494.3) rotate(-90)" font-size="9.2" fill="#333" stroke="#333" stroke-width="0.2" textLength="56.5" lengthAdjust="spacingAndGlyphs">Bach1 to &#946;-actin</text>
<rect x="0.00" y="0.00" width="520.00" height="1.30" fill="#000" />
<rect x="0.00" y="0.00" width="1.20" height="600.00" fill="#000" />
<rect x="518.30" y="0.00" width="1.70" height="600.00" fill="#000" />
<rect x="0.00" y="598.50" width="520.00" height="1.50" fill="#000" />
</svg>
</body></html>
